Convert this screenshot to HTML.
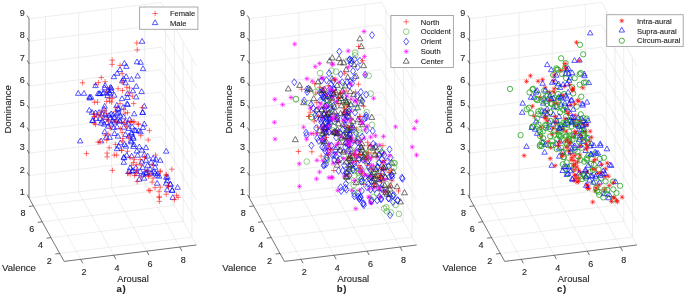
<!DOCTYPE html>
<html><head><meta charset="utf-8"><style>
html,body{margin:0;padding:0;background:#fff;}
svg{display:block;will-change:transform;}
text{font-family:"Liberation Sans",sans-serif;fill:#262626;stroke:#262626;stroke-width:0.12px;}
</style></head><body>
<svg width="685" height="297" viewBox="0 0 685 297">
<line x1="59.71" y1="253.47" x2="191.91" y2="237.07" stroke="#e3e3e3" stroke-width="0.6"/>
<line x1="50.94" y1="237.62" x2="183.14" y2="221.22" stroke="#e3e3e3" stroke-width="0.6"/>
<line x1="42.16" y1="221.77" x2="174.36" y2="205.37" stroke="#e3e3e3" stroke-width="0.6"/>
<line x1="33.39" y1="205.92" x2="165.59" y2="189.52" stroke="#e3e3e3" stroke-width="0.6"/>
<line x1="80.62" y1="259.35" x2="45.52" y2="195.95" stroke="#e3e3e3" stroke-width="0.6"/>
<line x1="113.67" y1="255.25" x2="78.57" y2="191.85" stroke="#e3e3e3" stroke-width="0.6"/>
<line x1="146.72" y1="251.15" x2="111.62" y2="187.75" stroke="#e3e3e3" stroke-width="0.6"/>
<line x1="179.77" y1="247.05" x2="144.67" y2="183.65" stroke="#e3e3e3" stroke-width="0.6"/>
<line x1="29.00" y1="198.00" x2="161.20" y2="181.60" stroke="#e3e3e3" stroke-width="0.6"/>
<line x1="29.00" y1="175.60" x2="161.20" y2="159.20" stroke="#e3e3e3" stroke-width="0.6"/>
<line x1="29.00" y1="153.20" x2="161.20" y2="136.80" stroke="#e3e3e3" stroke-width="0.6"/>
<line x1="29.00" y1="130.80" x2="161.20" y2="114.40" stroke="#e3e3e3" stroke-width="0.6"/>
<line x1="29.00" y1="108.40" x2="161.20" y2="92.00" stroke="#e3e3e3" stroke-width="0.6"/>
<line x1="29.00" y1="86.00" x2="161.20" y2="69.60" stroke="#e3e3e3" stroke-width="0.6"/>
<line x1="29.00" y1="63.60" x2="161.20" y2="47.20" stroke="#e3e3e3" stroke-width="0.6"/>
<line x1="29.00" y1="41.20" x2="161.20" y2="24.80" stroke="#e3e3e3" stroke-width="0.6"/>
<line x1="29.00" y1="18.80" x2="161.20" y2="2.40" stroke="#e3e3e3" stroke-width="0.6"/>
<line x1="45.52" y1="195.95" x2="45.52" y2="16.75" stroke="#e3e3e3" stroke-width="0.6"/>
<line x1="78.57" y1="191.85" x2="78.57" y2="12.65" stroke="#e3e3e3" stroke-width="0.6"/>
<line x1="111.62" y1="187.75" x2="111.62" y2="8.55" stroke="#e3e3e3" stroke-width="0.6"/>
<line x1="144.67" y1="183.65" x2="144.67" y2="4.45" stroke="#e3e3e3" stroke-width="0.6"/>
<line x1="196.30" y1="245.00" x2="161.20" y2="181.60" stroke="#e3e3e3" stroke-width="0.6"/>
<line x1="196.30" y1="222.60" x2="161.20" y2="159.20" stroke="#e3e3e3" stroke-width="0.6"/>
<line x1="196.30" y1="200.20" x2="161.20" y2="136.80" stroke="#e3e3e3" stroke-width="0.6"/>
<line x1="196.30" y1="177.80" x2="161.20" y2="114.40" stroke="#e3e3e3" stroke-width="0.6"/>
<line x1="196.30" y1="155.40" x2="161.20" y2="92.00" stroke="#e3e3e3" stroke-width="0.6"/>
<line x1="196.30" y1="133.00" x2="161.20" y2="69.60" stroke="#e3e3e3" stroke-width="0.6"/>
<line x1="196.30" y1="110.60" x2="161.20" y2="47.20" stroke="#e3e3e3" stroke-width="0.6"/>
<line x1="196.30" y1="88.20" x2="161.20" y2="24.80" stroke="#e3e3e3" stroke-width="0.6"/>
<line x1="196.30" y1="65.80" x2="161.20" y2="2.40" stroke="#e3e3e3" stroke-width="0.6"/>
<line x1="191.91" y1="237.07" x2="191.91" y2="57.87" stroke="#e3e3e3" stroke-width="0.6"/>
<line x1="183.14" y1="221.22" x2="183.14" y2="42.02" stroke="#e3e3e3" stroke-width="0.6"/>
<line x1="174.36" y1="205.37" x2="174.36" y2="26.17" stroke="#e3e3e3" stroke-width="0.6"/>
<line x1="165.59" y1="189.52" x2="165.59" y2="10.32" stroke="#e3e3e3" stroke-width="0.6"/>
<line x1="29.00" y1="198.00" x2="29.00" y2="18.80" stroke="#3a3a3a" stroke-width="0.7"/>
<line x1="64.10" y1="261.40" x2="29.00" y2="198.00" stroke="#3a3a3a" stroke-width="0.7"/>
<line x1="64.10" y1="261.40" x2="196.30" y2="245.00" stroke="#3a3a3a" stroke-width="0.7"/>
<line x1="29.00" y1="198.00" x2="27.16" y2="194.68" stroke="#3a3a3a" stroke-width="0.7"/>
<text x="24.70" y="195.10" font-size="9" text-anchor="end" font-weight="normal" >1</text>
<line x1="29.00" y1="175.60" x2="27.16" y2="172.28" stroke="#3a3a3a" stroke-width="0.7"/>
<text x="24.70" y="172.70" font-size="9" text-anchor="end" font-weight="normal" >2</text>
<line x1="29.00" y1="153.20" x2="27.16" y2="149.88" stroke="#3a3a3a" stroke-width="0.7"/>
<text x="24.70" y="150.30" font-size="9" text-anchor="end" font-weight="normal" >3</text>
<line x1="29.00" y1="130.80" x2="27.16" y2="127.48" stroke="#3a3a3a" stroke-width="0.7"/>
<text x="24.70" y="127.90" font-size="9" text-anchor="end" font-weight="normal" >4</text>
<line x1="29.00" y1="108.40" x2="27.16" y2="105.08" stroke="#3a3a3a" stroke-width="0.7"/>
<text x="24.70" y="105.50" font-size="9" text-anchor="end" font-weight="normal" >5</text>
<line x1="29.00" y1="86.00" x2="27.16" y2="82.68" stroke="#3a3a3a" stroke-width="0.7"/>
<text x="24.70" y="83.10" font-size="9" text-anchor="end" font-weight="normal" >6</text>
<line x1="29.00" y1="63.60" x2="27.16" y2="60.28" stroke="#3a3a3a" stroke-width="0.7"/>
<text x="24.70" y="60.70" font-size="9" text-anchor="end" font-weight="normal" >7</text>
<line x1="29.00" y1="41.20" x2="27.16" y2="37.88" stroke="#3a3a3a" stroke-width="0.7"/>
<text x="24.70" y="38.30" font-size="9" text-anchor="end" font-weight="normal" >8</text>
<line x1="29.00" y1="18.80" x2="27.16" y2="15.48" stroke="#3a3a3a" stroke-width="0.7"/>
<text x="24.70" y="15.90" font-size="9" text-anchor="end" font-weight="normal" >9</text>
<line x1="59.71" y1="253.47" x2="55.25" y2="254.03" stroke="#3a3a3a" stroke-width="0.7"/>
<text x="49.21" y="263.77" font-size="9" text-anchor="middle" font-weight="normal" >2</text>
<line x1="50.94" y1="237.62" x2="46.47" y2="238.18" stroke="#3a3a3a" stroke-width="0.7"/>
<text x="40.44" y="247.92" font-size="9" text-anchor="middle" font-weight="normal" >4</text>
<line x1="42.16" y1="221.77" x2="37.70" y2="222.33" stroke="#3a3a3a" stroke-width="0.7"/>
<text x="31.66" y="232.07" font-size="9" text-anchor="middle" font-weight="normal" >6</text>
<line x1="33.39" y1="205.92" x2="28.92" y2="206.48" stroke="#3a3a3a" stroke-width="0.7"/>
<text x="22.89" y="216.22" font-size="9" text-anchor="middle" font-weight="normal" >8</text>
<line x1="80.62" y1="259.35" x2="82.80" y2="263.29" stroke="#3a3a3a" stroke-width="0.7"/>
<text x="84.03" y="275.10" font-size="9" text-anchor="middle" font-weight="normal" >2</text>
<line x1="113.67" y1="255.25" x2="115.85" y2="259.19" stroke="#3a3a3a" stroke-width="0.7"/>
<text x="117.07" y="271.00" font-size="9" text-anchor="middle" font-weight="normal" >4</text>
<line x1="146.72" y1="251.15" x2="148.90" y2="255.09" stroke="#3a3a3a" stroke-width="0.7"/>
<text x="150.12" y="266.90" font-size="9" text-anchor="middle" font-weight="normal" >6</text>
<line x1="179.77" y1="247.05" x2="181.95" y2="250.99" stroke="#3a3a3a" stroke-width="0.7"/>
<text x="183.17" y="262.80" font-size="9" text-anchor="middle" font-weight="normal" >8</text>
<text x="2.00" y="270.80" font-size="9.6" text-anchor="start" font-weight="normal" >Valence</text>
<text x="117.20" y="282.00" font-size="9.35" text-anchor="start" font-weight="normal" >Arousal</text>
<text transform="translate(11.30,109.3) rotate(-90)" font-size="9.6" text-anchor="middle">Dominance</text>
<text x="116.50" y="292.00" font-size="9.6" text-anchor="start" font-weight="bold" letter-spacing="0.6">a)</text>
<line x1="280.01" y1="253.47" x2="412.21" y2="237.07" stroke="#e3e3e3" stroke-width="0.6"/>
<line x1="271.24" y1="237.62" x2="403.44" y2="221.22" stroke="#e3e3e3" stroke-width="0.6"/>
<line x1="262.46" y1="221.77" x2="394.66" y2="205.37" stroke="#e3e3e3" stroke-width="0.6"/>
<line x1="253.69" y1="205.92" x2="385.89" y2="189.52" stroke="#e3e3e3" stroke-width="0.6"/>
<line x1="300.93" y1="259.35" x2="265.82" y2="195.95" stroke="#e3e3e3" stroke-width="0.6"/>
<line x1="333.98" y1="255.25" x2="298.88" y2="191.85" stroke="#e3e3e3" stroke-width="0.6"/>
<line x1="367.02" y1="251.15" x2="331.93" y2="187.75" stroke="#e3e3e3" stroke-width="0.6"/>
<line x1="400.07" y1="247.05" x2="364.98" y2="183.65" stroke="#e3e3e3" stroke-width="0.6"/>
<line x1="249.30" y1="198.00" x2="381.50" y2="181.60" stroke="#e3e3e3" stroke-width="0.6"/>
<line x1="249.30" y1="175.60" x2="381.50" y2="159.20" stroke="#e3e3e3" stroke-width="0.6"/>
<line x1="249.30" y1="153.20" x2="381.50" y2="136.80" stroke="#e3e3e3" stroke-width="0.6"/>
<line x1="249.30" y1="130.80" x2="381.50" y2="114.40" stroke="#e3e3e3" stroke-width="0.6"/>
<line x1="249.30" y1="108.40" x2="381.50" y2="92.00" stroke="#e3e3e3" stroke-width="0.6"/>
<line x1="249.30" y1="86.00" x2="381.50" y2="69.60" stroke="#e3e3e3" stroke-width="0.6"/>
<line x1="249.30" y1="63.60" x2="381.50" y2="47.20" stroke="#e3e3e3" stroke-width="0.6"/>
<line x1="249.30" y1="41.20" x2="381.50" y2="24.80" stroke="#e3e3e3" stroke-width="0.6"/>
<line x1="249.30" y1="18.80" x2="381.50" y2="2.40" stroke="#e3e3e3" stroke-width="0.6"/>
<line x1="265.82" y1="195.95" x2="265.82" y2="16.75" stroke="#e3e3e3" stroke-width="0.6"/>
<line x1="298.88" y1="191.85" x2="298.88" y2="12.65" stroke="#e3e3e3" stroke-width="0.6"/>
<line x1="331.93" y1="187.75" x2="331.93" y2="8.55" stroke="#e3e3e3" stroke-width="0.6"/>
<line x1="364.98" y1="183.65" x2="364.98" y2="4.45" stroke="#e3e3e3" stroke-width="0.6"/>
<line x1="416.60" y1="245.00" x2="381.50" y2="181.60" stroke="#e3e3e3" stroke-width="0.6"/>
<line x1="416.60" y1="222.60" x2="381.50" y2="159.20" stroke="#e3e3e3" stroke-width="0.6"/>
<line x1="416.60" y1="200.20" x2="381.50" y2="136.80" stroke="#e3e3e3" stroke-width="0.6"/>
<line x1="416.60" y1="177.80" x2="381.50" y2="114.40" stroke="#e3e3e3" stroke-width="0.6"/>
<line x1="416.60" y1="155.40" x2="381.50" y2="92.00" stroke="#e3e3e3" stroke-width="0.6"/>
<line x1="416.60" y1="133.00" x2="381.50" y2="69.60" stroke="#e3e3e3" stroke-width="0.6"/>
<line x1="416.60" y1="110.60" x2="381.50" y2="47.20" stroke="#e3e3e3" stroke-width="0.6"/>
<line x1="416.60" y1="88.20" x2="381.50" y2="24.80" stroke="#e3e3e3" stroke-width="0.6"/>
<line x1="416.60" y1="65.80" x2="381.50" y2="2.40" stroke="#e3e3e3" stroke-width="0.6"/>
<line x1="412.21" y1="237.07" x2="412.21" y2="57.87" stroke="#e3e3e3" stroke-width="0.6"/>
<line x1="403.44" y1="221.22" x2="403.44" y2="42.02" stroke="#e3e3e3" stroke-width="0.6"/>
<line x1="394.66" y1="205.37" x2="394.66" y2="26.17" stroke="#e3e3e3" stroke-width="0.6"/>
<line x1="385.89" y1="189.52" x2="385.89" y2="10.32" stroke="#e3e3e3" stroke-width="0.6"/>
<line x1="249.30" y1="198.00" x2="249.30" y2="18.80" stroke="#3a3a3a" stroke-width="0.7"/>
<line x1="284.40" y1="261.40" x2="249.30" y2="198.00" stroke="#3a3a3a" stroke-width="0.7"/>
<line x1="284.40" y1="261.40" x2="416.60" y2="245.00" stroke="#3a3a3a" stroke-width="0.7"/>
<line x1="249.30" y1="198.00" x2="247.46" y2="194.68" stroke="#3a3a3a" stroke-width="0.7"/>
<text x="245.00" y="195.10" font-size="9" text-anchor="end" font-weight="normal" >1</text>
<line x1="249.30" y1="175.60" x2="247.46" y2="172.28" stroke="#3a3a3a" stroke-width="0.7"/>
<text x="245.00" y="172.70" font-size="9" text-anchor="end" font-weight="normal" >2</text>
<line x1="249.30" y1="153.20" x2="247.46" y2="149.88" stroke="#3a3a3a" stroke-width="0.7"/>
<text x="245.00" y="150.30" font-size="9" text-anchor="end" font-weight="normal" >3</text>
<line x1="249.30" y1="130.80" x2="247.46" y2="127.48" stroke="#3a3a3a" stroke-width="0.7"/>
<text x="245.00" y="127.90" font-size="9" text-anchor="end" font-weight="normal" >4</text>
<line x1="249.30" y1="108.40" x2="247.46" y2="105.08" stroke="#3a3a3a" stroke-width="0.7"/>
<text x="245.00" y="105.50" font-size="9" text-anchor="end" font-weight="normal" >5</text>
<line x1="249.30" y1="86.00" x2="247.46" y2="82.68" stroke="#3a3a3a" stroke-width="0.7"/>
<text x="245.00" y="83.10" font-size="9" text-anchor="end" font-weight="normal" >6</text>
<line x1="249.30" y1="63.60" x2="247.46" y2="60.28" stroke="#3a3a3a" stroke-width="0.7"/>
<text x="245.00" y="60.70" font-size="9" text-anchor="end" font-weight="normal" >7</text>
<line x1="249.30" y1="41.20" x2="247.46" y2="37.88" stroke="#3a3a3a" stroke-width="0.7"/>
<text x="245.00" y="38.30" font-size="9" text-anchor="end" font-weight="normal" >8</text>
<line x1="249.30" y1="18.80" x2="247.46" y2="15.48" stroke="#3a3a3a" stroke-width="0.7"/>
<text x="245.00" y="15.90" font-size="9" text-anchor="end" font-weight="normal" >9</text>
<line x1="280.01" y1="253.47" x2="275.55" y2="254.03" stroke="#3a3a3a" stroke-width="0.7"/>
<text x="269.51" y="263.77" font-size="9" text-anchor="middle" font-weight="normal" >2</text>
<line x1="271.24" y1="237.62" x2="266.77" y2="238.18" stroke="#3a3a3a" stroke-width="0.7"/>
<text x="260.74" y="247.92" font-size="9" text-anchor="middle" font-weight="normal" >4</text>
<line x1="262.46" y1="221.77" x2="258.00" y2="222.33" stroke="#3a3a3a" stroke-width="0.7"/>
<text x="251.96" y="232.07" font-size="9" text-anchor="middle" font-weight="normal" >6</text>
<line x1="253.69" y1="205.92" x2="249.22" y2="206.48" stroke="#3a3a3a" stroke-width="0.7"/>
<text x="243.19" y="216.22" font-size="9" text-anchor="middle" font-weight="normal" >8</text>
<line x1="300.93" y1="259.35" x2="303.10" y2="263.29" stroke="#3a3a3a" stroke-width="0.7"/>
<text x="304.32" y="275.10" font-size="9" text-anchor="middle" font-weight="normal" >2</text>
<line x1="333.98" y1="255.25" x2="336.15" y2="259.19" stroke="#3a3a3a" stroke-width="0.7"/>
<text x="337.38" y="271.00" font-size="9" text-anchor="middle" font-weight="normal" >4</text>
<line x1="367.02" y1="251.15" x2="369.20" y2="255.09" stroke="#3a3a3a" stroke-width="0.7"/>
<text x="370.42" y="266.90" font-size="9" text-anchor="middle" font-weight="normal" >6</text>
<line x1="400.07" y1="247.05" x2="402.25" y2="250.99" stroke="#3a3a3a" stroke-width="0.7"/>
<text x="403.47" y="262.80" font-size="9" text-anchor="middle" font-weight="normal" >8</text>
<text x="222.30" y="270.80" font-size="9.6" text-anchor="start" font-weight="normal" >Valence</text>
<text x="337.50" y="282.00" font-size="9.35" text-anchor="start" font-weight="normal" >Arousal</text>
<text transform="translate(231.60,109.3) rotate(-90)" font-size="9.6" text-anchor="middle">Dominance</text>
<text x="336.80" y="292.00" font-size="9.6" text-anchor="start" font-weight="bold" letter-spacing="0.6">b)</text>
<line x1="500.31" y1="253.47" x2="632.51" y2="237.07" stroke="#e3e3e3" stroke-width="0.6"/>
<line x1="491.54" y1="237.62" x2="623.74" y2="221.22" stroke="#e3e3e3" stroke-width="0.6"/>
<line x1="482.76" y1="221.77" x2="614.96" y2="205.37" stroke="#e3e3e3" stroke-width="0.6"/>
<line x1="473.99" y1="205.92" x2="606.19" y2="189.52" stroke="#e3e3e3" stroke-width="0.6"/>
<line x1="521.23" y1="259.35" x2="486.12" y2="195.95" stroke="#e3e3e3" stroke-width="0.6"/>
<line x1="554.27" y1="255.25" x2="519.17" y2="191.85" stroke="#e3e3e3" stroke-width="0.6"/>
<line x1="587.33" y1="251.15" x2="552.23" y2="187.75" stroke="#e3e3e3" stroke-width="0.6"/>
<line x1="620.38" y1="247.05" x2="585.27" y2="183.65" stroke="#e3e3e3" stroke-width="0.6"/>
<line x1="469.60" y1="198.00" x2="601.80" y2="181.60" stroke="#e3e3e3" stroke-width="0.6"/>
<line x1="469.60" y1="175.60" x2="601.80" y2="159.20" stroke="#e3e3e3" stroke-width="0.6"/>
<line x1="469.60" y1="153.20" x2="601.80" y2="136.80" stroke="#e3e3e3" stroke-width="0.6"/>
<line x1="469.60" y1="130.80" x2="601.80" y2="114.40" stroke="#e3e3e3" stroke-width="0.6"/>
<line x1="469.60" y1="108.40" x2="601.80" y2="92.00" stroke="#e3e3e3" stroke-width="0.6"/>
<line x1="469.60" y1="86.00" x2="601.80" y2="69.60" stroke="#e3e3e3" stroke-width="0.6"/>
<line x1="469.60" y1="63.60" x2="601.80" y2="47.20" stroke="#e3e3e3" stroke-width="0.6"/>
<line x1="469.60" y1="41.20" x2="601.80" y2="24.80" stroke="#e3e3e3" stroke-width="0.6"/>
<line x1="469.60" y1="18.80" x2="601.80" y2="2.40" stroke="#e3e3e3" stroke-width="0.6"/>
<line x1="486.12" y1="195.95" x2="486.12" y2="16.75" stroke="#e3e3e3" stroke-width="0.6"/>
<line x1="519.17" y1="191.85" x2="519.17" y2="12.65" stroke="#e3e3e3" stroke-width="0.6"/>
<line x1="552.23" y1="187.75" x2="552.23" y2="8.55" stroke="#e3e3e3" stroke-width="0.6"/>
<line x1="585.27" y1="183.65" x2="585.27" y2="4.45" stroke="#e3e3e3" stroke-width="0.6"/>
<line x1="636.90" y1="245.00" x2="601.80" y2="181.60" stroke="#e3e3e3" stroke-width="0.6"/>
<line x1="636.90" y1="222.60" x2="601.80" y2="159.20" stroke="#e3e3e3" stroke-width="0.6"/>
<line x1="636.90" y1="200.20" x2="601.80" y2="136.80" stroke="#e3e3e3" stroke-width="0.6"/>
<line x1="636.90" y1="177.80" x2="601.80" y2="114.40" stroke="#e3e3e3" stroke-width="0.6"/>
<line x1="636.90" y1="155.40" x2="601.80" y2="92.00" stroke="#e3e3e3" stroke-width="0.6"/>
<line x1="636.90" y1="133.00" x2="601.80" y2="69.60" stroke="#e3e3e3" stroke-width="0.6"/>
<line x1="636.90" y1="110.60" x2="601.80" y2="47.20" stroke="#e3e3e3" stroke-width="0.6"/>
<line x1="636.90" y1="88.20" x2="601.80" y2="24.80" stroke="#e3e3e3" stroke-width="0.6"/>
<line x1="636.90" y1="65.80" x2="601.80" y2="2.40" stroke="#e3e3e3" stroke-width="0.6"/>
<line x1="632.51" y1="237.07" x2="632.51" y2="57.87" stroke="#e3e3e3" stroke-width="0.6"/>
<line x1="623.74" y1="221.22" x2="623.74" y2="42.02" stroke="#e3e3e3" stroke-width="0.6"/>
<line x1="614.96" y1="205.37" x2="614.96" y2="26.17" stroke="#e3e3e3" stroke-width="0.6"/>
<line x1="606.19" y1="189.52" x2="606.19" y2="10.32" stroke="#e3e3e3" stroke-width="0.6"/>
<line x1="469.60" y1="198.00" x2="469.60" y2="18.80" stroke="#3a3a3a" stroke-width="0.7"/>
<line x1="504.70" y1="261.40" x2="469.60" y2="198.00" stroke="#3a3a3a" stroke-width="0.7"/>
<line x1="504.70" y1="261.40" x2="636.90" y2="245.00" stroke="#3a3a3a" stroke-width="0.7"/>
<line x1="469.60" y1="198.00" x2="467.76" y2="194.68" stroke="#3a3a3a" stroke-width="0.7"/>
<text x="465.30" y="195.10" font-size="9" text-anchor="end" font-weight="normal" >1</text>
<line x1="469.60" y1="175.60" x2="467.76" y2="172.28" stroke="#3a3a3a" stroke-width="0.7"/>
<text x="465.30" y="172.70" font-size="9" text-anchor="end" font-weight="normal" >2</text>
<line x1="469.60" y1="153.20" x2="467.76" y2="149.88" stroke="#3a3a3a" stroke-width="0.7"/>
<text x="465.30" y="150.30" font-size="9" text-anchor="end" font-weight="normal" >3</text>
<line x1="469.60" y1="130.80" x2="467.76" y2="127.48" stroke="#3a3a3a" stroke-width="0.7"/>
<text x="465.30" y="127.90" font-size="9" text-anchor="end" font-weight="normal" >4</text>
<line x1="469.60" y1="108.40" x2="467.76" y2="105.08" stroke="#3a3a3a" stroke-width="0.7"/>
<text x="465.30" y="105.50" font-size="9" text-anchor="end" font-weight="normal" >5</text>
<line x1="469.60" y1="86.00" x2="467.76" y2="82.68" stroke="#3a3a3a" stroke-width="0.7"/>
<text x="465.30" y="83.10" font-size="9" text-anchor="end" font-weight="normal" >6</text>
<line x1="469.60" y1="63.60" x2="467.76" y2="60.28" stroke="#3a3a3a" stroke-width="0.7"/>
<text x="465.30" y="60.70" font-size="9" text-anchor="end" font-weight="normal" >7</text>
<line x1="469.60" y1="41.20" x2="467.76" y2="37.88" stroke="#3a3a3a" stroke-width="0.7"/>
<text x="465.30" y="38.30" font-size="9" text-anchor="end" font-weight="normal" >8</text>
<line x1="469.60" y1="18.80" x2="467.76" y2="15.48" stroke="#3a3a3a" stroke-width="0.7"/>
<text x="465.30" y="15.90" font-size="9" text-anchor="end" font-weight="normal" >9</text>
<line x1="500.31" y1="253.47" x2="495.85" y2="254.03" stroke="#3a3a3a" stroke-width="0.7"/>
<text x="489.81" y="263.77" font-size="9" text-anchor="middle" font-weight="normal" >2</text>
<line x1="491.54" y1="237.62" x2="487.07" y2="238.18" stroke="#3a3a3a" stroke-width="0.7"/>
<text x="481.04" y="247.92" font-size="9" text-anchor="middle" font-weight="normal" >4</text>
<line x1="482.76" y1="221.77" x2="478.30" y2="222.33" stroke="#3a3a3a" stroke-width="0.7"/>
<text x="472.26" y="232.07" font-size="9" text-anchor="middle" font-weight="normal" >6</text>
<line x1="473.99" y1="205.92" x2="469.52" y2="206.48" stroke="#3a3a3a" stroke-width="0.7"/>
<text x="463.49" y="216.22" font-size="9" text-anchor="middle" font-weight="normal" >8</text>
<line x1="521.23" y1="259.35" x2="523.40" y2="263.29" stroke="#3a3a3a" stroke-width="0.7"/>
<text x="524.62" y="275.10" font-size="9" text-anchor="middle" font-weight="normal" >2</text>
<line x1="554.27" y1="255.25" x2="556.45" y2="259.19" stroke="#3a3a3a" stroke-width="0.7"/>
<text x="557.67" y="271.00" font-size="9" text-anchor="middle" font-weight="normal" >4</text>
<line x1="587.33" y1="251.15" x2="589.50" y2="255.09" stroke="#3a3a3a" stroke-width="0.7"/>
<text x="590.73" y="266.90" font-size="9" text-anchor="middle" font-weight="normal" >6</text>
<line x1="620.38" y1="247.05" x2="622.55" y2="250.99" stroke="#3a3a3a" stroke-width="0.7"/>
<text x="623.77" y="262.80" font-size="9" text-anchor="middle" font-weight="normal" >8</text>
<text x="442.60" y="270.80" font-size="9.6" text-anchor="start" font-weight="normal" >Valence</text>
<text x="557.80" y="282.00" font-size="9.35" text-anchor="start" font-weight="normal" >Arousal</text>
<text transform="translate(451.90,109.3) rotate(-90)" font-size="9.6" text-anchor="middle">Dominance</text>
<text x="557.10" y="292.00" font-size="9.6" text-anchor="start" font-weight="bold" letter-spacing="0.6">c)</text>
<path d="M134.05 43.00H139.55M136.80 40.25V45.75" stroke="#ff0000" stroke-width="0.55" fill="none"/>
<path d="M134.45 49.90H139.95M137.20 47.15V52.65" stroke="#ff0000" stroke-width="0.55" fill="none"/>
<path d="M142.10 38.50L144.85 43.30H139.35Z" stroke="#0000ff" stroke-width="0.65" fill="none" stroke-linejoin="miter"/>
<path d="M109.45 60.20H114.95M112.20 57.45V62.95" stroke="#ff0000" stroke-width="0.55" fill="none"/>
<path d="M109.35 64.40H114.85M112.10 61.65V67.15" stroke="#ff0000" stroke-width="0.55" fill="none"/>
<path d="M117.35 65.40H122.85M120.10 62.65V68.15" stroke="#ff0000" stroke-width="0.55" fill="none"/>
<path d="M124.40 60.50L127.15 65.30H121.65Z" stroke="#0000ff" stroke-width="0.65" fill="none" stroke-linejoin="miter"/>
<path d="M126.40 63.60L129.15 68.40H123.65Z" stroke="#0000ff" stroke-width="0.65" fill="none" stroke-linejoin="miter"/>
<path d="M137.00 59.00L139.75 63.80H134.25Z" stroke="#0000ff" stroke-width="0.65" fill="none" stroke-linejoin="miter"/>
<path d="M140.60 59.50L143.35 64.30H137.85Z" stroke="#0000ff" stroke-width="0.65" fill="none" stroke-linejoin="miter"/>
<path d="M143.00 65.80L145.75 70.60H140.25Z" stroke="#0000ff" stroke-width="0.65" fill="none" stroke-linejoin="miter"/>
<path d="M79.85 82.80H85.35M82.60 80.05V85.55" stroke="#ff0000" stroke-width="0.55" fill="none"/>
<path d="M95.65 82.60H101.15M98.40 79.85V85.35" stroke="#ff0000" stroke-width="0.55" fill="none"/>
<path d="M92.95 84.50H98.45M95.70 81.75V87.25" stroke="#ff0000" stroke-width="0.55" fill="none"/>
<path d="M95.50 82.80L98.25 87.60H92.75Z" stroke="#0000ff" stroke-width="0.65" fill="none" stroke-linejoin="miter"/>
<path d="M78.20 90.50L80.95 95.30H75.45Z" stroke="#0000ff" stroke-width="0.65" fill="none" stroke-linejoin="miter"/>
<path d="M84.00 90.50L86.75 95.30H81.25Z" stroke="#0000ff" stroke-width="0.65" fill="none" stroke-linejoin="miter"/>
<path d="M89.60 94.20L92.35 99.00H86.85Z" stroke="#0000ff" stroke-width="0.65" fill="none" stroke-linejoin="miter"/>
<path d="M89.60 95.10L92.35 99.90H86.85Z" stroke="#0000ff" stroke-width="0.65" fill="none" stroke-linejoin="miter"/>
<path d="M99.30 90.70L102.05 95.50H96.55Z" stroke="#0000ff" stroke-width="0.65" fill="none" stroke-linejoin="miter"/>
<path d="M91.65 102.20H97.15M94.40 99.45V104.95" stroke="#ff0000" stroke-width="0.55" fill="none"/>
<path d="M94.75 102.10H100.25M97.50 99.35V104.85" stroke="#ff0000" stroke-width="0.55" fill="none"/>
<path d="M89.30 107.30L92.05 112.10H86.55Z" stroke="#0000ff" stroke-width="0.65" fill="none" stroke-linejoin="miter"/>
<path d="M98.55 77.60H104.05M101.30 74.85V80.35" stroke="#ff0000" stroke-width="0.55" fill="none"/>
<path d="M102.35 81.70H107.85M105.10 78.95V84.45" stroke="#ff0000" stroke-width="0.55" fill="none"/>
<path d="M105.10 82.50L107.85 87.30H102.35Z" stroke="#0000ff" stroke-width="0.65" fill="none" stroke-linejoin="miter"/>
<path d="M104.60 85.00L107.35 89.80H101.85Z" stroke="#0000ff" stroke-width="0.65" fill="none" stroke-linejoin="miter"/>
<path d="M106.85 87.70H112.35M109.60 84.95V90.45" stroke="#ff0000" stroke-width="0.55" fill="none"/>
<path d="M110.70 84.50L113.45 89.30H107.95Z" stroke="#0000ff" stroke-width="0.65" fill="none" stroke-linejoin="miter"/>
<path d="M108.10 87.60L110.85 92.40H105.35Z" stroke="#0000ff" stroke-width="0.65" fill="none" stroke-linejoin="miter"/>
<path d="M104.35 91.30H109.85M107.10 88.55V94.05" stroke="#ff0000" stroke-width="0.55" fill="none"/>
<path d="M111.20 87.60L113.95 92.40H108.45Z" stroke="#0000ff" stroke-width="0.65" fill="none" stroke-linejoin="miter"/>
<path d="M103.60 89.60L106.35 94.40H100.85Z" stroke="#0000ff" stroke-width="0.65" fill="none" stroke-linejoin="miter"/>
<path d="M109.10 89.60L111.85 94.40H106.35Z" stroke="#0000ff" stroke-width="0.65" fill="none" stroke-linejoin="miter"/>
<path d="M119.35 73.40H124.85M122.10 70.65V76.15" stroke="#ff0000" stroke-width="0.55" fill="none"/>
<path d="M122.30 78.00L125.05 82.80H119.55Z" stroke="#0000ff" stroke-width="0.65" fill="none" stroke-linejoin="miter"/>
<path d="M119.45 82.00H124.95M122.20 79.25V84.75" stroke="#ff0000" stroke-width="0.55" fill="none"/>
<path d="M115.35 88.70H120.85M118.10 85.95V91.45" stroke="#ff0000" stroke-width="0.55" fill="none"/>
<path d="M119.75 90.50H125.25M122.50 87.75V93.25" stroke="#ff0000" stroke-width="0.55" fill="none"/>
<path d="M126.20 73.80L128.95 78.60H123.45Z" stroke="#0000ff" stroke-width="0.65" fill="none" stroke-linejoin="miter"/>
<path d="M123.50 75.90L126.25 80.70H120.75Z" stroke="#0000ff" stroke-width="0.65" fill="none" stroke-linejoin="miter"/>
<path d="M131.50 76.50L134.25 81.30H128.75Z" stroke="#0000ff" stroke-width="0.65" fill="none" stroke-linejoin="miter"/>
<path d="M137.60 73.20L140.35 78.00H134.85Z" stroke="#0000ff" stroke-width="0.65" fill="none" stroke-linejoin="miter"/>
<path d="M136.30 83.50L139.05 88.30H133.55Z" stroke="#0000ff" stroke-width="0.65" fill="none" stroke-linejoin="miter"/>
<path d="M111.30 85.30L114.05 90.10H108.55Z" stroke="#0000ff" stroke-width="0.65" fill="none" stroke-linejoin="miter"/>
<path d="M124.05 87.30H129.55M126.80 84.55V90.05" stroke="#ff0000" stroke-width="0.55" fill="none"/>
<path d="M126.75 88.00H132.25M129.50 85.25V90.75" stroke="#ff0000" stroke-width="0.55" fill="none"/>
<path d="M132.90 88.00L135.65 92.80H130.15Z" stroke="#0000ff" stroke-width="0.65" fill="none" stroke-linejoin="miter"/>
<path d="M141.60 88.70L144.35 93.50H138.85Z" stroke="#0000ff" stroke-width="0.65" fill="none" stroke-linejoin="miter"/>
<path d="M127.50 90.70L130.25 95.50H124.75Z" stroke="#0000ff" stroke-width="0.65" fill="none" stroke-linejoin="miter"/>
<path d="M126.35 93.00H131.85M129.10 90.25V95.75" stroke="#ff0000" stroke-width="0.55" fill="none"/>
<path d="M129.55 96.20H135.05M132.30 93.45V98.95" stroke="#ff0000" stroke-width="0.55" fill="none"/>
<path d="M136.20 94.10L138.95 98.90H133.45Z" stroke="#0000ff" stroke-width="0.65" fill="none" stroke-linejoin="miter"/>
<path d="M127.40 94.70L130.15 99.50H124.65Z" stroke="#0000ff" stroke-width="0.65" fill="none" stroke-linejoin="miter"/>
<path d="M125.60 80.00L128.35 84.80H122.85Z" stroke="#0000ff" stroke-width="0.65" fill="none" stroke-linejoin="miter"/>
<path d="M91.45 116.80H96.95M94.20 114.05V119.55" stroke="#ff0000" stroke-width="0.55" fill="none"/>
<path d="M92.40 117.60L95.15 122.40H89.65Z" stroke="#0000ff" stroke-width="0.65" fill="none" stroke-linejoin="miter"/>
<path d="M91.45 123.30H96.95M94.20 120.55V126.05" stroke="#ff0000" stroke-width="0.55" fill="none"/>
<path d="M98.10 90.80L100.85 95.60H95.35Z" stroke="#0000ff" stroke-width="0.65" fill="none" stroke-linejoin="miter"/>
<path d="M100.10 90.80L102.85 95.60H97.35Z" stroke="#0000ff" stroke-width="0.65" fill="none" stroke-linejoin="miter"/>
<path d="M103.10 90.80L105.85 95.60H100.35Z" stroke="#0000ff" stroke-width="0.65" fill="none" stroke-linejoin="miter"/>
<path d="M110.20 90.80L112.95 95.60H107.45Z" stroke="#0000ff" stroke-width="0.65" fill="none" stroke-linejoin="miter"/>
<path d="M114.20 92.30L116.95 97.10H111.45Z" stroke="#0000ff" stroke-width="0.65" fill="none" stroke-linejoin="miter"/>
<path d="M107.70 92.80L110.45 97.60H104.95Z" stroke="#0000ff" stroke-width="0.65" fill="none" stroke-linejoin="miter"/>
<path d="M91.00 94.30L93.75 99.10H88.25Z" stroke="#0000ff" stroke-width="0.65" fill="none" stroke-linejoin="miter"/>
<path d="M103.95 101.60H109.45M106.70 98.85V104.35" stroke="#ff0000" stroke-width="0.55" fill="none"/>
<path d="M106.95 101.10H112.45M109.70 98.35V103.85" stroke="#ff0000" stroke-width="0.55" fill="none"/>
<path d="M108.95 102.10H114.45M111.70 99.35V104.85" stroke="#ff0000" stroke-width="0.55" fill="none"/>
<path d="M109.45 98.60H114.95M112.20 95.85V101.35" stroke="#ff0000" stroke-width="0.55" fill="none"/>
<path d="M106.45 98.10H111.95M109.20 95.35V100.85" stroke="#ff0000" stroke-width="0.55" fill="none"/>
<path d="M104.60 103.40L107.35 108.20H101.85Z" stroke="#0000ff" stroke-width="0.65" fill="none" stroke-linejoin="miter"/>
<path d="M104.10 106.00L106.85 110.80H101.35Z" stroke="#0000ff" stroke-width="0.65" fill="none" stroke-linejoin="miter"/>
<path d="M101.35 110.20H106.85M104.10 107.45V112.95" stroke="#ff0000" stroke-width="0.55" fill="none"/>
<path d="M116.80 102.40L119.55 107.20H114.05Z" stroke="#0000ff" stroke-width="0.65" fill="none" stroke-linejoin="miter"/>
<path d="M117.80 105.50L120.55 110.30H115.05Z" stroke="#0000ff" stroke-width="0.65" fill="none" stroke-linejoin="miter"/>
<path d="M113.05 107.70H118.55M115.80 104.95V110.45" stroke="#ff0000" stroke-width="0.55" fill="none"/>
<path d="M92.00 109.50L94.75 114.30H89.25Z" stroke="#0000ff" stroke-width="0.65" fill="none" stroke-linejoin="miter"/>
<path d="M91.25 113.70H96.75M94.00 110.95V116.45" stroke="#ff0000" stroke-width="0.55" fill="none"/>
<path d="M95.60 110.00L98.35 114.80H92.85Z" stroke="#0000ff" stroke-width="0.65" fill="none" stroke-linejoin="miter"/>
<path d="M99.10 109.50L101.85 114.30H96.35Z" stroke="#0000ff" stroke-width="0.65" fill="none" stroke-linejoin="miter"/>
<path d="M98.35 112.20H103.85M101.10 109.45V114.95" stroke="#ff0000" stroke-width="0.55" fill="none"/>
<path d="M102.10 111.00L104.85 115.80H99.35Z" stroke="#0000ff" stroke-width="0.65" fill="none" stroke-linejoin="miter"/>
<path d="M95.85 115.20H101.35M98.60 112.45V117.95" stroke="#ff0000" stroke-width="0.55" fill="none"/>
<path d="M105.20 111.50L107.95 116.30H102.45Z" stroke="#0000ff" stroke-width="0.65" fill="none" stroke-linejoin="miter"/>
<path d="M103.95 113.70H109.45M106.70 110.95V116.45" stroke="#ff0000" stroke-width="0.55" fill="none"/>
<path d="M109.20 112.50L111.95 117.30H106.45Z" stroke="#0000ff" stroke-width="0.65" fill="none" stroke-linejoin="miter"/>
<path d="M111.20 111.00L113.95 115.80H108.45Z" stroke="#0000ff" stroke-width="0.65" fill="none" stroke-linejoin="miter"/>
<path d="M113.20 112.00L115.95 116.80H110.45Z" stroke="#0000ff" stroke-width="0.65" fill="none" stroke-linejoin="miter"/>
<path d="M112.55 111.70H118.05M115.30 108.95V114.45" stroke="#ff0000" stroke-width="0.55" fill="none"/>
<path d="M117.30 111.00L120.05 115.80H114.55Z" stroke="#0000ff" stroke-width="0.65" fill="none" stroke-linejoin="miter"/>
<path d="M91.75 116.70H97.25M94.50 113.95V119.45" stroke="#ff0000" stroke-width="0.55" fill="none"/>
<path d="M96.10 115.60L98.85 120.40H93.35Z" stroke="#0000ff" stroke-width="0.65" fill="none" stroke-linejoin="miter"/>
<path d="M100.10 115.60L102.85 120.40H97.35Z" stroke="#0000ff" stroke-width="0.65" fill="none" stroke-linejoin="miter"/>
<path d="M100.35 117.30H105.85M103.10 114.55V120.05" stroke="#ff0000" stroke-width="0.55" fill="none"/>
<path d="M106.20 114.60L108.95 119.40H103.45Z" stroke="#0000ff" stroke-width="0.65" fill="none" stroke-linejoin="miter"/>
<path d="M110.20 115.10L112.95 119.90H107.45Z" stroke="#0000ff" stroke-width="0.65" fill="none" stroke-linejoin="miter"/>
<path d="M114.20 114.60L116.95 119.40H111.45Z" stroke="#0000ff" stroke-width="0.65" fill="none" stroke-linejoin="miter"/>
<path d="M93.00 117.60L95.75 122.40H90.25Z" stroke="#0000ff" stroke-width="0.65" fill="none" stroke-linejoin="miter"/>
<path d="M102.10 118.10L104.85 122.90H99.35Z" stroke="#0000ff" stroke-width="0.65" fill="none" stroke-linejoin="miter"/>
<path d="M104.45 119.30H109.95M107.20 116.55V122.05" stroke="#ff0000" stroke-width="0.55" fill="none"/>
<path d="M112.70 117.60L115.45 122.40H109.95Z" stroke="#0000ff" stroke-width="0.65" fill="none" stroke-linejoin="miter"/>
<path d="M116.80 117.10L119.55 121.90H114.05Z" stroke="#0000ff" stroke-width="0.65" fill="none" stroke-linejoin="miter"/>
<path d="M122.00 95.80L124.75 100.60H119.25Z" stroke="#0000ff" stroke-width="0.65" fill="none" stroke-linejoin="miter"/>
<path d="M127.10 100.90L129.85 105.70H124.35Z" stroke="#0000ff" stroke-width="0.65" fill="none" stroke-linejoin="miter"/>
<path d="M127.60 101.70L130.35 106.50H124.85Z" stroke="#0000ff" stroke-width="0.65" fill="none" stroke-linejoin="miter"/>
<path d="M130.95 103.60H136.45M133.70 100.85V106.35" stroke="#ff0000" stroke-width="0.55" fill="none"/>
<path d="M117.25 103.60H122.75M120.00 100.85V106.35" stroke="#ff0000" stroke-width="0.55" fill="none"/>
<path d="M123.10 104.40L125.85 109.20H120.35Z" stroke="#0000ff" stroke-width="0.65" fill="none" stroke-linejoin="miter"/>
<path d="M120.85 109.10H126.35M123.60 106.35V111.85" stroke="#ff0000" stroke-width="0.55" fill="none"/>
<path d="M144.30 103.40L147.05 108.20H141.55Z" stroke="#0000ff" stroke-width="0.65" fill="none" stroke-linejoin="miter"/>
<path d="M139.45 107.60H144.95M142.20 104.85V110.35" stroke="#ff0000" stroke-width="0.55" fill="none"/>
<path d="M142.70 109.50L145.45 114.30H139.95Z" stroke="#0000ff" stroke-width="0.65" fill="none" stroke-linejoin="miter"/>
<path d="M134.20 111.00L136.95 115.80H131.45Z" stroke="#0000ff" stroke-width="0.65" fill="none" stroke-linejoin="miter"/>
<path d="M124.85 112.70H130.35M127.60 109.95V115.45" stroke="#ff0000" stroke-width="0.55" fill="none"/>
<path d="M122.35 113.20H127.85M125.10 110.45V115.95" stroke="#ff0000" stroke-width="0.55" fill="none"/>
<path d="M119.00 110.00L121.75 114.80H116.25Z" stroke="#0000ff" stroke-width="0.65" fill="none" stroke-linejoin="miter"/>
<path d="M120.00 112.50L122.75 117.30H117.25Z" stroke="#0000ff" stroke-width="0.65" fill="none" stroke-linejoin="miter"/>
<path d="M123.60 114.00L126.35 118.80H120.85Z" stroke="#0000ff" stroke-width="0.65" fill="none" stroke-linejoin="miter"/>
<path d="M129.60 116.50L132.35 121.30H126.85Z" stroke="#0000ff" stroke-width="0.65" fill="none" stroke-linejoin="miter"/>
<path d="M130.45 121.80H135.95M133.20 119.05V124.55" stroke="#ff0000" stroke-width="0.55" fill="none"/>
<path d="M135.45 123.80H140.95M138.20 121.05V126.55" stroke="#ff0000" stroke-width="0.55" fill="none"/>
<path d="M144.30 121.10L147.05 125.90H141.55Z" stroke="#0000ff" stroke-width="0.65" fill="none" stroke-linejoin="miter"/>
<path d="M119.50 118.10L122.25 122.90H116.75Z" stroke="#0000ff" stroke-width="0.65" fill="none" stroke-linejoin="miter"/>
<path d="M118.75 122.30H124.25M121.50 119.55V125.05" stroke="#ff0000" stroke-width="0.55" fill="none"/>
<path d="M125.10 119.10L127.85 123.90H122.35Z" stroke="#0000ff" stroke-width="0.65" fill="none" stroke-linejoin="miter"/>
<path d="M127.35 122.30H132.85M130.10 119.55V125.05" stroke="#ff0000" stroke-width="0.55" fill="none"/>
<path d="M118.50 106.40L121.25 111.20H115.75Z" stroke="#0000ff" stroke-width="0.65" fill="none" stroke-linejoin="miter"/>
<path d="M92.85 124.50H98.35M95.60 121.75V127.25" stroke="#ff0000" stroke-width="0.55" fill="none"/>
<path d="M101.10 120.30L103.85 125.10H98.35Z" stroke="#0000ff" stroke-width="0.65" fill="none" stroke-linejoin="miter"/>
<path d="M104.20 121.30L106.95 126.10H101.45Z" stroke="#0000ff" stroke-width="0.65" fill="none" stroke-linejoin="miter"/>
<path d="M107.20 119.80L109.95 124.60H104.45Z" stroke="#0000ff" stroke-width="0.65" fill="none" stroke-linejoin="miter"/>
<path d="M105.95 121.00H111.45M108.70 118.25V123.75" stroke="#ff0000" stroke-width="0.55" fill="none"/>
<path d="M111.20 121.30L113.95 126.10H108.45Z" stroke="#0000ff" stroke-width="0.65" fill="none" stroke-linejoin="miter"/>
<path d="M114.30 119.30L117.05 124.10H111.55Z" stroke="#0000ff" stroke-width="0.65" fill="none" stroke-linejoin="miter"/>
<path d="M112.55 121.00H118.05M115.30 118.25V123.75" stroke="#ff0000" stroke-width="0.55" fill="none"/>
<path d="M108.20 123.40L110.95 128.20H105.45Z" stroke="#0000ff" stroke-width="0.65" fill="none" stroke-linejoin="miter"/>
<path d="M107.45 128.10H112.95M110.20 125.35V130.85" stroke="#ff0000" stroke-width="0.55" fill="none"/>
<path d="M104.70 128.90L107.45 133.70H101.95Z" stroke="#0000ff" stroke-width="0.65" fill="none" stroke-linejoin="miter"/>
<path d="M102.45 135.20H107.95M105.20 132.45V137.95" stroke="#ff0000" stroke-width="0.55" fill="none"/>
<path d="M105.45 134.10H110.95M108.20 131.35V136.85" stroke="#ff0000" stroke-width="0.55" fill="none"/>
<path d="M109.70 134.50L112.45 139.30H106.95Z" stroke="#0000ff" stroke-width="0.65" fill="none" stroke-linejoin="miter"/>
<path d="M106.20 134.50L108.95 139.30H103.45Z" stroke="#0000ff" stroke-width="0.65" fill="none" stroke-linejoin="miter"/>
<path d="M103.95 140.20H109.45M106.70 137.45V142.95" stroke="#ff0000" stroke-width="0.55" fill="none"/>
<path d="M101.10 138.00L103.85 142.80H98.35Z" stroke="#0000ff" stroke-width="0.65" fill="none" stroke-linejoin="miter"/>
<path d="M97.35 141.70H102.85M100.10 138.95V144.45" stroke="#ff0000" stroke-width="0.55" fill="none"/>
<path d="M95.35 142.20H100.85M98.10 139.45V144.95" stroke="#ff0000" stroke-width="0.55" fill="none"/>
<path d="M106.45 147.80H111.95M109.20 145.05V150.55" stroke="#ff0000" stroke-width="0.55" fill="none"/>
<path d="M114.25 122.00H119.75M117.00 119.25V124.75" stroke="#ff0000" stroke-width="0.55" fill="none"/>
<path d="M120.00 118.30L122.75 123.10H117.25Z" stroke="#0000ff" stroke-width="0.65" fill="none" stroke-linejoin="miter"/>
<path d="M121.85 122.50H127.35M124.60 119.75V125.25" stroke="#ff0000" stroke-width="0.55" fill="none"/>
<path d="M128.10 120.30L130.85 125.10H125.35Z" stroke="#0000ff" stroke-width="0.65" fill="none" stroke-linejoin="miter"/>
<path d="M128.45 121.50H133.95M131.20 118.75V124.25" stroke="#ff0000" stroke-width="0.55" fill="none"/>
<path d="M131.45 122.00H136.95M134.20 119.25V124.75" stroke="#ff0000" stroke-width="0.55" fill="none"/>
<path d="M135.45 124.50H140.95M138.20 121.75V127.25" stroke="#ff0000" stroke-width="0.55" fill="none"/>
<path d="M143.00 124.60L145.75 129.40H140.25Z" stroke="#0000ff" stroke-width="0.65" fill="none" stroke-linejoin="miter"/>
<path d="M138.70 127.90L141.45 132.70H135.95Z" stroke="#0000ff" stroke-width="0.65" fill="none" stroke-linejoin="miter"/>
<path d="M138.05 135.70H143.55M140.80 132.95V138.45" stroke="#ff0000" stroke-width="0.55" fill="none"/>
<path d="M146.65 130.60H152.15M149.40 127.85V133.35" stroke="#ff0000" stroke-width="0.55" fill="none"/>
<path d="M140.60 129.10L143.35 133.90H137.85Z" stroke="#0000ff" stroke-width="0.65" fill="none" stroke-linejoin="miter"/>
<path d="M145.45 140.00H150.95M148.20 137.25V142.75" stroke="#ff0000" stroke-width="0.55" fill="none"/>
<path d="M142.60 109.70L145.35 114.50H139.85Z" stroke="#0000ff" stroke-width="0.65" fill="none" stroke-linejoin="miter"/>
<path d="M80.20 138.10L82.95 142.90H77.45Z" stroke="#0000ff" stroke-width="0.65" fill="none" stroke-linejoin="miter"/>
<path d="M83.75 153.60H89.25M86.50 150.85V156.35" stroke="#ff0000" stroke-width="0.55" fill="none"/>
<path d="M104.35 153.10H109.85M107.10 150.35V155.85" stroke="#ff0000" stroke-width="0.55" fill="none"/>
<path d="M104.35 156.90H109.85M107.10 154.15V159.65" stroke="#ff0000" stroke-width="0.55" fill="none"/>
<path d="M111.45 155.10H116.95M114.20 152.35V157.85" stroke="#ff0000" stroke-width="0.55" fill="none"/>
<path d="M113.95 155.10H119.45M116.70 152.35V157.85" stroke="#ff0000" stroke-width="0.55" fill="none"/>
<path d="M119.05 150.10H124.55M121.80 147.35V152.85" stroke="#ff0000" stroke-width="0.55" fill="none"/>
<path d="M123.80 154.40L126.55 159.20H121.05Z" stroke="#0000ff" stroke-width="0.65" fill="none" stroke-linejoin="miter"/>
<path d="M123.80 159.50L126.55 164.30H121.05Z" stroke="#0000ff" stroke-width="0.65" fill="none" stroke-linejoin="miter"/>
<path d="M109.65 170.40H115.15M112.40 167.65V173.15" stroke="#ff0000" stroke-width="0.55" fill="none"/>
<path d="M118.75 150.50H124.25M121.50 147.75V153.25" stroke="#ff0000" stroke-width="0.55" fill="none"/>
<path d="M124.00 154.90L126.75 159.70H121.25Z" stroke="#0000ff" stroke-width="0.65" fill="none" stroke-linejoin="miter"/>
<path d="M133.10 167.60L135.85 172.40H130.35Z" stroke="#0000ff" stroke-width="0.65" fill="none" stroke-linejoin="miter"/>
<path d="M133.95 170.30H139.45M136.70 167.55V173.05" stroke="#ff0000" stroke-width="0.55" fill="none"/>
<path d="M140.20 168.60L142.95 173.40H137.45Z" stroke="#0000ff" stroke-width="0.65" fill="none" stroke-linejoin="miter"/>
<path d="M144.55 170.30H150.05M147.30 167.55V173.05" stroke="#ff0000" stroke-width="0.55" fill="none"/>
<path d="M125.35 173.30H130.85M128.10 170.55V176.05" stroke="#ff0000" stroke-width="0.55" fill="none"/>
<path d="M137.20 170.60L139.95 175.40H134.45Z" stroke="#0000ff" stroke-width="0.65" fill="none" stroke-linejoin="miter"/>
<path d="M145.30 170.10L148.05 174.90H142.55Z" stroke="#0000ff" stroke-width="0.65" fill="none" stroke-linejoin="miter"/>
<path d="M166.20 148.40L168.95 153.20H163.45Z" stroke="#0000ff" stroke-width="0.65" fill="none" stroke-linejoin="miter"/>
<path d="M152.85 155.10H158.35M155.60 152.35V157.85" stroke="#ff0000" stroke-width="0.55" fill="none"/>
<path d="M160.20 157.50L162.95 162.30H157.45Z" stroke="#0000ff" stroke-width="0.65" fill="none" stroke-linejoin="miter"/>
<path d="M156.10 156.40L158.85 161.20H153.35Z" stroke="#0000ff" stroke-width="0.65" fill="none" stroke-linejoin="miter"/>
<path d="M153.10 155.40L155.85 160.20H150.35Z" stroke="#0000ff" stroke-width="0.65" fill="none" stroke-linejoin="miter"/>
<path d="M151.10 159.50L153.85 164.30H148.35Z" stroke="#0000ff" stroke-width="0.65" fill="none" stroke-linejoin="miter"/>
<path d="M155.10 160.50L157.85 165.30H152.35Z" stroke="#0000ff" stroke-width="0.65" fill="none" stroke-linejoin="miter"/>
<path d="M149.35 165.20H154.85M152.10 162.45V167.95" stroke="#ff0000" stroke-width="0.55" fill="none"/>
<path d="M155.10 164.50L157.85 169.30H152.35Z" stroke="#0000ff" stroke-width="0.65" fill="none" stroke-linejoin="miter"/>
<path d="M150.10 166.50L152.85 171.30H147.35Z" stroke="#0000ff" stroke-width="0.65" fill="none" stroke-linejoin="miter"/>
<path d="M154.10 168.60L156.85 173.40H151.35Z" stroke="#0000ff" stroke-width="0.65" fill="none" stroke-linejoin="miter"/>
<path d="M157.45 171.80H162.95M160.20 169.05V174.55" stroke="#ff0000" stroke-width="0.55" fill="none"/>
<path d="M157.60 170.60L160.35 175.40H154.85Z" stroke="#0000ff" stroke-width="0.65" fill="none" stroke-linejoin="miter"/>
<path d="M147.00 169.60L149.75 174.40H144.25Z" stroke="#0000ff" stroke-width="0.65" fill="none" stroke-linejoin="miter"/>
<path d="M148.35 173.80H153.85M151.10 171.05V176.55" stroke="#ff0000" stroke-width="0.55" fill="none"/>
<path d="M169.05 169.20H174.55M171.80 166.45V171.95" stroke="#ff0000" stroke-width="0.55" fill="none"/>
<path d="M124.85 173.50H130.35M127.60 170.75V176.25" stroke="#ff0000" stroke-width="0.55" fill="none"/>
<path d="M127.35 174.00H132.85M130.10 171.25V176.75" stroke="#ff0000" stroke-width="0.55" fill="none"/>
<path d="M131.85 175.60H137.35M134.60 172.85V178.35" stroke="#ff0000" stroke-width="0.55" fill="none"/>
<path d="M133.45 173.00H138.95M136.20 170.25V175.75" stroke="#ff0000" stroke-width="0.55" fill="none"/>
<path d="M139.20 176.40L141.95 181.20H136.45Z" stroke="#0000ff" stroke-width="0.65" fill="none" stroke-linejoin="miter"/>
<path d="M134.45 181.60H139.95M137.20 178.85V184.35" stroke="#ff0000" stroke-width="0.55" fill="none"/>
<path d="M138.45 177.10H143.95M141.20 174.35V179.85" stroke="#ff0000" stroke-width="0.55" fill="none"/>
<path d="M143.20 171.30L145.95 176.10H140.45Z" stroke="#0000ff" stroke-width="0.65" fill="none" stroke-linejoin="miter"/>
<path d="M146.30 170.30L149.05 175.10H143.55Z" stroke="#0000ff" stroke-width="0.65" fill="none" stroke-linejoin="miter"/>
<path d="M145.55 176.10H151.05M148.30 173.35V178.85" stroke="#ff0000" stroke-width="0.55" fill="none"/>
<path d="M144.20 175.40L146.95 180.20H141.45Z" stroke="#0000ff" stroke-width="0.65" fill="none" stroke-linejoin="miter"/>
<path d="M144.55 171.00H150.05M147.30 168.25V173.75" stroke="#ff0000" stroke-width="0.55" fill="none"/>
<path d="M146.05 190.20H151.55M148.80 187.45V192.95" stroke="#ff0000" stroke-width="0.55" fill="none"/>
<path d="M129.10 168.30L131.85 173.10H126.35Z" stroke="#0000ff" stroke-width="0.65" fill="none" stroke-linejoin="miter"/>
<path d="M132.10 168.30L134.85 173.10H129.35Z" stroke="#0000ff" stroke-width="0.65" fill="none" stroke-linejoin="miter"/>
<path d="M151.10 170.30L153.85 175.10H148.35Z" stroke="#0000ff" stroke-width="0.65" fill="none" stroke-linejoin="miter"/>
<path d="M155.10 170.30L157.85 175.10H152.35Z" stroke="#0000ff" stroke-width="0.65" fill="none" stroke-linejoin="miter"/>
<path d="M159.10 173.40L161.85 178.20H156.35Z" stroke="#0000ff" stroke-width="0.65" fill="none" stroke-linejoin="miter"/>
<path d="M157.10 172.40L159.85 177.20H154.35Z" stroke="#0000ff" stroke-width="0.65" fill="none" stroke-linejoin="miter"/>
<path d="M157.45 171.00H162.95M160.20 168.25V173.75" stroke="#ff0000" stroke-width="0.55" fill="none"/>
<path d="M146.25 176.10H151.75M149.00 173.35V178.85" stroke="#ff0000" stroke-width="0.55" fill="none"/>
<path d="M150.35 178.10H155.85M153.10 175.35V180.85" stroke="#ff0000" stroke-width="0.55" fill="none"/>
<path d="M149.35 182.10H154.85M152.10 179.35V184.85" stroke="#ff0000" stroke-width="0.55" fill="none"/>
<path d="M157.10 180.40L159.85 185.20H154.35Z" stroke="#0000ff" stroke-width="0.65" fill="none" stroke-linejoin="miter"/>
<path d="M157.45 187.20H162.95M160.20 184.45V189.95" stroke="#ff0000" stroke-width="0.55" fill="none"/>
<path d="M152.35 187.70H157.85M155.10 184.95V190.45" stroke="#ff0000" stroke-width="0.55" fill="none"/>
<path d="M147.35 190.70H152.85M150.10 187.95V193.45" stroke="#ff0000" stroke-width="0.55" fill="none"/>
<path d="M156.35 191.70H161.85M159.10 188.95V194.45" stroke="#ff0000" stroke-width="0.55" fill="none"/>
<path d="M156.35 196.80H161.85M159.10 194.05V199.55" stroke="#ff0000" stroke-width="0.55" fill="none"/>
<path d="M156.55 197.40H162.05M159.30 194.65V200.15" stroke="#ff0000" stroke-width="0.55" fill="none"/>
<path d="M156.55 201.40H162.05M159.30 198.65V204.15" stroke="#ff0000" stroke-width="0.55" fill="none"/>
<path d="M166.20 174.40L168.95 179.20H163.45Z" stroke="#0000ff" stroke-width="0.65" fill="none" stroke-linejoin="miter"/>
<path d="M163.45 175.60H168.95M166.20 172.85V178.35" stroke="#ff0000" stroke-width="0.55" fill="none"/>
<path d="M166.20 180.40L168.95 185.20H163.45Z" stroke="#0000ff" stroke-width="0.65" fill="none" stroke-linejoin="miter"/>
<path d="M170.30 181.40L173.05 186.20H167.55Z" stroke="#0000ff" stroke-width="0.65" fill="none" stroke-linejoin="miter"/>
<path d="M165.45 186.70H170.95M168.20 183.95V189.45" stroke="#ff0000" stroke-width="0.55" fill="none"/>
<path d="M167.20 187.00L169.95 191.80H164.45Z" stroke="#0000ff" stroke-width="0.65" fill="none" stroke-linejoin="miter"/>
<path d="M172.30 187.50L175.05 192.30H169.55Z" stroke="#0000ff" stroke-width="0.65" fill="none" stroke-linejoin="miter"/>
<path d="M163.45 194.20H168.95M166.20 191.45V196.95" stroke="#ff0000" stroke-width="0.55" fill="none"/>
<path d="M172.80 194.60L175.55 199.40H170.05Z" stroke="#0000ff" stroke-width="0.65" fill="none" stroke-linejoin="miter"/>
<path d="M167.50 174.40L170.25 179.20H164.75Z" stroke="#0000ff" stroke-width="0.65" fill="none" stroke-linejoin="miter"/>
<path d="M167.00 177.90L169.75 182.70H164.25Z" stroke="#0000ff" stroke-width="0.65" fill="none" stroke-linejoin="miter"/>
<path d="M170.60 181.40L173.35 186.20H167.85Z" stroke="#0000ff" stroke-width="0.65" fill="none" stroke-linejoin="miter"/>
<path d="M165.75 185.70H171.25M168.50 182.95V188.45" stroke="#ff0000" stroke-width="0.55" fill="none"/>
<path d="M177.60 184.50L180.35 189.30H174.85Z" stroke="#0000ff" stroke-width="0.65" fill="none" stroke-linejoin="miter"/>
<path d="M172.10 187.50L174.85 192.30H169.35Z" stroke="#0000ff" stroke-width="0.65" fill="none" stroke-linejoin="miter"/>
<path d="M175.35 197.30H180.85M178.10 194.55V200.05" stroke="#ff0000" stroke-width="0.55" fill="none"/>
<path d="M173.85 195.30H179.35M176.60 192.55V198.05" stroke="#ff0000" stroke-width="0.55" fill="none"/>
<path d="M171.65 199.70H177.15M174.40 196.95V202.45" stroke="#ff0000" stroke-width="0.55" fill="none"/>
<path d="M163.45 174.30H168.95M166.20 171.55V177.05" stroke="#ff0000" stroke-width="0.55" fill="none"/>
<path d="M119.90 66.80L122.65 71.60H117.15Z" stroke="#0000ff" stroke-width="0.65" fill="none" stroke-linejoin="miter"/>
<path d="M117.20 70.50L119.95 75.30H114.45Z" stroke="#0000ff" stroke-width="0.65" fill="none" stroke-linejoin="miter"/>
<path d="M113.90 73.90L116.65 78.70H111.15Z" stroke="#0000ff" stroke-width="0.65" fill="none" stroke-linejoin="miter"/>
<path d="M113.70 124.80L116.45 129.60H110.95Z" stroke="#0000ff" stroke-width="0.65" fill="none" stroke-linejoin="miter"/>
<path d="M117.00 124.00L119.75 128.80H114.25Z" stroke="#0000ff" stroke-width="0.65" fill="none" stroke-linejoin="miter"/>
<path d="M117.65 128.80H123.15M120.40 126.05V131.55" stroke="#ff0000" stroke-width="0.55" fill="none"/>
<path d="M123.80 124.40L126.55 129.20H121.05Z" stroke="#0000ff" stroke-width="0.65" fill="none" stroke-linejoin="miter"/>
<path d="M123.95 126.70H129.45M126.70 123.95V129.45" stroke="#ff0000" stroke-width="0.55" fill="none"/>
<path d="M128.80 125.70L131.55 130.50H126.05Z" stroke="#0000ff" stroke-width="0.65" fill="none" stroke-linejoin="miter"/>
<path d="M132.20 124.00L134.95 128.80H129.45Z" stroke="#0000ff" stroke-width="0.65" fill="none" stroke-linejoin="miter"/>
<path d="M134.70 127.30L137.45 132.10H131.95Z" stroke="#0000ff" stroke-width="0.65" fill="none" stroke-linejoin="miter"/>
<path d="M117.90 133.30L120.65 138.10H115.15Z" stroke="#0000ff" stroke-width="0.65" fill="none" stroke-linejoin="miter"/>
<path d="M119.35 132.60H124.85M122.10 129.85V135.35" stroke="#ff0000" stroke-width="0.55" fill="none"/>
<path d="M125.50 131.60L128.25 136.40H122.75Z" stroke="#0000ff" stroke-width="0.65" fill="none" stroke-linejoin="miter"/>
<path d="M128.80 133.30L131.55 138.10H126.05Z" stroke="#0000ff" stroke-width="0.65" fill="none" stroke-linejoin="miter"/>
<path d="M126.05 137.60H131.55M128.80 134.85V140.35" stroke="#ff0000" stroke-width="0.55" fill="none"/>
<path d="M133.00 134.10L135.75 138.90H130.25Z" stroke="#0000ff" stroke-width="0.65" fill="none" stroke-linejoin="miter"/>
<path d="M131.40 129.90L134.15 134.70H128.65Z" stroke="#0000ff" stroke-width="0.65" fill="none" stroke-linejoin="miter"/>
<path d="M114.50 130.70L117.25 135.50H111.75Z" stroke="#0000ff" stroke-width="0.65" fill="none" stroke-linejoin="miter"/>
<path d="M112.65 144.40H118.15M115.40 141.65V147.15" stroke="#ff0000" stroke-width="0.55" fill="none"/>
<path d="M118.70 143.30L121.45 148.10H115.95Z" stroke="#0000ff" stroke-width="0.65" fill="none" stroke-linejoin="miter"/>
<path d="M120.40 140.00L123.15 144.80H117.65Z" stroke="#0000ff" stroke-width="0.65" fill="none" stroke-linejoin="miter"/>
<path d="M120.15 141.00H125.65M122.90 138.25V143.75" stroke="#ff0000" stroke-width="0.55" fill="none"/>
<path d="M124.60 141.70L127.35 146.50H121.85Z" stroke="#0000ff" stroke-width="0.65" fill="none" stroke-linejoin="miter"/>
<path d="M131.40 139.10L134.15 143.90H128.65Z" stroke="#0000ff" stroke-width="0.65" fill="none" stroke-linejoin="miter"/>
<path d="M133.90 141.70L136.65 146.50H131.15Z" stroke="#0000ff" stroke-width="0.65" fill="none" stroke-linejoin="miter"/>
<path d="M117.00 145.90L119.75 150.70H114.25Z" stroke="#0000ff" stroke-width="0.65" fill="none" stroke-linejoin="miter"/>
<path d="M120.15 138.50H125.65M122.90 135.75V141.25" stroke="#ff0000" stroke-width="0.55" fill="none"/>
<path d="M135.90 127.90L138.65 132.70H133.15Z" stroke="#0000ff" stroke-width="0.65" fill="none" stroke-linejoin="miter"/>
<path d="M131.70 131.30L134.45 136.10H128.95Z" stroke="#0000ff" stroke-width="0.65" fill="none" stroke-linejoin="miter"/>
<path d="M133.40 135.50L136.15 140.30H130.65Z" stroke="#0000ff" stroke-width="0.65" fill="none" stroke-linejoin="miter"/>
<path d="M130.80 138.00L133.55 142.80H128.05Z" stroke="#0000ff" stroke-width="0.65" fill="none" stroke-linejoin="miter"/>
<path d="M126.00 143.30L128.75 148.10H123.25Z" stroke="#0000ff" stroke-width="0.65" fill="none" stroke-linejoin="miter"/>
<path d="M133.40 143.60L136.15 148.40H130.65Z" stroke="#0000ff" stroke-width="0.65" fill="none" stroke-linejoin="miter"/>
<path d="M139.30 144.00L142.05 148.80H136.55Z" stroke="#0000ff" stroke-width="0.65" fill="none" stroke-linejoin="miter"/>
<path d="M146.00 144.80L148.75 149.60H143.25Z" stroke="#0000ff" stroke-width="0.65" fill="none" stroke-linejoin="miter"/>
<path d="M141.80 147.30L144.55 152.10H139.05Z" stroke="#0000ff" stroke-width="0.65" fill="none" stroke-linejoin="miter"/>
<path d="M136.80 148.20L139.55 153.00H134.05Z" stroke="#0000ff" stroke-width="0.65" fill="none" stroke-linejoin="miter"/>
<path d="M124.75 151.30H130.25M127.50 148.55V154.05" stroke="#ff0000" stroke-width="0.55" fill="none"/>
<path d="M126.70 152.40L129.45 157.20H123.95Z" stroke="#0000ff" stroke-width="0.65" fill="none" stroke-linejoin="miter"/>
<path d="M131.70 153.20L134.45 158.00H128.95Z" stroke="#0000ff" stroke-width="0.65" fill="none" stroke-linejoin="miter"/>
<path d="M137.60 152.40L140.35 157.20H134.85Z" stroke="#0000ff" stroke-width="0.65" fill="none" stroke-linejoin="miter"/>
<path d="M144.40 151.60L147.15 156.40H141.65Z" stroke="#0000ff" stroke-width="0.65" fill="none" stroke-linejoin="miter"/>
<path d="M127.35 157.60H132.85M130.10 154.85V160.35" stroke="#ff0000" stroke-width="0.55" fill="none"/>
<path d="M131.55 159.30H137.05M134.30 156.55V162.05" stroke="#ff0000" stroke-width="0.55" fill="none"/>
<path d="M137.45 159.70H142.95M140.20 156.95V162.45" stroke="#ff0000" stroke-width="0.55" fill="none"/>
<path d="M146.00 157.50L148.75 162.30H143.25Z" stroke="#0000ff" stroke-width="0.65" fill="none" stroke-linejoin="miter"/>
<path d="M141.80 159.10L144.55 163.90H139.05Z" stroke="#0000ff" stroke-width="0.65" fill="none" stroke-linejoin="miter"/>
<path d="M130.65 162.70H136.15M133.40 159.95V165.45" stroke="#ff0000" stroke-width="0.55" fill="none"/>
<path d="M134.05 164.40H139.55M136.80 161.65V167.15" stroke="#ff0000" stroke-width="0.55" fill="none"/>
<path d="M128.95 165.20H134.45M131.70 162.45V167.95" stroke="#ff0000" stroke-width="0.55" fill="none"/>
<path d="M130.10 165.00L132.85 169.80H127.35Z" stroke="#0000ff" stroke-width="0.65" fill="none" stroke-linejoin="miter"/>
<path d="M135.90 165.00L138.65 169.80H133.15Z" stroke="#0000ff" stroke-width="0.65" fill="none" stroke-linejoin="miter"/>
<path d="M142.70 164.60L145.45 169.40H139.95Z" stroke="#0000ff" stroke-width="0.65" fill="none" stroke-linejoin="miter"/>
<path d="M147.70 162.50L150.45 167.30H144.95Z" stroke="#0000ff" stroke-width="0.65" fill="none" stroke-linejoin="miter"/>
<path d="M138.25 165.20H143.75M141.00 162.45V167.95" stroke="#ff0000" stroke-width="0.55" fill="none"/>
<path d="M147.70 153.20L150.45 158.00H144.95Z" stroke="#0000ff" stroke-width="0.65" fill="none" stroke-linejoin="miter"/>
<path d="M141.75 157.50H147.25M144.50 154.75V160.25" stroke="#ff0000" stroke-width="0.55" fill="none"/>
<path d="M292.20 44.10H297.20M294.70 41.60V46.60M292.93 42.33L296.47 45.87M292.93 45.87L296.47 42.33" stroke="#ff00ff" stroke-width="0.6" fill="none"/>
<path d="M332.30 54.70L335.25 59.90H329.35Z" stroke="#262626" stroke-width="0.65" fill="none" stroke-linejoin="miter"/>
<path d="M329.60 57.70L332.55 62.90H326.65Z" stroke="#262626" stroke-width="0.65" fill="none" stroke-linejoin="miter"/>
<path d="M339.40 48.10L341.95 51.60L339.40 55.10L336.85 51.60Z" stroke="#0000ff" stroke-width="0.65" fill="none"/>
<path d="M317.10 63.50H322.10M319.60 61.00V66.00M317.83 61.73L321.37 65.27M317.83 65.27L321.37 61.73" stroke="#ff00ff" stroke-width="0.6" fill="none"/>
<path d="M330.50 64.10H335.50M333.00 61.60V66.60M331.23 62.33L334.77 65.87M331.23 65.87L334.77 62.33" stroke="#ff00ff" stroke-width="0.6" fill="none"/>
<path d="M361.50 31.50H366.50M364.00 29.00V34.00M362.23 29.73L365.77 33.27M362.23 33.27L365.77 29.73" stroke="#ff00ff" stroke-width="0.6" fill="none"/>
<path d="M372.00 31.60L374.55 35.10L372.00 38.60L369.45 35.10Z" stroke="#0000ff" stroke-width="0.65" fill="none"/>
<path d="M359.90 35.60L362.85 40.80H356.95Z" stroke="#262626" stroke-width="0.65" fill="none" stroke-linejoin="miter"/>
<path d="M361.30 43.30L364.25 48.50H358.35Z" stroke="#262626" stroke-width="0.65" fill="none" stroke-linejoin="miter"/>
<path d="M355.85 46.50H361.35M358.60 43.75V49.25" stroke="#ff0000" stroke-width="0.55" fill="none"/>
<path d="M345.70 50.90H350.70M348.20 48.40V53.40M346.43 49.13L349.97 52.67M346.43 52.67L349.97 49.13" stroke="#ff00ff" stroke-width="0.6" fill="none"/>
<circle cx="355.20" cy="52.60" r="2.85" stroke="#3aa52a" stroke-width="0.55" fill="none"/>
<circle cx="355.20" cy="55.30" r="2.85" stroke="#3aa52a" stroke-width="0.55" fill="none"/>
<path d="M361.90 56.60H366.90M364.40 54.10V59.10M362.63 54.83L366.17 58.37M362.63 58.37L366.17 54.83" stroke="#ff00ff" stroke-width="0.6" fill="none"/>
<path d="M339.00 55.40L341.95 60.60H336.05Z" stroke="#262626" stroke-width="0.65" fill="none" stroke-linejoin="miter"/>
<path d="M349.80 55.80L352.35 59.30L349.80 62.80L347.25 59.30Z" stroke="#0000ff" stroke-width="0.65" fill="none"/>
<path d="M354.50 55.80L357.05 59.30L354.50 62.80L351.95 59.30Z" stroke="#0000ff" stroke-width="0.65" fill="none"/>
<circle cx="347.80" cy="60.70" r="2.85" stroke="#3aa52a" stroke-width="0.55" fill="none"/>
<path d="M359.90 57.20L362.45 60.70L359.90 64.20L357.35 60.70Z" stroke="#0000ff" stroke-width="0.65" fill="none"/>
<path d="M359.85 60.70H365.35M362.60 57.95V63.45" stroke="#ff0000" stroke-width="0.55" fill="none"/>
<path d="M351.20 59.90L353.75 63.40L351.20 66.90L348.65 63.40Z" stroke="#0000ff" stroke-width="0.65" fill="none"/>
<path d="M294.30 78.70L296.85 82.20L294.30 85.70L291.75 82.20Z" stroke="#0000ff" stroke-width="0.65" fill="none"/>
<path d="M288.30 85.70L291.25 90.90H285.35Z" stroke="#262626" stroke-width="0.65" fill="none" stroke-linejoin="miter"/>
<path d="M299.60 82.20L302.55 87.40H296.65Z" stroke="#262626" stroke-width="0.65" fill="none" stroke-linejoin="miter"/>
<path d="M272.30 99.30H277.30M274.80 96.80V101.80M273.03 97.53L276.57 101.07M273.03 101.07L276.57 97.53" stroke="#ff00ff" stroke-width="0.6" fill="none"/>
<path d="M288.50 97.50H293.50M291.00 95.00V100.00M289.23 95.73L292.77 99.27M289.23 99.27L292.77 95.73" stroke="#ff00ff" stroke-width="0.6" fill="none"/>
<circle cx="295.70" cy="99.10" r="2.85" stroke="#3aa52a" stroke-width="0.55" fill="none"/>
<path d="M312.70 66.60H317.70M315.20 64.10V69.10M313.43 64.83L316.97 68.37M313.43 68.37L316.97 64.83" stroke="#ff00ff" stroke-width="0.6" fill="none"/>
<circle cx="320.10" cy="73.10" r="2.85" stroke="#3aa52a" stroke-width="0.55" fill="none"/>
<path d="M304.40 78.70H309.40M306.90 76.20V81.20M305.13 76.93L308.67 80.47M305.13 80.47L308.67 76.93" stroke="#ff00ff" stroke-width="0.6" fill="none"/>
<path d="M309.70 81.20H314.70M312.20 78.70V83.70M310.43 79.43L313.97 82.97M310.43 82.97L313.97 79.43" stroke="#ff00ff" stroke-width="0.6" fill="none"/>
<path d="M319.30 78.20H324.30M321.80 75.70V80.70M320.03 76.43L323.57 79.97M320.03 79.97L323.57 76.43" stroke="#ff00ff" stroke-width="0.6" fill="none"/>
<path d="M321.30 77.20L323.85 80.70L321.30 84.20L318.75 80.70Z" stroke="#0000ff" stroke-width="0.65" fill="none"/>
<path d="M318.20 78.60L321.15 83.80H315.25Z" stroke="#262626" stroke-width="0.65" fill="none" stroke-linejoin="miter"/>
<path d="M311.95 83.70H317.45M314.70 80.95V86.45" stroke="#ff0000" stroke-width="0.55" fill="none"/>
<circle cx="317.70" cy="86.30" r="2.85" stroke="#3aa52a" stroke-width="0.55" fill="none"/>
<path d="M316.95 87.30H322.45M319.70 84.55V90.05" stroke="#ff0000" stroke-width="0.55" fill="none"/>
<path d="M298.85 89.30H304.35M301.60 86.55V92.05" stroke="#ff0000" stroke-width="0.55" fill="none"/>
<path d="M308.60 85.20L311.55 90.40H305.65Z" stroke="#262626" stroke-width="0.65" fill="none" stroke-linejoin="miter"/>
<path d="M307.10 85.80L309.65 89.30L307.10 92.80L304.55 89.30Z" stroke="#0000ff" stroke-width="0.65" fill="none"/>
<path d="M329.60 64.60H334.60M332.10 62.10V67.10M330.33 62.83L333.87 66.37M330.33 66.37L333.87 62.83" stroke="#ff00ff" stroke-width="0.6" fill="none"/>
<path d="M345.80 67.10H350.80M348.30 64.60V69.60M346.53 65.33L350.07 68.87M346.53 68.87L350.07 65.33" stroke="#ff00ff" stroke-width="0.6" fill="none"/>
<path d="M346.20 66.50L349.15 71.70H343.25Z" stroke="#262626" stroke-width="0.65" fill="none" stroke-linejoin="miter"/>
<path d="M349.30 56.50L351.85 60.00L349.30 63.50L346.75 60.00Z" stroke="#0000ff" stroke-width="0.65" fill="none"/>
<circle cx="331.60" cy="70.60" r="2.85" stroke="#3aa52a" stroke-width="0.55" fill="none"/>
<circle cx="336.10" cy="71.60" r="2.85" stroke="#3aa52a" stroke-width="0.55" fill="none"/>
<path d="M329.10 69.70L331.65 73.20L329.10 76.70L326.55 73.20Z" stroke="#0000ff" stroke-width="0.65" fill="none"/>
<path d="M340.70 70.70L343.25 74.20L340.70 77.70L338.15 74.20Z" stroke="#0000ff" stroke-width="0.65" fill="none"/>
<path d="M341.95 73.20H347.45M344.70 70.45V75.95" stroke="#ff0000" stroke-width="0.55" fill="none"/>
<path d="M347.80 74.10L350.75 79.30H344.85Z" stroke="#262626" stroke-width="0.65" fill="none" stroke-linejoin="miter"/>
<path d="M320.50 78.20H325.50M323.00 75.70V80.70M321.23 76.43L324.77 79.97M321.23 79.97L324.77 76.43" stroke="#ff00ff" stroke-width="0.6" fill="none"/>
<path d="M326.50 76.70L329.05 80.20L326.50 83.70L323.95 80.20Z" stroke="#0000ff" stroke-width="0.65" fill="none"/>
<path d="M332.10 75.60L335.05 80.80H329.15Z" stroke="#262626" stroke-width="0.65" fill="none" stroke-linejoin="miter"/>
<path d="M333.10 79.20H338.10M335.60 76.70V81.70M333.83 77.43L337.37 80.97M333.83 80.97L337.37 77.43" stroke="#ff00ff" stroke-width="0.6" fill="none"/>
<path d="M333.10 77.70L335.65 81.20L333.10 84.70L330.55 81.20Z" stroke="#0000ff" stroke-width="0.65" fill="none"/>
<path d="M336.70 82.20H341.70M339.20 79.70V84.70M337.43 80.43L340.97 83.97M337.43 83.97L340.97 80.43" stroke="#ff00ff" stroke-width="0.6" fill="none"/>
<path d="M342.20 78.70L344.75 82.20L342.20 85.70L339.65 82.20Z" stroke="#0000ff" stroke-width="0.65" fill="none"/>
<path d="M331.85 79.70H337.35M334.60 76.95V82.45" stroke="#ff0000" stroke-width="0.55" fill="none"/>
<path d="M347.30 78.70L349.85 82.20L347.30 85.70L344.75 82.20Z" stroke="#0000ff" stroke-width="0.65" fill="none"/>
<path d="M350.30 77.70L352.85 81.20L350.30 84.70L347.75 81.20Z" stroke="#0000ff" stroke-width="0.65" fill="none"/>
<path d="M325.35 85.80H330.85M328.10 83.05V88.55" stroke="#ff0000" stroke-width="0.55" fill="none"/>
<path d="M331.10 80.80L333.65 84.30L331.10 87.80L328.55 84.30Z" stroke="#0000ff" stroke-width="0.65" fill="none"/>
<path d="M337.20 82.20L340.15 87.40H334.25Z" stroke="#262626" stroke-width="0.65" fill="none" stroke-linejoin="miter"/>
<circle cx="341.70" cy="85.80" r="2.85" stroke="#3aa52a" stroke-width="0.55" fill="none"/>
<path d="M345.20 82.70L348.15 87.90H342.25Z" stroke="#262626" stroke-width="0.65" fill="none" stroke-linejoin="miter"/>
<path d="M349.30 82.30L351.85 85.80L349.30 89.30L346.75 85.80Z" stroke="#0000ff" stroke-width="0.65" fill="none"/>
<path d="M363.60 62.50L366.55 67.70H360.65Z" stroke="#262626" stroke-width="0.65" fill="none" stroke-linejoin="miter"/>
<path d="M357.60 63.60L360.15 67.10L357.60 70.60L355.05 67.10Z" stroke="#0000ff" stroke-width="0.65" fill="none"/>
<path d="M354.00 61.50L356.95 66.70H351.05Z" stroke="#262626" stroke-width="0.65" fill="none" stroke-linejoin="miter"/>
<path d="M351.50 57.00L354.05 60.50L351.50 64.00L348.95 60.50Z" stroke="#0000ff" stroke-width="0.65" fill="none"/>
<path d="M353.00 67.60L355.55 71.10L353.00 74.60L350.45 71.10Z" stroke="#0000ff" stroke-width="0.65" fill="none"/>
<path d="M356.10 73.10L359.05 78.30H353.15Z" stroke="#262626" stroke-width="0.65" fill="none" stroke-linejoin="miter"/>
<path d="M354.50 74.20L357.05 77.70L354.50 81.20L351.95 77.70Z" stroke="#0000ff" stroke-width="0.65" fill="none"/>
<path d="M365.20 71.20L367.75 74.70L365.20 78.20L362.65 74.70Z" stroke="#0000ff" stroke-width="0.65" fill="none"/>
<path d="M362.70 74.70H367.70M365.20 72.20V77.20M363.43 72.93L366.97 76.47M363.43 76.47L366.97 72.93" stroke="#ff00ff" stroke-width="0.6" fill="none"/>
<circle cx="368.70" cy="75.70" r="2.85" stroke="#3aa52a" stroke-width="0.55" fill="none"/>
<path d="M352.00 79.80L354.55 83.30L352.00 86.80L349.45 83.30Z" stroke="#0000ff" stroke-width="0.65" fill="none"/>
<path d="M348.50 84.30H353.50M351.00 81.80V86.80M349.23 82.53L352.77 86.07M349.23 86.07L352.77 82.53" stroke="#ff00ff" stroke-width="0.6" fill="none"/>
<path d="M355.85 84.30H361.35M358.60 81.55V87.05" stroke="#ff0000" stroke-width="0.55" fill="none"/>
<circle cx="370.70" cy="93.60" r="2.85" stroke="#3aa52a" stroke-width="0.55" fill="none"/>
<path d="M371.10 98.30H376.10M373.60 95.80V100.80M371.83 96.53L375.37 100.07M371.83 100.07L375.37 96.53" stroke="#ff00ff" stroke-width="0.6" fill="none"/>
<path d="M280.10 104.70H285.10M282.60 102.20V107.20M280.83 102.93L284.37 106.47M280.83 106.47L284.37 102.93" stroke="#ff00ff" stroke-width="0.6" fill="none"/>
<path d="M271.90 122.30H276.90M274.40 119.80V124.80M272.63 120.53L276.17 124.07M272.63 124.07L276.17 120.53" stroke="#ff00ff" stroke-width="0.6" fill="none"/>
<path d="M307.20 88.50L309.75 92.00L307.20 95.50L304.65 92.00Z" stroke="#0000ff" stroke-width="0.65" fill="none"/>
<path d="M310.20 86.40L313.15 91.60H307.25Z" stroke="#262626" stroke-width="0.65" fill="none" stroke-linejoin="miter"/>
<circle cx="296.10" cy="99.10" r="2.85" stroke="#3aa52a" stroke-width="0.55" fill="none"/>
<path d="M304.10 97.10L306.65 100.60L304.10 104.10L301.55 100.60Z" stroke="#0000ff" stroke-width="0.65" fill="none"/>
<path d="M303.60 99.50L306.55 104.70H300.65Z" stroke="#262626" stroke-width="0.65" fill="none" stroke-linejoin="miter"/>
<circle cx="309.20" cy="103.20" r="2.85" stroke="#3aa52a" stroke-width="0.55" fill="none"/>
<path d="M311.20 101.20L313.75 104.70L311.20 108.20L308.65 104.70Z" stroke="#0000ff" stroke-width="0.65" fill="none"/>
<path d="M314.05 102.60H319.55M316.80 99.85V105.35" stroke="#ff0000" stroke-width="0.55" fill="none"/>
<path d="M313.70 95.50L316.65 100.70H310.75Z" stroke="#262626" stroke-width="0.65" fill="none" stroke-linejoin="miter"/>
<circle cx="315.30" cy="92.00" r="2.85" stroke="#3aa52a" stroke-width="0.55" fill="none"/>
<path d="M313.05 93.00H318.55M315.80 90.25V95.75" stroke="#ff0000" stroke-width="0.55" fill="none"/>
<path d="M307.70 108.20H312.70M310.20 105.70V110.70M308.43 106.43L311.97 109.97M308.43 109.97L311.97 106.43" stroke="#ff00ff" stroke-width="0.6" fill="none"/>
<path d="M313.20 104.70L315.75 108.20L313.20 111.70L310.65 108.20Z" stroke="#0000ff" stroke-width="0.65" fill="none"/>
<path d="M307.45 112.20H312.95M310.20 109.45V114.95" stroke="#ff0000" stroke-width="0.55" fill="none"/>
<path d="M305.95 116.30H311.45M308.70 113.55V119.05" stroke="#ff0000" stroke-width="0.55" fill="none"/>
<path d="M316.30 107.20L318.85 110.70L316.30 114.20L313.75 110.70Z" stroke="#0000ff" stroke-width="0.65" fill="none"/>
<path d="M317.30 106.60L320.25 111.80H314.35Z" stroke="#262626" stroke-width="0.65" fill="none" stroke-linejoin="miter"/>
<path d="M316.30 107.20H321.30M318.80 104.70V109.70M317.03 105.43L320.57 108.97M317.03 108.97L320.57 105.43" stroke="#ff00ff" stroke-width="0.6" fill="none"/>
<path d="M315.30 111.80L317.85 115.30L315.30 118.80L312.75 115.30Z" stroke="#0000ff" stroke-width="0.65" fill="none"/>
<path d="M315.55 116.30H321.05M318.30 113.55V119.05" stroke="#ff0000" stroke-width="0.55" fill="none"/>
<circle cx="311.20" cy="117.30" r="2.85" stroke="#3aa52a" stroke-width="0.55" fill="none"/>
<path d="M366.20 91.10L368.75 94.60L366.20 98.10L363.65 94.60Z" stroke="#0000ff" stroke-width="0.65" fill="none"/>
<path d="M352.85 92.00H358.35M355.60 89.25V94.75" stroke="#ff0000" stroke-width="0.55" fill="none"/>
<path d="M350.10 88.40L353.05 93.60H347.15Z" stroke="#262626" stroke-width="0.65" fill="none" stroke-linejoin="miter"/>
<path d="M353.60 91.50L356.55 96.70H350.65Z" stroke="#262626" stroke-width="0.65" fill="none" stroke-linejoin="miter"/>
<path d="M348.60 99.10H353.60M351.10 96.60V101.60M349.33 97.33L352.87 100.87M349.33 100.87L352.87 97.33" stroke="#ff00ff" stroke-width="0.6" fill="none"/>
<path d="M357.10 92.60L359.65 96.10L357.10 99.60L354.55 96.10Z" stroke="#0000ff" stroke-width="0.65" fill="none"/>
<circle cx="360.70" cy="100.10" r="2.85" stroke="#3aa52a" stroke-width="0.55" fill="none"/>
<path d="M361.20 100.60L364.15 105.80H358.25Z" stroke="#262626" stroke-width="0.65" fill="none" stroke-linejoin="miter"/>
<path d="M360.95 106.20H366.45M363.70 103.45V108.95" stroke="#ff0000" stroke-width="0.55" fill="none"/>
<path d="M352.60 100.10H357.60M355.10 97.60V102.60M353.33 98.33L356.87 101.87M353.33 101.87L356.87 98.33" stroke="#ff00ff" stroke-width="0.6" fill="none"/>
<path d="M355.10 100.20L357.65 103.70L355.10 107.20L352.55 103.70Z" stroke="#0000ff" stroke-width="0.65" fill="none"/>
<path d="M357.60 104.60L360.55 109.80H354.65Z" stroke="#262626" stroke-width="0.65" fill="none" stroke-linejoin="miter"/>
<circle cx="348.00" cy="102.10" r="2.85" stroke="#3aa52a" stroke-width="0.55" fill="none"/>
<circle cx="347.00" cy="107.20" r="2.85" stroke="#3aa52a" stroke-width="0.55" fill="none"/>
<path d="M348.60 111.20H353.60M351.10 108.70V113.70M349.33 109.43L352.87 112.97M349.33 112.97L352.87 109.43" stroke="#ff00ff" stroke-width="0.6" fill="none"/>
<path d="M355.10 109.20L357.65 112.70L355.10 116.20L352.55 112.70Z" stroke="#0000ff" stroke-width="0.65" fill="none"/>
<circle cx="366.70" cy="112.20" r="2.85" stroke="#3aa52a" stroke-width="0.55" fill="none"/>
<path d="M366.20 111.80L368.75 115.30L366.20 118.80L363.65 115.30Z" stroke="#0000ff" stroke-width="0.65" fill="none"/>
<path d="M371.80 114.20L374.75 119.40H368.85Z" stroke="#262626" stroke-width="0.65" fill="none" stroke-linejoin="miter"/>
<path d="M356.85 116.30H362.35M359.60 113.55V119.05" stroke="#ff0000" stroke-width="0.55" fill="none"/>
<path d="M343.25 91.00H348.75M346.00 88.25V93.75" stroke="#ff0000" stroke-width="0.55" fill="none"/>
<path d="M344.50 96.10H349.50M347.00 93.60V98.60M345.23 94.33L348.77 97.87M345.23 97.87L348.77 94.33" stroke="#ff00ff" stroke-width="0.6" fill="none"/>
<path d="M346.00 97.50L348.95 102.70H343.05Z" stroke="#262626" stroke-width="0.65" fill="none" stroke-linejoin="miter"/>
<circle cx="346.00" cy="105.20" r="2.85" stroke="#3aa52a" stroke-width="0.55" fill="none"/>
<path d="M344.50 113.30H349.50M347.00 110.80V115.80M345.23 111.53L348.77 115.07M345.23 115.07L348.77 111.53" stroke="#ff00ff" stroke-width="0.6" fill="none"/>
<path d="M349.00 105.20L351.55 108.70L349.00 112.20L346.45 108.70Z" stroke="#0000ff" stroke-width="0.65" fill="none"/>
<path d="M349.00 113.70L351.95 118.90H346.05Z" stroke="#262626" stroke-width="0.65" fill="none" stroke-linejoin="miter"/>
<circle cx="372.00" cy="124.90" r="2.85" stroke="#3aa52a" stroke-width="0.55" fill="none"/>
<path d="M372.70 127.50L375.25 131.00L372.70 134.50L370.15 131.00Z" stroke="#0000ff" stroke-width="0.65" fill="none"/>
<path d="M372.90 135.70H377.90M375.40 133.20V138.20M373.63 133.93L377.17 137.47M373.63 137.47L377.17 133.93" stroke="#ff00ff" stroke-width="0.6" fill="none"/>
<path d="M381.00 136.40H386.00M383.50 133.90V138.90M381.73 134.63L385.27 138.17M381.73 138.17L385.27 134.63" stroke="#ff00ff" stroke-width="0.6" fill="none"/>
<path d="M393.10 126.80H398.10M395.60 124.30V129.30M393.83 125.03L397.37 128.57M393.83 128.57L397.37 125.03" stroke="#ff00ff" stroke-width="0.6" fill="none"/>
<path d="M368.20 137.00H373.20M370.70 134.50V139.50M368.93 135.23L372.47 138.77M368.93 138.77L372.47 135.23" stroke="#ff00ff" stroke-width="0.6" fill="none"/>
<path d="M272.60 139.10H277.60M275.10 136.60V141.60M273.33 137.33L276.87 140.87M273.33 140.87L276.87 137.33" stroke="#ff00ff" stroke-width="0.6" fill="none"/>
<path d="M295.30 136.50L298.25 141.70H292.35Z" stroke="#262626" stroke-width="0.65" fill="none" stroke-linejoin="miter"/>
<path d="M295.65 151.50H301.15M298.40 148.75V154.25" stroke="#ff0000" stroke-width="0.55" fill="none"/>
<path d="M296.80 163.80H301.80M299.30 161.30V166.30M297.53 162.03L301.07 165.57M297.53 165.57L301.07 162.03" stroke="#ff00ff" stroke-width="0.6" fill="none"/>
<path d="M297.00 186.40H302.00M299.50 183.90V188.90M297.73 184.63L301.27 188.17M297.73 188.17L301.27 184.63" stroke="#ff00ff" stroke-width="0.6" fill="none"/>
<circle cx="306.80" cy="161.60" r="2.85" stroke="#3aa52a" stroke-width="0.55" fill="none"/>
<path d="M309.15 151.80H314.65M311.90 149.05V154.55" stroke="#ff0000" stroke-width="0.55" fill="none"/>
<path d="M314.40 160.30H319.40M316.90 157.80V162.80M315.13 158.53L318.67 162.07M315.13 162.07L318.67 158.53" stroke="#ff00ff" stroke-width="0.6" fill="none"/>
<path d="M317.10 172.00H322.10M319.60 169.50V174.50M317.83 170.23L321.37 173.77M317.83 173.77L321.37 170.23" stroke="#ff00ff" stroke-width="0.6" fill="none"/>
<path d="M313.90 178.90H318.90M316.40 176.40V181.40M314.63 177.13L318.17 180.67M314.63 180.67L318.17 177.13" stroke="#ff00ff" stroke-width="0.6" fill="none"/>
<path d="M326.40 177.70H331.40M328.90 175.20V180.20M327.13 175.93L330.67 179.47M327.13 179.47L330.67 175.93" stroke="#ff00ff" stroke-width="0.6" fill="none"/>
<path d="M329.80 177.70H334.80M332.30 175.20V180.20M330.53 175.93L334.07 179.47M330.53 179.47L334.07 175.93" stroke="#ff00ff" stroke-width="0.6" fill="none"/>
<path d="M331.05 170.50H336.55M333.80 167.75V173.25" stroke="#ff0000" stroke-width="0.55" fill="none"/>
<path d="M301.10 127.10H306.10M303.60 124.60V129.60M301.83 125.33L305.37 128.87M301.83 128.87L305.37 125.33" stroke="#ff00ff" stroke-width="0.6" fill="none"/>
<path d="M306.10 129.20L308.65 132.70L306.10 136.20L303.55 132.70Z" stroke="#0000ff" stroke-width="0.65" fill="none"/>
<path d="M306.60 131.70L309.15 135.20L306.60 138.70L304.05 135.20Z" stroke="#0000ff" stroke-width="0.65" fill="none"/>
<path d="M304.10 139.20H309.10M306.60 136.70V141.70M304.83 137.43L308.37 140.97M304.83 140.97L308.37 137.43" stroke="#ff00ff" stroke-width="0.6" fill="none"/>
<path d="M308.70 133.70H313.70M311.20 131.20V136.20M309.43 131.93L312.97 135.47M309.43 135.47L312.97 131.93" stroke="#ff00ff" stroke-width="0.6" fill="none"/>
<path d="M310.95 133.70H316.45M313.70 130.95V136.45" stroke="#ff0000" stroke-width="0.55" fill="none"/>
<path d="M314.20 133.70H319.20M316.70 131.20V136.20M314.93 131.93L318.47 135.47M314.93 135.47L318.47 131.93" stroke="#ff00ff" stroke-width="0.6" fill="none"/>
<path d="M317.20 134.70L319.75 138.20L317.20 141.70L314.65 138.20Z" stroke="#0000ff" stroke-width="0.65" fill="none"/>
<path d="M318.70 137.30L321.25 140.80L318.70 144.30L316.15 140.80Z" stroke="#0000ff" stroke-width="0.65" fill="none"/>
<path d="M316.20 124.60L318.75 128.10L316.20 131.60L313.65 128.10Z" stroke="#0000ff" stroke-width="0.65" fill="none"/>
<path d="M314.95 127.10H320.45M317.70 124.35V129.85" stroke="#ff0000" stroke-width="0.55" fill="none"/>
<path d="M319.70 127.60L322.65 132.80H316.75Z" stroke="#262626" stroke-width="0.65" fill="none" stroke-linejoin="miter"/>
<path d="M311.40 142.00L313.95 145.50L311.40 149.00L308.85 145.50Z" stroke="#0000ff" stroke-width="0.65" fill="none"/>
<path d="M306.35 116.50H311.85M309.10 113.75V119.25" stroke="#ff0000" stroke-width="0.55" fill="none"/>
<circle cx="311.70" cy="117.00" r="2.85" stroke="#3aa52a" stroke-width="0.55" fill="none"/>
<path d="M316.20 114.50L318.75 118.00L316.20 121.50L313.65 118.00Z" stroke="#0000ff" stroke-width="0.65" fill="none"/>
<path d="M311.45 121.10H316.95M314.20 118.35V123.85" stroke="#ff0000" stroke-width="0.55" fill="none"/>
<path d="M320.30 115.50L322.85 119.00L320.30 122.50L317.75 119.00Z" stroke="#0000ff" stroke-width="0.65" fill="none"/>
<path d="M320.30 117.50H325.30M322.80 115.00V120.00M321.03 115.73L324.57 119.27M321.03 119.27L324.57 115.73" stroke="#ff00ff" stroke-width="0.6" fill="none"/>
<path d="M321.30 118.60L323.85 122.10L321.30 125.60L318.75 122.10Z" stroke="#0000ff" stroke-width="0.65" fill="none"/>
<path d="M323.30 121.50L326.25 126.70H320.35Z" stroke="#262626" stroke-width="0.65" fill="none" stroke-linejoin="miter"/>
<circle cx="322.30" cy="134.20" r="2.85" stroke="#3aa52a" stroke-width="0.55" fill="none"/>
<path d="M324.30 128.60L327.25 133.80H321.35Z" stroke="#262626" stroke-width="0.65" fill="none" stroke-linejoin="miter"/>
<path d="M323.80 135.70L326.35 139.20L323.80 142.70L321.25 139.20Z" stroke="#0000ff" stroke-width="0.65" fill="none"/>
<path d="M366.20 114.00L368.75 117.50L366.20 121.00L363.65 117.50Z" stroke="#0000ff" stroke-width="0.65" fill="none"/>
<path d="M357.35 116.50H362.85M360.10 113.75V119.25" stroke="#ff0000" stroke-width="0.55" fill="none"/>
<path d="M356.60 119.00H361.60M359.10 116.50V121.50M357.33 117.23L360.87 120.77M357.33 120.77L360.87 117.23" stroke="#ff00ff" stroke-width="0.6" fill="none"/>
<path d="M362.60 121.50L365.55 126.70H359.65Z" stroke="#262626" stroke-width="0.65" fill="none" stroke-linejoin="miter"/>
<path d="M364.70 126.10H369.70M367.20 123.60V128.60M365.43 124.33L368.97 127.87M365.43 127.87L368.97 124.33" stroke="#ff00ff" stroke-width="0.6" fill="none"/>
<path d="M366.70 126.70L369.25 130.20L366.70 133.70L364.15 130.20Z" stroke="#0000ff" stroke-width="0.65" fill="none"/>
<path d="M362.70 129.60H367.70M365.20 127.10V132.10M363.43 127.83L366.97 131.37M363.43 131.37L366.97 127.83" stroke="#ff00ff" stroke-width="0.6" fill="none"/>
<path d="M353.85 129.10H359.35M356.60 126.35V131.85" stroke="#ff0000" stroke-width="0.55" fill="none"/>
<circle cx="360.10" cy="132.70" r="2.85" stroke="#3aa52a" stroke-width="0.55" fill="none"/>
<path d="M361.60 138.20H366.60M364.10 135.70V140.70M362.33 136.43L365.87 139.97M362.33 139.97L365.87 136.43" stroke="#ff00ff" stroke-width="0.6" fill="none"/>
<path d="M362.10 133.20L364.65 136.70L362.10 140.20L359.55 136.70Z" stroke="#0000ff" stroke-width="0.65" fill="none"/>
<path d="M364.95 142.30H370.45M367.70 139.55V145.05" stroke="#ff0000" stroke-width="0.55" fill="none"/>
<path d="M373.20 140.30L375.75 143.80L373.20 147.30L370.65 143.80Z" stroke="#0000ff" stroke-width="0.65" fill="none"/>
<path d="M358.10 135.60L361.05 140.80H355.15Z" stroke="#262626" stroke-width="0.65" fill="none" stroke-linejoin="miter"/>
<path d="M352.60 141.80H357.60M355.10 139.30V144.30M353.33 140.03L356.87 143.57M353.33 143.57L356.87 140.03" stroke="#ff00ff" stroke-width="0.6" fill="none"/>
<path d="M352.00 122.50L354.95 127.70H349.05Z" stroke="#262626" stroke-width="0.65" fill="none" stroke-linejoin="miter"/>
<path d="M348.50 118.50H353.50M351.00 116.00V121.00M349.23 116.73L352.77 120.27M349.23 120.27L352.77 116.73" stroke="#ff00ff" stroke-width="0.6" fill="none"/>
<path d="M353.00 118.50L355.95 123.70H350.05Z" stroke="#262626" stroke-width="0.65" fill="none" stroke-linejoin="miter"/>
<circle cx="354.00" cy="135.20" r="2.85" stroke="#3aa52a" stroke-width="0.55" fill="none"/>
<path d="M356.10 129.70L358.65 133.20L356.10 136.70L353.55 133.20Z" stroke="#0000ff" stroke-width="0.65" fill="none"/>
<path d="M349.50 138.20H354.50M352.00 135.70V140.70M350.23 136.43L353.77 139.97M350.23 139.97L353.77 136.43" stroke="#ff00ff" stroke-width="0.6" fill="none"/>
<path d="M356.10 137.70L359.05 142.90H353.15Z" stroke="#262626" stroke-width="0.65" fill="none" stroke-linejoin="miter"/>
<path d="M375.70 142.60L378.25 146.10L375.70 149.60L373.15 146.10Z" stroke="#0000ff" stroke-width="0.65" fill="none"/>
<path d="M389.50 145.90L392.05 149.40L389.50 152.90L386.95 149.40Z" stroke="#0000ff" stroke-width="0.65" fill="none"/>
<path d="M390.50 154.00L393.05 157.50L390.50 161.00L387.95 157.50Z" stroke="#0000ff" stroke-width="0.65" fill="none"/>
<path d="M391.80 159.60L394.75 164.80H388.85Z" stroke="#262626" stroke-width="0.65" fill="none" stroke-linejoin="miter"/>
<circle cx="393.90" cy="167.60" r="2.85" stroke="#3aa52a" stroke-width="0.55" fill="none"/>
<path d="M380.90 153.50H385.90M383.40 151.00V156.00M381.63 151.73L385.17 155.27M381.63 155.27L385.17 151.73" stroke="#ff00ff" stroke-width="0.6" fill="none"/>
<path d="M409.70 147.00H414.70M412.20 144.50V149.50M410.43 145.23L413.97 148.77M410.43 148.77L413.97 145.23" stroke="#ff00ff" stroke-width="0.6" fill="none"/>
<path d="M414.00 155.10H419.00M416.50 152.60V157.60M414.73 153.33L418.27 156.87M414.73 156.87L418.27 153.33" stroke="#ff00ff" stroke-width="0.6" fill="none"/>
<path d="M414.00 121.40H419.00M416.50 118.90V123.90M414.73 119.63L418.27 123.17M414.73 123.17L418.27 119.63" stroke="#ff00ff" stroke-width="0.6" fill="none"/>
<path d="M411.80 128.50H416.80M414.30 126.00V131.00M412.53 126.73L416.07 130.27M412.53 130.27L416.07 126.73" stroke="#ff00ff" stroke-width="0.6" fill="none"/>
<path d="M379.65 162.20H385.15M382.40 159.45V164.95" stroke="#ff0000" stroke-width="0.55" fill="none"/>
<circle cx="389.10" cy="169.60" r="2.85" stroke="#3aa52a" stroke-width="0.55" fill="none"/>
<path d="M386.35 172.30H391.85M389.10 169.55V175.05" stroke="#ff0000" stroke-width="0.55" fill="none"/>
<path d="M391.80 171.50L394.35 175.00L391.80 178.50L389.25 175.00Z" stroke="#0000ff" stroke-width="0.65" fill="none"/>
<path d="M385.10 173.80L388.05 179.00H382.15Z" stroke="#262626" stroke-width="0.65" fill="none" stroke-linejoin="miter"/>
<circle cx="381.10" cy="172.30" r="2.85" stroke="#3aa52a" stroke-width="0.55" fill="none"/>
<path d="M401.90 174.20L404.45 177.70L401.90 181.20L399.35 177.70Z" stroke="#0000ff" stroke-width="0.65" fill="none"/>
<path d="M379.00 150.90L381.95 156.10H376.05Z" stroke="#262626" stroke-width="0.65" fill="none" stroke-linejoin="miter"/>
<path d="M374.50 157.50H379.50M377.00 155.00V160.00M375.23 155.73L378.77 159.27M375.23 159.27L378.77 155.73" stroke="#ff00ff" stroke-width="0.6" fill="none"/>
<path d="M377.70 163.40L380.25 166.90L377.70 170.40L375.15 166.90Z" stroke="#0000ff" stroke-width="0.65" fill="none"/>
<path d="M380.35 168.30H385.85M383.10 165.55V171.05" stroke="#ff0000" stroke-width="0.55" fill="none"/>
<path d="M377.70 172.40L380.65 177.60H374.75Z" stroke="#262626" stroke-width="0.65" fill="none" stroke-linejoin="miter"/>
<circle cx="379.00" cy="162.90" r="2.85" stroke="#3aa52a" stroke-width="0.55" fill="none"/>
<path d="M377.65 177.70H383.15M380.40 174.95V180.45" stroke="#ff0000" stroke-width="0.55" fill="none"/>
<path d="M318.45 156.10H323.95M321.20 153.35V158.85" stroke="#ff0000" stroke-width="0.55" fill="none"/>
<path d="M320.20 160.70H325.20M322.70 158.20V163.20M320.93 158.93L324.47 162.47M320.93 162.47L324.47 158.93" stroke="#ff00ff" stroke-width="0.6" fill="none"/>
<path d="M323.70 162.20L326.25 165.70L323.70 169.20L321.15 165.70Z" stroke="#0000ff" stroke-width="0.65" fill="none"/>
<circle cx="326.80" cy="160.20" r="2.85" stroke="#3aa52a" stroke-width="0.55" fill="none"/>
<path d="M322.20 143.50L324.75 147.00L322.20 150.50L319.65 147.00Z" stroke="#0000ff" stroke-width="0.65" fill="none"/>
<path d="M324.20 144.50L326.75 148.00L324.20 151.50L321.65 148.00Z" stroke="#0000ff" stroke-width="0.65" fill="none"/>
<path d="M324.80 149.00H329.80M327.30 146.50V151.50M325.53 147.23L329.07 150.77M325.53 150.77L329.07 147.23" stroke="#ff00ff" stroke-width="0.6" fill="none"/>
<path d="M325.55 146.00H331.05M328.30 143.25V148.75" stroke="#ff0000" stroke-width="0.55" fill="none"/>
<path d="M325.30 147.60L327.85 151.10L325.30 154.60L322.75 151.10Z" stroke="#0000ff" stroke-width="0.65" fill="none"/>
<path d="M325.80 153.10H330.80M328.30 150.60V155.60M326.53 151.33L330.07 154.87M326.53 154.87L330.07 151.33" stroke="#ff00ff" stroke-width="0.6" fill="none"/>
<path d="M326.30 153.60L328.85 157.10L326.30 160.60L323.75 157.10Z" stroke="#0000ff" stroke-width="0.65" fill="none"/>
<path d="M338.60 167.30L341.15 170.80L338.60 174.30L336.05 170.80Z" stroke="#0000ff" stroke-width="0.65" fill="none"/>
<path d="M342.70 167.30L345.25 170.80L342.70 174.30L340.15 170.80Z" stroke="#0000ff" stroke-width="0.65" fill="none"/>
<path d="M346.20 168.80L348.75 172.30L346.20 175.80L343.65 172.30Z" stroke="#0000ff" stroke-width="0.65" fill="none"/>
<path d="M330.60 163.20H335.60M333.10 160.70V165.70M331.33 161.43L334.87 164.97M331.33 164.97L334.87 161.43" stroke="#ff00ff" stroke-width="0.6" fill="none"/>
<path d="M335.60 162.70H340.60M338.10 160.20V165.20M336.33 160.93L339.87 164.47M336.33 164.47L339.87 160.93" stroke="#ff00ff" stroke-width="0.6" fill="none"/>
<path d="M336.10 152.60L338.65 156.10L336.10 159.60L333.55 156.10Z" stroke="#0000ff" stroke-width="0.65" fill="none"/>
<path d="M340.20 155.60L342.75 159.10L340.20 162.60L337.65 159.10Z" stroke="#0000ff" stroke-width="0.65" fill="none"/>
<path d="M344.20 161.70L346.75 165.20L344.20 168.70L341.65 165.20Z" stroke="#0000ff" stroke-width="0.65" fill="none"/>
<path d="M328.60 149.00H333.60M331.10 146.50V151.50M329.33 147.23L332.87 150.77M329.33 150.77L332.87 147.23" stroke="#ff00ff" stroke-width="0.6" fill="none"/>
<path d="M342.70 152.10H347.70M345.20 149.60V154.60M343.43 150.33L346.97 153.87M343.43 153.87L346.97 150.33" stroke="#ff00ff" stroke-width="0.6" fill="none"/>
<path d="M340.20 146.60L342.75 150.10L340.20 153.60L337.65 150.10Z" stroke="#0000ff" stroke-width="0.65" fill="none"/>
<path d="M337.10 144.40L340.05 149.60H334.15Z" stroke="#262626" stroke-width="0.65" fill="none" stroke-linejoin="miter"/>
<circle cx="344.20" cy="155.10" r="2.85" stroke="#3aa52a" stroke-width="0.55" fill="none"/>
<path d="M345.45 158.10H350.95M348.20 155.35V160.85" stroke="#ff0000" stroke-width="0.55" fill="none"/>
<path d="M351.30 157.60L354.25 162.80H348.35Z" stroke="#262626" stroke-width="0.65" fill="none" stroke-linejoin="miter"/>
<path d="M347.80 153.10H352.80M350.30 150.60V155.60M348.53 151.33L352.07 154.87M348.53 154.87L352.07 151.33" stroke="#ff00ff" stroke-width="0.6" fill="none"/>
<circle cx="353.30" cy="157.10" r="2.85" stroke="#3aa52a" stroke-width="0.55" fill="none"/>
<path d="M327.00 154.60L329.55 158.10L327.00 161.60L324.45 158.10Z" stroke="#0000ff" stroke-width="0.65" fill="none"/>
<path d="M328.00 147.60L330.55 151.10L328.00 154.60L325.45 151.10Z" stroke="#0000ff" stroke-width="0.65" fill="none"/>
<path d="M326.00 160.70L328.55 164.20L326.00 167.70L323.45 164.20Z" stroke="#0000ff" stroke-width="0.65" fill="none"/>
<circle cx="326.00" cy="160.20" r="2.85" stroke="#3aa52a" stroke-width="0.55" fill="none"/>
<path d="M334.10 151.60L336.65 155.10L334.10 158.60L331.55 155.10Z" stroke="#0000ff" stroke-width="0.65" fill="none"/>
<path d="M325.25 155.10H330.75M328.00 152.35V157.85" stroke="#ff0000" stroke-width="0.55" fill="none"/>
<path d="M349.20 162.60L352.15 167.80H346.25Z" stroke="#262626" stroke-width="0.65" fill="none" stroke-linejoin="miter"/>
<circle cx="352.30" cy="168.20" r="2.85" stroke="#3aa52a" stroke-width="0.55" fill="none"/>
<path d="M346.70 147.00H351.70M349.20 144.50V149.50M347.43 145.23L350.97 148.77M347.43 148.77L350.97 145.23" stroke="#ff00ff" stroke-width="0.6" fill="none"/>
<path d="M345.20 143.50L347.75 147.00L345.20 150.50L342.65 147.00Z" stroke="#0000ff" stroke-width="0.65" fill="none"/>
<path d="M329.30 177.30H334.30M331.80 174.80V179.80M330.03 175.53L333.57 179.07M330.03 179.07L333.57 175.53" stroke="#ff00ff" stroke-width="0.6" fill="none"/>
<path d="M341.60 176.10H346.60M344.10 173.60V178.60M342.33 174.33L345.87 177.87M342.33 177.87L345.87 174.33" stroke="#ff00ff" stroke-width="0.6" fill="none"/>
<path d="M346.50 170.30L349.05 173.80L346.50 177.30L343.95 173.80Z" stroke="#0000ff" stroke-width="0.65" fill="none"/>
<path d="M349.40 172.00L351.95 175.50L349.40 179.00L346.85 175.50Z" stroke="#0000ff" stroke-width="0.65" fill="none"/>
<circle cx="348.90" cy="180.20" r="2.85" stroke="#3aa52a" stroke-width="0.55" fill="none"/>
<circle cx="354.20" cy="175.50" r="2.85" stroke="#3aa52a" stroke-width="0.55" fill="none"/>
<circle cx="353.60" cy="185.00" r="2.85" stroke="#3aa52a" stroke-width="0.55" fill="none"/>
<circle cx="361.20" cy="180.80" r="2.85" stroke="#3aa52a" stroke-width="0.55" fill="none"/>
<path d="M345.90 180.30L348.45 183.80L345.90 187.30L343.35 183.80Z" stroke="#0000ff" stroke-width="0.65" fill="none"/>
<path d="M346.50 186.20L349.05 189.70L346.50 193.20L343.95 189.70Z" stroke="#0000ff" stroke-width="0.65" fill="none"/>
<path d="M340.60 183.80L343.15 187.30L340.60 190.80L338.05 187.30Z" stroke="#0000ff" stroke-width="0.65" fill="none"/>
<path d="M341.20 187.40L343.75 190.90L341.20 194.40L338.65 190.90Z" stroke="#0000ff" stroke-width="0.65" fill="none"/>
<path d="M335.20 190.30H340.20M337.70 187.80V192.80M335.93 188.53L339.47 192.07M335.93 192.07L339.47 188.53" stroke="#ff00ff" stroke-width="0.6" fill="none"/>
<path d="M349.30 190.30H354.30M351.80 187.80V192.80M350.03 188.53L353.57 192.07M350.03 192.07L353.57 188.53" stroke="#ff00ff" stroke-width="0.6" fill="none"/>
<path d="M354.20 190.30L356.75 193.80L354.20 197.30L351.65 193.80Z" stroke="#0000ff" stroke-width="0.65" fill="none"/>
<circle cx="357.70" cy="193.20" r="2.85" stroke="#3aa52a" stroke-width="0.55" fill="none"/>
<path d="M359.50 195.60L362.05 199.10L359.50 202.60L356.95 199.10Z" stroke="#0000ff" stroke-width="0.65" fill="none"/>
<path d="M361.80 187.40L364.35 190.90L361.80 194.40L359.25 190.90Z" stroke="#0000ff" stroke-width="0.65" fill="none"/>
<path d="M363.00 200.30L365.55 203.80L363.00 207.30L360.45 203.80Z" stroke="#0000ff" stroke-width="0.65" fill="none"/>
<path d="M358.30 193.20L360.85 196.70L358.30 200.20L355.75 196.70Z" stroke="#0000ff" stroke-width="0.65" fill="none"/>
<path d="M375.30 172.90L378.25 178.10H372.35Z" stroke="#262626" stroke-width="0.65" fill="none" stroke-linejoin="miter"/>
<path d="M381.20 174.10L384.15 179.30H378.25Z" stroke="#262626" stroke-width="0.65" fill="none" stroke-linejoin="miter"/>
<path d="M385.30 174.10L388.25 179.30H382.35Z" stroke="#262626" stroke-width="0.65" fill="none" stroke-linejoin="miter"/>
<path d="M389.50 173.20L392.05 176.70L389.50 180.20L386.95 176.70Z" stroke="#0000ff" stroke-width="0.65" fill="none"/>
<path d="M363.50 170.90L366.05 174.40L363.50 177.90L360.95 174.40Z" stroke="#0000ff" stroke-width="0.65" fill="none"/>
<path d="M364.60 175.50H369.60M367.10 173.00V178.00M365.33 173.73L368.87 177.27M365.33 177.27L368.87 173.73" stroke="#ff00ff" stroke-width="0.6" fill="none"/>
<path d="M371.80 171.80L374.75 177.00H368.85Z" stroke="#262626" stroke-width="0.65" fill="none" stroke-linejoin="miter"/>
<circle cx="362.40" cy="181.40" r="2.85" stroke="#3aa52a" stroke-width="0.55" fill="none"/>
<path d="M360.75 184.40H366.25M363.50 181.65V187.15" stroke="#ff0000" stroke-width="0.55" fill="none"/>
<path d="M367.10 183.80L369.65 187.30L367.10 190.80L364.55 187.30Z" stroke="#0000ff" stroke-width="0.65" fill="none"/>
<path d="M373.60 178.20L376.55 183.40H370.65Z" stroke="#262626" stroke-width="0.65" fill="none" stroke-linejoin="miter"/>
<path d="M374.10 181.20L377.05 186.40H371.15Z" stroke="#262626" stroke-width="0.65" fill="none" stroke-linejoin="miter"/>
<path d="M378.45 182.00H383.95M381.20 179.25V184.75" stroke="#ff0000" stroke-width="0.55" fill="none"/>
<path d="M371.60 187.90H376.60M374.10 185.40V190.40M372.33 186.13L375.87 189.67M372.33 189.67L375.87 186.13" stroke="#ff00ff" stroke-width="0.6" fill="none"/>
<path d="M370.60 186.20L373.15 189.70L370.60 193.20L368.05 189.70Z" stroke="#0000ff" stroke-width="0.65" fill="none"/>
<path d="M380.60 185.30L383.55 190.50H377.65Z" stroke="#262626" stroke-width="0.65" fill="none" stroke-linejoin="miter"/>
<path d="M380.85 187.30H386.35M383.60 184.55V190.05" stroke="#ff0000" stroke-width="0.55" fill="none"/>
<circle cx="385.90" cy="183.80" r="2.85" stroke="#3aa52a" stroke-width="0.55" fill="none"/>
<path d="M387.45 186.00H392.95M390.20 183.25V188.75" stroke="#ff0000" stroke-width="0.55" fill="none"/>
<path d="M387.10 187.70L390.05 192.90H384.15Z" stroke="#262626" stroke-width="0.65" fill="none" stroke-linejoin="miter"/>
<path d="M382.80 191.40H387.80M385.30 188.90V193.90M383.53 189.63L387.07 193.17M383.53 193.17L387.07 189.63" stroke="#ff00ff" stroke-width="0.6" fill="none"/>
<path d="M380.85 192.00H386.35M383.60 189.25V194.75" stroke="#ff0000" stroke-width="0.55" fill="none"/>
<path d="M389.50 191.20L392.45 196.40H386.55Z" stroke="#262626" stroke-width="0.65" fill="none" stroke-linejoin="miter"/>
<path d="M388.90 195.00L391.45 198.50L388.90 202.00L386.35 198.50Z" stroke="#0000ff" stroke-width="0.65" fill="none"/>
<circle cx="377.10" cy="193.20" r="2.85" stroke="#3aa52a" stroke-width="0.55" fill="none"/>
<path d="M379.40 193.20L381.95 196.70L379.40 200.20L376.85 196.70Z" stroke="#0000ff" stroke-width="0.65" fill="none"/>
<path d="M366.30 197.30H371.30M368.80 194.80V199.80M367.03 195.53L370.57 199.07M367.03 199.07L370.57 195.53" stroke="#ff00ff" stroke-width="0.6" fill="none"/>
<path d="M371.80 196.80L374.35 200.30L371.80 203.80L369.25 200.30Z" stroke="#0000ff" stroke-width="0.65" fill="none"/>
<path d="M368.70 203.20H373.70M371.20 200.70V205.70M369.43 201.43L372.97 204.97M369.43 204.97L372.97 201.43" stroke="#ff00ff" stroke-width="0.6" fill="none"/>
<path d="M363.50 199.70L366.05 203.20L363.50 206.70L360.95 203.20Z" stroke="#0000ff" stroke-width="0.65" fill="none"/>
<path d="M360.60 193.80L363.15 197.30L360.60 200.80L358.05 197.30Z" stroke="#0000ff" stroke-width="0.65" fill="none"/>
<path d="M393.00 198.50L395.55 202.00L393.00 205.50L390.45 202.00Z" stroke="#0000ff" stroke-width="0.65" fill="none"/>
<circle cx="392.40" cy="196.20" r="2.85" stroke="#3aa52a" stroke-width="0.55" fill="none"/>
<path d="M402.50 175.30L405.05 178.80L402.50 182.30L399.95 178.80Z" stroke="#0000ff" stroke-width="0.65" fill="none"/>
<path d="M397.10 183.60L400.05 188.80H394.15Z" stroke="#262626" stroke-width="0.65" fill="none" stroke-linejoin="miter"/>
<path d="M395.75 190.90H401.25M398.50 188.15V193.65" stroke="#ff0000" stroke-width="0.55" fill="none"/>
<path d="M404.50 189.60L407.45 194.80H401.55Z" stroke="#262626" stroke-width="0.65" fill="none" stroke-linejoin="miter"/>
<path d="M393.80 191.40L396.35 194.90L393.80 198.40L391.25 194.90Z" stroke="#0000ff" stroke-width="0.65" fill="none"/>
<path d="M397.80 196.80L400.35 200.30L397.80 203.80L395.25 200.30Z" stroke="#0000ff" stroke-width="0.65" fill="none"/>
<path d="M400.40 198.70L403.35 203.90H397.45Z" stroke="#262626" stroke-width="0.65" fill="none" stroke-linejoin="miter"/>
<circle cx="395.60" cy="205.00" r="2.85" stroke="#3aa52a" stroke-width="0.55" fill="none"/>
<circle cx="386.30" cy="207.30" r="2.85" stroke="#3aa52a" stroke-width="0.55" fill="none"/>
<path d="M391.70 171.90L394.25 175.40L391.70 178.90L389.15 175.40Z" stroke="#0000ff" stroke-width="0.65" fill="none"/>
<path d="M388.40 194.80L390.95 198.30L388.40 201.80L385.85 198.30Z" stroke="#0000ff" stroke-width="0.65" fill="none"/>
<path d="M387.00 191.00L389.95 196.20H384.05Z" stroke="#262626" stroke-width="0.65" fill="none" stroke-linejoin="miter"/>
<path d="M354.40 192.80L356.95 196.30L354.40 199.80L351.85 196.30Z" stroke="#0000ff" stroke-width="0.65" fill="none"/>
<path d="M359.10 194.90L361.65 198.40L359.10 201.90L356.55 198.40Z" stroke="#0000ff" stroke-width="0.65" fill="none"/>
<path d="M360.50 193.50L363.05 197.00L360.50 200.50L357.95 197.00Z" stroke="#0000ff" stroke-width="0.65" fill="none"/>
<path d="M363.90 201.60L366.45 205.10L363.90 208.60L361.35 205.10Z" stroke="#0000ff" stroke-width="0.65" fill="none"/>
<path d="M353.30 208.70H358.30M355.80 206.20V211.20M354.03 206.93L357.57 210.47M354.03 210.47L357.57 206.93" stroke="#ff00ff" stroke-width="0.6" fill="none"/>
<path d="M366.70 197.00H371.70M369.20 194.50V199.50M367.43 195.23L370.97 198.77M367.43 198.77L370.97 195.23" stroke="#ff00ff" stroke-width="0.6" fill="none"/>
<path d="M368.10 202.40H373.10M370.60 199.90V204.90M368.83 200.63L372.37 204.17M368.83 204.17L372.37 200.63" stroke="#ff00ff" stroke-width="0.6" fill="none"/>
<path d="M371.30 197.60L373.85 201.10L371.30 204.60L368.75 201.10Z" stroke="#0000ff" stroke-width="0.65" fill="none"/>
<circle cx="373.30" cy="197.00" r="2.85" stroke="#3aa52a" stroke-width="0.55" fill="none"/>
<path d="M377.30 196.90L379.85 200.40L377.30 203.90L374.75 200.40Z" stroke="#0000ff" stroke-width="0.65" fill="none"/>
<path d="M381.40 195.50L383.95 199.00L381.40 202.50L378.85 199.00Z" stroke="#0000ff" stroke-width="0.65" fill="none"/>
<path d="M377.50 197.00H382.50M380.00 194.50V199.50M378.23 195.23L381.77 198.77M378.23 198.77L381.77 195.23" stroke="#ff00ff" stroke-width="0.6" fill="none"/>
<circle cx="384.10" cy="208.50" r="2.85" stroke="#3aa52a" stroke-width="0.55" fill="none"/>
<path d="M380.70 195.50L383.25 199.00L380.70 202.50L378.15 199.00Z" stroke="#0000ff" stroke-width="0.65" fill="none"/>
<path d="M392.80 192.20L395.35 195.70L392.80 199.20L390.25 195.70Z" stroke="#0000ff" stroke-width="0.65" fill="none"/>
<path d="M397.50 196.90L400.05 200.40L397.50 203.90L394.95 200.40Z" stroke="#0000ff" stroke-width="0.65" fill="none"/>
<circle cx="386.80" cy="211.20" r="2.85" stroke="#3aa52a" stroke-width="0.55" fill="none"/>
<circle cx="390.80" cy="212.50" r="2.85" stroke="#3aa52a" stroke-width="0.55" fill="none"/>
<path d="M390.10 211.70L392.65 215.20L390.10 218.70L387.55 215.20Z" stroke="#0000ff" stroke-width="0.65" fill="none"/>
<circle cx="398.90" cy="213.90" r="2.85" stroke="#3aa52a" stroke-width="0.55" fill="none"/>
<path d="M324.20 161.20L326.75 164.70L324.20 168.20L321.65 164.70Z" stroke="#0000ff" stroke-width="0.65" fill="none"/>
<path d="M340.40 59.60L343.35 64.80H337.45Z" stroke="#262626" stroke-width="0.65" fill="none" stroke-linejoin="miter"/>
<path d="M343.60 59.60L346.55 64.80H340.65Z" stroke="#262626" stroke-width="0.65" fill="none" stroke-linejoin="miter"/>
<path d="M321.72 107.53H326.72M324.22 105.03V110.03M322.46 105.76L325.99 109.30M322.46 109.30L325.99 105.76" stroke="#ff00ff" stroke-width="0.6" fill="none"/>
<path d="M335.00 95.47L337.55 98.97L335.00 102.47L332.45 98.97Z" stroke="#0000ff" stroke-width="0.65" fill="none"/>
<path d="M334.21 85.62L336.76 89.12L334.21 92.62L331.66 89.12Z" stroke="#0000ff" stroke-width="0.65" fill="none"/>
<path d="M319.46 90.72H324.46M321.96 88.22V93.22M320.19 88.95L323.72 92.49M320.19 92.49L323.72 88.95" stroke="#ff00ff" stroke-width="0.6" fill="none"/>
<path d="M340.65 91.71H345.65M343.15 89.21V94.21M341.38 89.95L344.92 93.48M341.38 93.48L344.92 89.95" stroke="#ff00ff" stroke-width="0.6" fill="none"/>
<path d="M337.57 112.93L340.12 116.43L337.57 119.93L335.02 116.43Z" stroke="#0000ff" stroke-width="0.65" fill="none"/>
<path d="M328.61 117.29H333.61M331.11 114.79V119.79M329.34 115.52L332.87 119.06M329.34 119.06L332.87 115.52" stroke="#ff00ff" stroke-width="0.6" fill="none"/>
<path d="M344.04 93.19L346.59 96.69L344.04 100.19L341.49 96.69Z" stroke="#0000ff" stroke-width="0.65" fill="none"/>
<path d="M323.30 93.75L325.85 97.25L323.30 100.75L320.75 97.25Z" stroke="#0000ff" stroke-width="0.65" fill="none"/>
<path d="M325.06 102.85L328.01 108.05H322.11Z" stroke="#262626" stroke-width="0.65" fill="none" stroke-linejoin="miter"/>
<path d="M330.43 101.83L333.38 107.03H327.48Z" stroke="#262626" stroke-width="0.65" fill="none" stroke-linejoin="miter"/>
<path d="M321.67 90.68L324.22 94.18L321.67 97.68L319.12 94.18Z" stroke="#0000ff" stroke-width="0.65" fill="none"/>
<path d="M331.97 94.82L334.92 100.02H329.02Z" stroke="#262626" stroke-width="0.65" fill="none" stroke-linejoin="miter"/>
<path d="M330.19 96.99H335.19M332.69 94.49V99.49M330.92 95.23L334.46 98.76M330.92 98.76L334.46 95.23" stroke="#ff00ff" stroke-width="0.6" fill="none"/>
<path d="M339.57 92.72L342.52 97.92H336.62Z" stroke="#262626" stroke-width="0.65" fill="none" stroke-linejoin="miter"/>
<path d="M332.21 114.25H337.21M334.71 111.75V116.75M332.94 112.49L336.47 116.02M332.94 116.02L336.47 112.49" stroke="#ff00ff" stroke-width="0.6" fill="none"/>
<path d="M328.06 114.81L331.01 120.01H325.11Z" stroke="#262626" stroke-width="0.65" fill="none" stroke-linejoin="miter"/>
<path d="M331.71 107.21L334.26 110.71L331.71 114.21L329.16 110.71Z" stroke="#0000ff" stroke-width="0.65" fill="none"/>
<path d="M333.69 85.68L336.24 89.18L333.69 92.68L331.14 89.18Z" stroke="#0000ff" stroke-width="0.65" fill="none"/>
<path d="M341.41 102.59L344.36 107.79H338.46Z" stroke="#262626" stroke-width="0.65" fill="none" stroke-linejoin="miter"/>
<circle cx="328.78" cy="108.86" r="2.85" stroke="#3aa52a" stroke-width="0.55" fill="none"/>
<path d="M333.74 101.69H338.74M336.24 99.19V104.19M334.47 99.92L338.00 103.45M334.47 103.45L338.00 99.92" stroke="#ff00ff" stroke-width="0.6" fill="none"/>
<path d="M346.45 99.62L349.40 104.82H343.50Z" stroke="#262626" stroke-width="0.65" fill="none" stroke-linejoin="miter"/>
<path d="M321.70 106.44L324.65 111.64H318.75Z" stroke="#262626" stroke-width="0.65" fill="none" stroke-linejoin="miter"/>
<path d="M347.81 110.06L350.76 115.26H344.86Z" stroke="#262626" stroke-width="0.65" fill="none" stroke-linejoin="miter"/>
<path d="M330.80 104.56L333.35 108.06L330.80 111.56L328.25 108.06Z" stroke="#0000ff" stroke-width="0.65" fill="none"/>
<path d="M332.93 89.54L335.48 93.04L332.93 96.54L330.38 93.04Z" stroke="#0000ff" stroke-width="0.65" fill="none"/>
<path d="M321.65 107.55L324.20 111.05L321.65 114.55L319.10 111.05Z" stroke="#0000ff" stroke-width="0.65" fill="none"/>
<path d="M326.93 96.23L329.48 99.73L326.93 103.23L324.38 99.73Z" stroke="#0000ff" stroke-width="0.65" fill="none"/>
<circle cx="322.26" cy="101.48" r="2.85" stroke="#3aa52a" stroke-width="0.55" fill="none"/>
<path d="M342.23 112.58H347.23M344.73 110.08V115.08M342.97 110.81L346.50 114.35M342.97 114.35L346.50 110.81" stroke="#ff00ff" stroke-width="0.6" fill="none"/>
<circle cx="327.80" cy="100.46" r="2.85" stroke="#3aa52a" stroke-width="0.55" fill="none"/>
<path d="M342.26 116.73H347.26M344.76 114.23V119.23M342.99 114.96L346.53 118.50M342.99 118.50L346.53 114.96" stroke="#ff00ff" stroke-width="0.6" fill="none"/>
<path d="M324.93 91.46L327.48 94.96L324.93 98.46L322.38 94.96Z" stroke="#0000ff" stroke-width="0.65" fill="none"/>
<path d="M333.58 102.17L336.13 105.67L333.58 109.17L331.03 105.67Z" stroke="#0000ff" stroke-width="0.65" fill="none"/>
<path d="M320.11 97.07L322.66 100.57L320.11 104.07L317.56 100.57Z" stroke="#0000ff" stroke-width="0.65" fill="none"/>
<path d="M333.36 116.59H338.36M335.86 114.09V119.09M334.09 114.83L337.63 118.36M334.09 118.36L337.63 114.83" stroke="#ff00ff" stroke-width="0.6" fill="none"/>
<path d="M334.43 103.93L337.38 109.13H331.48Z" stroke="#262626" stroke-width="0.65" fill="none" stroke-linejoin="miter"/>
<path d="M321.51 112.39L324.46 117.59H318.56Z" stroke="#262626" stroke-width="0.65" fill="none" stroke-linejoin="miter"/>
<path d="M344.49 109.34L347.44 114.54H341.54Z" stroke="#262626" stroke-width="0.65" fill="none" stroke-linejoin="miter"/>
<path d="M328.67 91.11H333.67M331.17 88.61V93.61M329.40 89.34L332.94 92.87M329.40 92.87L332.94 89.34" stroke="#ff00ff" stroke-width="0.6" fill="none"/>
<path d="M321.74 87.42L324.69 92.62H318.79Z" stroke="#262626" stroke-width="0.65" fill="none" stroke-linejoin="miter"/>
<path d="M324.54 94.70L327.09 98.20L324.54 101.70L321.99 98.20Z" stroke="#0000ff" stroke-width="0.65" fill="none"/>
<path d="M320.01 89.04L322.56 92.54L320.01 96.04L317.46 92.54Z" stroke="#0000ff" stroke-width="0.65" fill="none"/>
<path d="M330.18 85.27L332.73 88.77L330.18 92.27L327.63 88.77Z" stroke="#0000ff" stroke-width="0.65" fill="none"/>
<circle cx="337.19" cy="92.46" r="2.85" stroke="#3aa52a" stroke-width="0.55" fill="none"/>
<path d="M329.73 95.42L332.28 98.92L329.73 102.42L327.18 98.92Z" stroke="#0000ff" stroke-width="0.65" fill="none"/>
<path d="M343.77 114.29L346.32 117.79L343.77 121.29L341.22 117.79Z" stroke="#0000ff" stroke-width="0.65" fill="none"/>
<path d="M331.05 90.58H336.05M333.55 88.08V93.08M331.78 88.81L335.32 92.34M331.78 92.34L335.32 88.81" stroke="#ff00ff" stroke-width="0.6" fill="none"/>
<path d="M329.59 92.44L332.14 95.94L329.59 99.44L327.04 95.94Z" stroke="#0000ff" stroke-width="0.65" fill="none"/>
<path d="M324.52 86.09L327.47 91.29H321.57Z" stroke="#262626" stroke-width="0.65" fill="none" stroke-linejoin="miter"/>
<path d="M332.04 92.40H337.54M334.79 89.65V95.15" stroke="#ff0000" stroke-width="0.55" fill="none"/>
<path d="M318.26 103.84H323.26M320.76 101.34V106.34M318.99 102.08L322.52 105.61M318.99 105.61L322.52 102.08" stroke="#ff00ff" stroke-width="0.6" fill="none"/>
<path d="M341.42 108.89H346.92M344.17 106.14V111.64" stroke="#ff0000" stroke-width="0.55" fill="none"/>
<path d="M330.27 89.51L332.82 93.01L330.27 96.51L327.72 93.01Z" stroke="#0000ff" stroke-width="0.65" fill="none"/>
<path d="M334.91 108.77L337.86 113.97H331.96Z" stroke="#262626" stroke-width="0.65" fill="none" stroke-linejoin="miter"/>
<path d="M323.75 112.35H328.75M326.25 109.85V114.85M324.48 110.58L328.01 114.11M324.48 114.11L328.01 110.58" stroke="#ff00ff" stroke-width="0.6" fill="none"/>
<path d="M341.12 112.18H346.62M343.87 109.43V114.93" stroke="#ff0000" stroke-width="0.55" fill="none"/>
<path d="M340.72 92.20L343.67 97.40H337.77Z" stroke="#262626" stroke-width="0.65" fill="none" stroke-linejoin="miter"/>
<path d="M327.46 88.87H332.46M329.96 86.37V91.37M328.19 87.10L331.72 90.64M328.19 90.64L331.72 87.10" stroke="#ff00ff" stroke-width="0.6" fill="none"/>
<path d="M327.82 92.28L330.37 95.78L327.82 99.28L325.27 95.78Z" stroke="#0000ff" stroke-width="0.65" fill="none"/>
<path d="M346.78 98.82L349.73 104.02H343.83Z" stroke="#262626" stroke-width="0.65" fill="none" stroke-linejoin="miter"/>
<circle cx="347.67" cy="116.65" r="2.85" stroke="#3aa52a" stroke-width="0.55" fill="none"/>
<path d="M323.67 94.81H328.67M326.17 92.31V97.31M324.41 93.04L327.94 96.57M324.41 96.57L327.94 93.04" stroke="#ff00ff" stroke-width="0.6" fill="none"/>
<path d="M325.72 103.22L328.27 106.72L325.72 110.22L323.17 106.72Z" stroke="#0000ff" stroke-width="0.65" fill="none"/>
<circle cx="343.53" cy="102.38" r="2.85" stroke="#3aa52a" stroke-width="0.55" fill="none"/>
<path d="M342.39 87.94L345.34 93.14H339.44Z" stroke="#262626" stroke-width="0.65" fill="none" stroke-linejoin="miter"/>
<path d="M345.47 108.87L348.42 114.07H342.52Z" stroke="#262626" stroke-width="0.65" fill="none" stroke-linejoin="miter"/>
<path d="M333.38 90.76L336.33 95.96H330.43Z" stroke="#262626" stroke-width="0.65" fill="none" stroke-linejoin="miter"/>
<path d="M329.31 109.42L332.26 114.62H326.36Z" stroke="#262626" stroke-width="0.65" fill="none" stroke-linejoin="miter"/>
<path d="M328.33 100.04H333.83M331.08 97.29V102.79" stroke="#ff0000" stroke-width="0.55" fill="none"/>
<path d="M337.54 93.10H343.04M340.29 90.35V95.85" stroke="#ff0000" stroke-width="0.55" fill="none"/>
<path d="M324.23 111.65L326.78 115.15L324.23 118.65L321.68 115.15Z" stroke="#0000ff" stroke-width="0.65" fill="none"/>
<path d="M324.09 110.20L327.04 115.40H321.14Z" stroke="#262626" stroke-width="0.65" fill="none" stroke-linejoin="miter"/>
<path d="M335.65 98.51H341.15M338.40 95.76V101.26" stroke="#ff0000" stroke-width="0.55" fill="none"/>
<path d="M321.17 88.43H326.17M323.67 85.93V90.93M321.90 86.66L325.44 90.20M321.90 90.20L325.44 86.66" stroke="#ff00ff" stroke-width="0.6" fill="none"/>
<path d="M335.44 103.80H340.94M338.19 101.05V106.55" stroke="#ff0000" stroke-width="0.55" fill="none"/>
<circle cx="332.15" cy="114.15" r="2.85" stroke="#3aa52a" stroke-width="0.55" fill="none"/>
<path d="M325.91 92.96L328.86 98.16H322.96Z" stroke="#262626" stroke-width="0.65" fill="none" stroke-linejoin="miter"/>
<path d="M326.74 102.09L329.29 105.59L326.74 109.09L324.19 105.59Z" stroke="#0000ff" stroke-width="0.65" fill="none"/>
<path d="M334.57 118.04L337.12 121.54L334.57 125.04L332.02 121.54Z" stroke="#0000ff" stroke-width="0.65" fill="none"/>
<circle cx="332.61" cy="130.37" r="2.85" stroke="#3aa52a" stroke-width="0.55" fill="none"/>
<path d="M346.63 129.36H351.63M349.13 126.86V131.86M347.36 127.59L350.90 131.12M347.36 131.12L350.90 127.59" stroke="#ff00ff" stroke-width="0.6" fill="none"/>
<circle cx="337.05" cy="132.36" r="2.85" stroke="#3aa52a" stroke-width="0.55" fill="none"/>
<path d="M320.06 129.88H325.06M322.56 127.38V132.38M320.79 128.12L324.33 131.65M320.79 131.65L324.33 128.12" stroke="#ff00ff" stroke-width="0.6" fill="none"/>
<path d="M322.12 136.08L324.67 139.58L322.12 143.08L319.57 139.58Z" stroke="#0000ff" stroke-width="0.65" fill="none"/>
<path d="M336.20 134.08L338.75 137.58L336.20 141.08L333.65 137.58Z" stroke="#0000ff" stroke-width="0.65" fill="none"/>
<path d="M329.28 132.00H334.28M331.78 129.50V134.50M330.01 130.23L333.55 133.76M330.01 133.76L333.55 130.23" stroke="#ff00ff" stroke-width="0.6" fill="none"/>
<path d="M343.03 120.86H348.03M345.53 118.36V123.36M343.76 119.10L347.30 122.63M343.76 122.63L347.30 119.10" stroke="#ff00ff" stroke-width="0.6" fill="none"/>
<path d="M326.95 125.48H331.95M329.45 122.98V127.98M327.69 123.71L331.22 127.24M327.69 127.24L331.22 123.71" stroke="#ff00ff" stroke-width="0.6" fill="none"/>
<path d="M337.23 130.57L340.18 135.77H334.28Z" stroke="#262626" stroke-width="0.65" fill="none" stroke-linejoin="miter"/>
<path d="M349.37 127.37L352.32 132.57H346.42Z" stroke="#262626" stroke-width="0.65" fill="none" stroke-linejoin="miter"/>
<path d="M334.67 131.83H339.67M337.17 129.33V134.33M335.40 130.06L338.93 133.60M335.40 133.60L338.93 130.06" stroke="#ff00ff" stroke-width="0.6" fill="none"/>
<path d="M335.57 129.80L338.52 135.00H332.62Z" stroke="#262626" stroke-width="0.65" fill="none" stroke-linejoin="miter"/>
<path d="M347.75 136.88H352.75M350.25 134.38V139.38M348.48 135.11L352.01 138.65M348.48 138.65L352.01 135.11" stroke="#ff00ff" stroke-width="0.6" fill="none"/>
<circle cx="350.27" cy="125.01" r="2.85" stroke="#3aa52a" stroke-width="0.55" fill="none"/>
<path d="M347.80 140.68H352.80M350.30 138.18V143.18M348.53 138.91L352.07 142.45M348.53 142.45L352.07 138.91" stroke="#ff00ff" stroke-width="0.6" fill="none"/>
<path d="M325.65 126.44L328.20 129.94L325.65 133.44L323.10 129.94Z" stroke="#0000ff" stroke-width="0.65" fill="none"/>
<path d="M329.22 116.47L331.77 119.97L329.22 123.47L326.67 119.97Z" stroke="#0000ff" stroke-width="0.65" fill="none"/>
<path d="M345.52 139.62L348.47 144.82H342.57Z" stroke="#262626" stroke-width="0.65" fill="none" stroke-linejoin="miter"/>
<path d="M343.48 132.33L346.03 135.83L343.48 139.33L340.93 135.83Z" stroke="#0000ff" stroke-width="0.65" fill="none"/>
<path d="M348.48 140.62L351.03 144.12L348.48 147.62L345.93 144.12Z" stroke="#0000ff" stroke-width="0.65" fill="none"/>
<path d="M350.58 125.25L353.13 128.75L350.58 132.25L348.03 128.75Z" stroke="#0000ff" stroke-width="0.65" fill="none"/>
<path d="M349.20 140.48H354.20M351.70 137.98V142.98M349.93 138.71L353.46 142.24M349.93 142.24L353.46 138.71" stroke="#ff00ff" stroke-width="0.6" fill="none"/>
<path d="M334.95 128.42L337.50 131.92L334.95 135.42L332.40 131.92Z" stroke="#0000ff" stroke-width="0.65" fill="none"/>
<path d="M325.37 126.60H330.37M327.87 124.10V129.10M326.10 124.83L329.64 128.37M326.10 128.37L329.64 124.83" stroke="#ff00ff" stroke-width="0.6" fill="none"/>
<path d="M322.58 130.36L325.53 135.56H319.63Z" stroke="#262626" stroke-width="0.65" fill="none" stroke-linejoin="miter"/>
<path d="M320.04 126.95H325.04M322.54 124.45V129.45M320.77 125.18L324.31 128.72M320.77 128.72L324.31 125.18" stroke="#ff00ff" stroke-width="0.6" fill="none"/>
<path d="M334.87 119.74H339.87M337.37 117.24V122.24M335.60 117.97L339.14 121.50M335.60 121.50L339.14 117.97" stroke="#ff00ff" stroke-width="0.6" fill="none"/>
<path d="M342.90 144.24H348.40M345.65 141.49V146.99" stroke="#ff0000" stroke-width="0.55" fill="none"/>
<path d="M329.97 115.57L332.52 119.07L329.97 122.57L327.42 119.07Z" stroke="#0000ff" stroke-width="0.65" fill="none"/>
<path d="M330.11 118.90L333.06 124.10H327.16Z" stroke="#262626" stroke-width="0.65" fill="none" stroke-linejoin="miter"/>
<path d="M346.84 140.11H351.84M349.34 137.61V142.61M347.57 138.34L351.11 141.88M347.57 141.88L351.11 138.34" stroke="#ff00ff" stroke-width="0.6" fill="none"/>
<path d="M326.48 139.32L329.03 142.82L326.48 146.32L323.93 142.82Z" stroke="#0000ff" stroke-width="0.65" fill="none"/>
<path d="M340.51 120.42H345.51M343.01 117.92V122.92M341.24 118.65L344.78 122.18M341.24 122.18L344.78 118.65" stroke="#ff00ff" stroke-width="0.6" fill="none"/>
<path d="M342.65 125.98L345.20 129.48L342.65 132.98L340.10 129.48Z" stroke="#0000ff" stroke-width="0.65" fill="none"/>
<path d="M350.15 131.63L352.70 135.13L350.15 138.63L347.60 135.13Z" stroke="#0000ff" stroke-width="0.65" fill="none"/>
<path d="M324.51 138.52L327.46 143.72H321.56Z" stroke="#262626" stroke-width="0.65" fill="none" stroke-linejoin="miter"/>
<path d="M347.88 126.75L350.43 130.25L347.88 133.75L345.33 130.25Z" stroke="#0000ff" stroke-width="0.65" fill="none"/>
<path d="M336.09 143.02H341.09M338.59 140.52V145.52M336.82 141.25L340.36 144.79M336.82 144.79L340.36 141.25" stroke="#ff00ff" stroke-width="0.6" fill="none"/>
<path d="M325.88 128.73L328.43 132.23L325.88 135.73L323.33 132.23Z" stroke="#0000ff" stroke-width="0.65" fill="none"/>
<path d="M325.28 118.86L327.83 122.36L325.28 125.86L322.73 122.36Z" stroke="#0000ff" stroke-width="0.65" fill="none"/>
<path d="M328.05 122.92L330.60 126.42L328.05 129.92L325.50 126.42Z" stroke="#0000ff" stroke-width="0.65" fill="none"/>
<path d="M342.28 125.83H347.28M344.78 123.33V128.33M343.02 124.06L346.55 127.60M343.02 127.60L346.55 124.06" stroke="#ff00ff" stroke-width="0.6" fill="none"/>
<path d="M324.84 127.37H329.84M327.34 124.87V129.87M325.57 125.60L329.10 129.14M325.57 129.14L329.10 125.60" stroke="#ff00ff" stroke-width="0.6" fill="none"/>
<path d="M329.51 114.91L332.06 118.41L329.51 121.91L326.96 118.41Z" stroke="#0000ff" stroke-width="0.65" fill="none"/>
<path d="M338.53 120.52L341.48 125.72H335.58Z" stroke="#262626" stroke-width="0.65" fill="none" stroke-linejoin="miter"/>
<path d="M347.54 120.87H352.54M350.04 118.37V123.37M348.27 119.10L351.81 122.64M348.27 122.64L351.81 119.10" stroke="#ff00ff" stroke-width="0.6" fill="none"/>
<path d="M334.97 128.77L337.92 133.97H332.02Z" stroke="#262626" stroke-width="0.65" fill="none" stroke-linejoin="miter"/>
<path d="M333.79 129.08L336.74 134.28H330.84Z" stroke="#262626" stroke-width="0.65" fill="none" stroke-linejoin="miter"/>
<path d="M351.47 124.65L354.42 129.85H348.52Z" stroke="#262626" stroke-width="0.65" fill="none" stroke-linejoin="miter"/>
<path d="M343.20 132.57L346.15 137.77H340.25Z" stroke="#262626" stroke-width="0.65" fill="none" stroke-linejoin="miter"/>
<path d="M329.93 119.47H334.93M332.43 116.97V121.97M330.66 117.70L334.19 121.24M330.66 121.24L334.19 117.70" stroke="#ff00ff" stroke-width="0.6" fill="none"/>
<path d="M324.12 134.50L326.67 138.00L324.12 141.50L321.57 138.00Z" stroke="#0000ff" stroke-width="0.65" fill="none"/>
<path d="M326.90 116.78L329.45 120.28L326.90 123.78L324.35 120.28Z" stroke="#0000ff" stroke-width="0.65" fill="none"/>
<path d="M348.12 133.50L351.07 138.70H345.17Z" stroke="#262626" stroke-width="0.65" fill="none" stroke-linejoin="miter"/>
<path d="M329.27 122.41L331.82 125.91L329.27 129.41L326.72 125.91Z" stroke="#0000ff" stroke-width="0.65" fill="none"/>
<path d="M324.23 130.04H329.23M326.73 127.54V132.54M324.96 128.27L328.49 131.81M324.96 131.81L328.49 128.27" stroke="#ff00ff" stroke-width="0.6" fill="none"/>
<path d="M350.85 140.76L353.40 144.26L350.85 147.76L348.30 144.26Z" stroke="#0000ff" stroke-width="0.65" fill="none"/>
<path d="M326.83 144.07H331.83M329.33 141.57V146.57M327.57 142.31L331.10 145.84M327.57 145.84L331.10 142.31" stroke="#ff00ff" stroke-width="0.6" fill="none"/>
<path d="M330.20 118.03H335.20M332.70 115.53V120.53M330.93 116.26L334.47 119.80M330.93 119.80L334.47 116.26" stroke="#ff00ff" stroke-width="0.6" fill="none"/>
<path d="M333.74 131.57H338.74M336.24 129.07V134.07M334.47 129.81L338.01 133.34M334.47 133.34L338.01 129.81" stroke="#ff00ff" stroke-width="0.6" fill="none"/>
<path d="M337.14 114.63L339.69 118.13L337.14 121.63L334.59 118.13Z" stroke="#0000ff" stroke-width="0.65" fill="none"/>
<path d="M324.69 125.29L327.24 128.79L324.69 132.29L322.14 128.79Z" stroke="#0000ff" stroke-width="0.65" fill="none"/>
<path d="M322.67 122.71L325.22 126.21L322.67 129.71L320.12 126.21Z" stroke="#0000ff" stroke-width="0.65" fill="none"/>
<path d="M339.57 128.79L342.12 132.29L339.57 135.79L337.02 132.29Z" stroke="#0000ff" stroke-width="0.65" fill="none"/>
<path d="M341.73 134.73L344.68 139.93H338.78Z" stroke="#262626" stroke-width="0.65" fill="none" stroke-linejoin="miter"/>
<circle cx="333.69" cy="126.81" r="2.85" stroke="#3aa52a" stroke-width="0.55" fill="none"/>
<path d="M323.73 137.55H329.23M326.48 134.80V140.30" stroke="#ff0000" stroke-width="0.55" fill="none"/>
<path d="M323.31 137.95L326.26 143.15H320.36Z" stroke="#262626" stroke-width="0.65" fill="none" stroke-linejoin="miter"/>
<circle cx="340.82" cy="137.81" r="2.85" stroke="#3aa52a" stroke-width="0.55" fill="none"/>
<path d="M326.18 129.54L329.13 134.74H323.23Z" stroke="#262626" stroke-width="0.65" fill="none" stroke-linejoin="miter"/>
<path d="M344.55 139.73H349.55M347.05 137.23V142.23M345.28 137.96L348.82 141.49M345.28 141.49L348.82 137.96" stroke="#ff00ff" stroke-width="0.6" fill="none"/>
<path d="M339.52 139.51L342.47 144.71H336.57Z" stroke="#262626" stroke-width="0.65" fill="none" stroke-linejoin="miter"/>
<path d="M342.80 121.61L345.75 126.81H339.85Z" stroke="#262626" stroke-width="0.65" fill="none" stroke-linejoin="miter"/>
<path d="M325.99 124.24L328.54 127.74L325.99 131.24L323.44 127.74Z" stroke="#0000ff" stroke-width="0.65" fill="none"/>
<path d="M347.07 129.58L349.62 133.08L347.07 136.58L344.52 133.08Z" stroke="#0000ff" stroke-width="0.65" fill="none"/>
<path d="M338.29 136.38H343.29M340.79 133.88V138.88M339.02 134.61L342.55 138.15M339.02 138.15L342.55 134.61" stroke="#ff00ff" stroke-width="0.6" fill="none"/>
<path d="M319.60 139.54H324.60M322.10 137.04V142.04M320.33 137.77L323.87 141.31M320.33 141.31L323.87 137.77" stroke="#ff00ff" stroke-width="0.6" fill="none"/>
<path d="M337.09 129.85L340.04 135.05H334.14Z" stroke="#262626" stroke-width="0.65" fill="none" stroke-linejoin="miter"/>
<circle cx="354.18" cy="170.79" r="2.85" stroke="#3aa52a" stroke-width="0.55" fill="none"/>
<path d="M351.96 154.29H356.96M354.46 151.79V156.79M352.69 152.53L356.22 156.06M352.69 156.06L356.22 152.53" stroke="#ff00ff" stroke-width="0.6" fill="none"/>
<circle cx="358.77" cy="170.89" r="2.85" stroke="#3aa52a" stroke-width="0.55" fill="none"/>
<path d="M365.55 158.39H371.05M368.30 155.64V161.14" stroke="#ff0000" stroke-width="0.55" fill="none"/>
<path d="M374.56 169.24L377.51 174.44H371.61Z" stroke="#262626" stroke-width="0.65" fill="none" stroke-linejoin="miter"/>
<path d="M373.21 145.11L376.16 150.31H370.26Z" stroke="#262626" stroke-width="0.65" fill="none" stroke-linejoin="miter"/>
<path d="M360.38 167.51L362.93 171.01L360.38 174.51L357.83 171.01Z" stroke="#0000ff" stroke-width="0.65" fill="none"/>
<path d="M368.24 145.44H373.24M370.74 142.94V147.94M368.97 143.67L372.50 147.20M368.97 147.20L372.50 143.67" stroke="#ff00ff" stroke-width="0.6" fill="none"/>
<path d="M360.87 165.02L363.42 168.52L360.87 172.02L358.32 168.52Z" stroke="#0000ff" stroke-width="0.65" fill="none"/>
<circle cx="374.30" cy="155.18" r="2.85" stroke="#3aa52a" stroke-width="0.55" fill="none"/>
<path d="M367.33 158.72L370.28 163.92H364.38Z" stroke="#262626" stroke-width="0.65" fill="none" stroke-linejoin="miter"/>
<path d="M381.49 148.47L384.04 151.97L381.49 155.47L378.94 151.97Z" stroke="#0000ff" stroke-width="0.65" fill="none"/>
<path d="M380.15 145.61H385.65M382.90 142.86V148.36" stroke="#ff0000" stroke-width="0.55" fill="none"/>
<path d="M379.06 176.28L382.01 181.48H376.11Z" stroke="#262626" stroke-width="0.65" fill="none" stroke-linejoin="miter"/>
<path d="M360.87 149.74L363.82 154.94H357.92Z" stroke="#262626" stroke-width="0.65" fill="none" stroke-linejoin="miter"/>
<path d="M356.20 165.35H361.70M358.95 162.60V168.10" stroke="#ff0000" stroke-width="0.55" fill="none"/>
<path d="M369.29 174.85L371.84 178.35L369.29 181.85L366.74 178.35Z" stroke="#0000ff" stroke-width="0.65" fill="none"/>
<path d="M379.07 159.31L381.62 162.81L379.07 166.31L376.52 162.81Z" stroke="#0000ff" stroke-width="0.65" fill="none"/>
<path d="M372.46 153.10H377.96M375.21 150.35V155.85" stroke="#ff0000" stroke-width="0.55" fill="none"/>
<path d="M365.29 145.87H370.79M368.04 143.12V148.62" stroke="#ff0000" stroke-width="0.55" fill="none"/>
<path d="M368.23 157.28L370.78 160.78L368.23 164.28L365.68 160.78Z" stroke="#0000ff" stroke-width="0.65" fill="none"/>
<path d="M354.14 157.04H359.14M356.64 154.54V159.54M354.88 155.27L358.41 158.81M354.88 158.81L358.41 155.27" stroke="#ff00ff" stroke-width="0.6" fill="none"/>
<path d="M377.23 145.06H382.23M379.73 142.56V147.56M377.96 143.29L381.50 146.83M377.96 146.83L381.50 143.29" stroke="#ff00ff" stroke-width="0.6" fill="none"/>
<circle cx="379.69" cy="149.20" r="2.85" stroke="#3aa52a" stroke-width="0.55" fill="none"/>
<path d="M372.78 176.55H378.28M375.53 173.80V179.30" stroke="#ff0000" stroke-width="0.55" fill="none"/>
<path d="M361.78 158.75H366.78M364.28 156.25V161.25M362.52 156.98L366.05 160.52M362.52 160.52L366.05 156.98" stroke="#ff00ff" stroke-width="0.6" fill="none"/>
<path d="M368.69 157.62H374.19M371.44 154.87V160.37" stroke="#ff0000" stroke-width="0.55" fill="none"/>
<path d="M361.08 144.09L364.03 149.29H358.13Z" stroke="#262626" stroke-width="0.65" fill="none" stroke-linejoin="miter"/>
<path d="M379.54 151.50L382.09 155.00L379.54 158.50L376.99 155.00Z" stroke="#0000ff" stroke-width="0.65" fill="none"/>
<path d="M357.48 154.30H362.98M360.23 151.55V157.05" stroke="#ff0000" stroke-width="0.55" fill="none"/>
<path d="M358.27 155.47L361.22 160.67H355.32Z" stroke="#262626" stroke-width="0.65" fill="none" stroke-linejoin="miter"/>
<path d="M378.43 173.42H383.93M381.18 170.67V176.17" stroke="#ff0000" stroke-width="0.55" fill="none"/>
<path d="M382.14 175.32L385.09 180.52H379.19Z" stroke="#262626" stroke-width="0.65" fill="none" stroke-linejoin="miter"/>
<path d="M375.75 144.13L378.70 149.33H372.80Z" stroke="#262626" stroke-width="0.65" fill="none" stroke-linejoin="miter"/>
<circle cx="366.88" cy="171.34" r="2.85" stroke="#3aa52a" stroke-width="0.55" fill="none"/>
<path d="M361.44 144.11L364.39 149.31H358.49Z" stroke="#262626" stroke-width="0.65" fill="none" stroke-linejoin="miter"/>
<path d="M353.45 161.53H358.95M356.20 158.78V164.28" stroke="#ff0000" stroke-width="0.55" fill="none"/>
<path d="M359.33 170.87H364.33M361.83 168.37V173.37M360.06 169.10L363.59 172.63M360.06 172.63L363.59 169.10" stroke="#ff00ff" stroke-width="0.6" fill="none"/>
<path d="M357.84 167.96H363.34M360.59 165.21V170.71" stroke="#ff0000" stroke-width="0.55" fill="none"/>
<path d="M367.89 158.80H372.89M370.39 156.30V161.30M368.62 157.04L372.16 160.57M368.62 160.57L372.16 157.04" stroke="#ff00ff" stroke-width="0.6" fill="none"/>
<path d="M357.33 148.78L359.88 152.28L357.33 155.78L354.78 152.28Z" stroke="#0000ff" stroke-width="0.65" fill="none"/>
<path d="M365.65 152.70H371.15M368.40 149.95V155.45" stroke="#ff0000" stroke-width="0.55" fill="none"/>
<path d="M382.13 160.75H387.63M384.88 158.00V163.50" stroke="#ff0000" stroke-width="0.55" fill="none"/>
<path d="M358.35 144.68L360.90 148.18L358.35 151.68L355.80 148.18Z" stroke="#0000ff" stroke-width="0.65" fill="none"/>
<path d="M352.51 153.37H357.51M355.01 150.87V155.87M353.24 151.60L356.77 155.14M353.24 155.14L356.77 151.60" stroke="#ff00ff" stroke-width="0.6" fill="none"/>
<path d="M368.30 176.05H373.30M370.80 173.55V178.55M369.03 174.29L372.57 177.82M369.03 177.82L372.57 174.29" stroke="#ff00ff" stroke-width="0.6" fill="none"/>
<circle cx="365.62" cy="159.49" r="2.85" stroke="#3aa52a" stroke-width="0.55" fill="none"/>
<path d="M364.44 154.24L367.39 159.44H361.49Z" stroke="#262626" stroke-width="0.65" fill="none" stroke-linejoin="miter"/>
<path d="M361.16 175.37L363.71 178.87L361.16 182.37L358.61 178.87Z" stroke="#0000ff" stroke-width="0.65" fill="none"/>
<path d="M368.61 163.54L371.16 167.04L368.61 170.54L366.06 167.04Z" stroke="#0000ff" stroke-width="0.65" fill="none"/>
<path d="M356.38 154.49H361.88M359.13 151.74V157.24" stroke="#ff0000" stroke-width="0.55" fill="none"/>
<path d="M362.69 160.61H367.69M365.19 158.11V163.11M363.42 158.84L366.96 162.37M363.42 162.37L366.96 158.84" stroke="#ff00ff" stroke-width="0.6" fill="none"/>
<path d="M377.26 175.55H382.76M380.01 172.80V178.30" stroke="#ff0000" stroke-width="0.55" fill="none"/>
<path d="M353.06 166.33L355.61 169.83L353.06 173.33L350.51 169.83Z" stroke="#0000ff" stroke-width="0.65" fill="none"/>
<path d="M364.87 165.55H370.37M367.62 162.80V168.30" stroke="#ff0000" stroke-width="0.55" fill="none"/>
<path d="M364.92 173.94L367.47 177.44L364.92 180.94L362.37 177.44Z" stroke="#0000ff" stroke-width="0.65" fill="none"/>
<path d="M377.48 179.03H382.98M380.23 176.28V181.78" stroke="#ff0000" stroke-width="0.55" fill="none"/>
<path d="M353.10 150.40H358.10M355.60 147.90V152.90M353.83 148.64L357.37 152.17M353.83 152.17L357.37 148.64" stroke="#ff00ff" stroke-width="0.6" fill="none"/>
<path d="M374.51 175.35L377.46 180.55H371.56Z" stroke="#262626" stroke-width="0.65" fill="none" stroke-linejoin="miter"/>
<circle cx="373.36" cy="171.77" r="2.85" stroke="#3aa52a" stroke-width="0.55" fill="none"/>
<path d="M370.20 143.78L373.15 148.98H367.25Z" stroke="#262626" stroke-width="0.65" fill="none" stroke-linejoin="miter"/>
<circle cx="359.68" cy="177.20" r="2.85" stroke="#3aa52a" stroke-width="0.55" fill="none"/>
<path d="M362.02 146.88L364.97 152.08H359.07Z" stroke="#262626" stroke-width="0.65" fill="none" stroke-linejoin="miter"/>
<path d="M370.50 169.45H375.50M373.00 166.95V171.95M371.23 167.68L374.77 171.22M371.23 171.22L374.77 167.68" stroke="#ff00ff" stroke-width="0.6" fill="none"/>
<path d="M354.32 159.86L356.87 163.36L354.32 166.86L351.77 163.36Z" stroke="#0000ff" stroke-width="0.65" fill="none"/>
<path d="M364.81 150.23L367.76 155.43H361.86Z" stroke="#262626" stroke-width="0.65" fill="none" stroke-linejoin="miter"/>
<path d="M352.35 152.95L355.30 158.15H349.40Z" stroke="#262626" stroke-width="0.65" fill="none" stroke-linejoin="miter"/>
<path d="M383.65 164.96L386.60 170.16H380.70Z" stroke="#262626" stroke-width="0.65" fill="none" stroke-linejoin="miter"/>
<path d="M364.94 153.22H370.44M367.69 150.47V155.97" stroke="#ff0000" stroke-width="0.55" fill="none"/>
<path d="M381.20 169.66H386.20M383.70 167.16V172.16M381.93 167.90L385.47 171.43M381.93 171.43L385.47 167.90" stroke="#ff00ff" stroke-width="0.6" fill="none"/>
<path d="M350.22 162.44H355.22M352.72 159.94V164.94M350.95 160.67L354.49 164.21M350.95 164.21L354.49 160.67" stroke="#ff00ff" stroke-width="0.6" fill="none"/>
<circle cx="365.86" cy="154.00" r="2.85" stroke="#3aa52a" stroke-width="0.55" fill="none"/>
<circle cx="382.53" cy="152.94" r="2.85" stroke="#3aa52a" stroke-width="0.55" fill="none"/>
<path d="M363.16 156.22L365.71 159.72L363.16 163.22L360.61 159.72Z" stroke="#0000ff" stroke-width="0.65" fill="none"/>
<circle cx="358.54" cy="172.90" r="2.85" stroke="#3aa52a" stroke-width="0.55" fill="none"/>
<circle cx="368.66" cy="152.18" r="2.85" stroke="#3aa52a" stroke-width="0.55" fill="none"/>
<path d="M359.54 173.70H365.04M362.29 170.95V176.45" stroke="#ff0000" stroke-width="0.55" fill="none"/>
<path d="M356.81 171.62H361.81M359.31 169.12V174.12M357.54 169.85L361.08 173.38M357.54 173.38L361.08 169.85" stroke="#ff00ff" stroke-width="0.6" fill="none"/>
<path d="M380.91 162.35H385.91M383.41 159.85V164.85M381.65 160.58L385.18 164.12M381.65 164.12L385.18 160.58" stroke="#ff00ff" stroke-width="0.6" fill="none"/>
<path d="M359.37 156.10L361.92 159.60L359.37 163.10L356.82 159.60Z" stroke="#0000ff" stroke-width="0.65" fill="none"/>
<path d="M361.13 119.35L364.08 124.55H358.18Z" stroke="#262626" stroke-width="0.65" fill="none" stroke-linejoin="miter"/>
<path d="M346.12 144.30H351.12M348.62 141.80V146.80M346.85 142.53L350.39 146.07M346.85 146.07L350.39 142.53" stroke="#ff00ff" stroke-width="0.6" fill="none"/>
<path d="M345.88 116.12L348.43 119.62L345.88 123.12L343.33 119.62Z" stroke="#0000ff" stroke-width="0.65" fill="none"/>
<path d="M357.77 141.86H362.77M360.27 139.36V144.36M358.50 140.09L362.04 143.62M358.50 143.62L362.04 140.09" stroke="#ff00ff" stroke-width="0.6" fill="none"/>
<path d="M361.96 140.55L364.91 145.75H359.01Z" stroke="#262626" stroke-width="0.65" fill="none" stroke-linejoin="miter"/>
<path d="M345.65 143.27H350.65M348.15 140.77V145.77M346.39 141.50L349.92 145.04M346.39 145.04L349.92 141.50" stroke="#ff00ff" stroke-width="0.6" fill="none"/>
<path d="M345.54 133.34L348.49 138.54H342.59Z" stroke="#262626" stroke-width="0.65" fill="none" stroke-linejoin="miter"/>
<path d="M348.86 126.96H353.86M351.36 124.46V129.46M349.59 125.19L353.12 128.72M349.59 128.72L353.12 125.19" stroke="#ff00ff" stroke-width="0.6" fill="none"/>
<path d="M345.05 122.05L347.60 125.55L345.05 129.05L342.50 125.55Z" stroke="#0000ff" stroke-width="0.65" fill="none"/>
<path d="M358.74 121.34H363.74M361.24 118.84V123.84M359.48 119.57L363.01 123.11M359.48 123.11L363.01 119.57" stroke="#ff00ff" stroke-width="0.6" fill="none"/>
<path d="M345.78 127.63H351.28M348.53 124.88V130.38" stroke="#ff0000" stroke-width="0.55" fill="none"/>
<circle cx="358.97" cy="129.68" r="2.85" stroke="#3aa52a" stroke-width="0.55" fill="none"/>
<path d="M353.05 124.56L355.60 128.06L353.05 131.56L350.50 128.06Z" stroke="#0000ff" stroke-width="0.65" fill="none"/>
<circle cx="348.28" cy="127.83" r="2.85" stroke="#3aa52a" stroke-width="0.55" fill="none"/>
<circle cx="345.51" cy="129.09" r="2.85" stroke="#3aa52a" stroke-width="0.55" fill="none"/>
<path d="M358.03 116.50L360.98 121.70H355.08Z" stroke="#262626" stroke-width="0.65" fill="none" stroke-linejoin="miter"/>
<path d="M346.06 139.34L348.61 142.84L346.06 146.34L343.51 142.84Z" stroke="#0000ff" stroke-width="0.65" fill="none"/>
<path d="M357.70 138.76L360.25 142.26L357.70 145.76L355.15 142.26Z" stroke="#0000ff" stroke-width="0.65" fill="none"/>
<path d="M347.13 143.86H352.13M349.63 141.36V146.36M347.86 142.09L351.40 145.63M347.86 145.63L351.40 142.09" stroke="#ff00ff" stroke-width="0.6" fill="none"/>
<path d="M349.46 134.75L352.41 139.95H346.51Z" stroke="#262626" stroke-width="0.65" fill="none" stroke-linejoin="miter"/>
<path d="M333.56 145.08H338.56M336.06 142.58V147.58M334.30 143.31L337.83 146.84M334.30 146.84L337.83 143.31" stroke="#ff00ff" stroke-width="0.6" fill="none"/>
<path d="M350.16 155.08L353.11 160.28H347.21Z" stroke="#262626" stroke-width="0.65" fill="none" stroke-linejoin="miter"/>
<path d="M327.78 149.68H333.28M330.53 146.93V152.43" stroke="#ff0000" stroke-width="0.55" fill="none"/>
<path d="M351.05 161.48L354.00 166.68H348.10Z" stroke="#262626" stroke-width="0.65" fill="none" stroke-linejoin="miter"/>
<path d="M333.02 153.60H338.02M335.52 151.10V156.10M333.76 151.83L337.29 155.37M333.76 155.37L337.29 151.83" stroke="#ff00ff" stroke-width="0.6" fill="none"/>
<path d="M350.42 146.06L353.37 151.26H347.47Z" stroke="#262626" stroke-width="0.65" fill="none" stroke-linejoin="miter"/>
<path d="M346.25 158.86L349.20 164.06H343.30Z" stroke="#262626" stroke-width="0.65" fill="none" stroke-linejoin="miter"/>
<path d="M343.36 148.96L346.31 154.16H340.41Z" stroke="#262626" stroke-width="0.65" fill="none" stroke-linejoin="miter"/>
<path d="M335.46 160.64H340.46M337.96 158.14V163.14M336.19 158.88L339.73 162.41M336.19 162.41L339.73 158.88" stroke="#ff00ff" stroke-width="0.6" fill="none"/>
<path d="M334.34 156.56L336.89 160.06L334.34 163.56L331.79 160.06Z" stroke="#0000ff" stroke-width="0.65" fill="none"/>
<path d="M331.42 142.18L333.97 145.68L331.42 149.18L328.87 145.68Z" stroke="#0000ff" stroke-width="0.65" fill="none"/>
<path d="M337.17 162.01L340.12 167.21H334.22Z" stroke="#262626" stroke-width="0.65" fill="none" stroke-linejoin="miter"/>
<circle cx="351.73" cy="150.30" r="2.85" stroke="#3aa52a" stroke-width="0.55" fill="none"/>
<path d="M332.12 151.47L334.67 154.97L332.12 158.47L329.57 154.97Z" stroke="#0000ff" stroke-width="0.65" fill="none"/>
<path d="M339.83 147.08L342.78 152.28H336.88Z" stroke="#262626" stroke-width="0.65" fill="none" stroke-linejoin="miter"/>
<path d="M341.15 158.48H346.15M343.65 155.98V160.98M341.88 156.71L345.41 160.25M341.88 160.25L345.41 156.71" stroke="#ff00ff" stroke-width="0.6" fill="none"/>
<path d="M348.63 155.69L351.58 160.89H345.68Z" stroke="#262626" stroke-width="0.65" fill="none" stroke-linejoin="miter"/>
<path d="M348.50 147.38L351.05 150.88L348.50 154.38L345.95 150.88Z" stroke="#0000ff" stroke-width="0.65" fill="none"/>
<path d="M338.21 157.16L341.16 162.36H335.26Z" stroke="#262626" stroke-width="0.65" fill="none" stroke-linejoin="miter"/>
<path d="M335.44 146.41L337.99 149.91L335.44 153.41L332.89 149.91Z" stroke="#0000ff" stroke-width="0.65" fill="none"/>
<path d="M392.10 173.85L394.65 177.35L392.10 180.85L389.55 177.35Z" stroke="#0000ff" stroke-width="0.65" fill="none"/>
<path d="M377.40 189.77H382.40M379.90 187.27V192.27M378.13 188.01L381.67 191.54M378.13 191.54L381.67 188.01" stroke="#ff00ff" stroke-width="0.6" fill="none"/>
<path d="M375.78 181.65L378.73 186.85H372.83Z" stroke="#262626" stroke-width="0.65" fill="none" stroke-linejoin="miter"/>
<circle cx="394.77" cy="163.07" r="2.85" stroke="#3aa52a" stroke-width="0.55" fill="none"/>
<path d="M390.48 182.62L393.43 187.82H387.53Z" stroke="#262626" stroke-width="0.65" fill="none" stroke-linejoin="miter"/>
<path d="M368.26 168.81H373.76M371.01 166.06V171.56" stroke="#ff0000" stroke-width="0.55" fill="none"/>
<path d="M374.74 185.69L377.29 189.19L374.74 192.69L372.19 189.19Z" stroke="#0000ff" stroke-width="0.65" fill="none"/>
<path d="M393.25 168.57L396.20 173.77H390.30Z" stroke="#262626" stroke-width="0.65" fill="none" stroke-linejoin="miter"/>
<path d="M378.48 167.80H383.98M381.23 165.05V170.55" stroke="#ff0000" stroke-width="0.55" fill="none"/>
<circle cx="393.64" cy="163.17" r="2.85" stroke="#3aa52a" stroke-width="0.55" fill="none"/>
<path d="M385.50 163.93L388.45 169.13H382.55Z" stroke="#262626" stroke-width="0.65" fill="none" stroke-linejoin="miter"/>
<path d="M371.03 166.12H376.03M373.53 163.62V168.62M371.77 164.35L375.30 167.89M371.77 167.89L375.30 164.35" stroke="#ff00ff" stroke-width="0.6" fill="none"/>
<path d="M382.49 179.55H387.49M384.99 177.05V182.05M383.22 177.78L386.75 181.32M383.22 181.32L386.75 177.78" stroke="#ff00ff" stroke-width="0.6" fill="none"/>
<path d="M370.28 166.32L372.83 169.82L370.28 173.32L367.73 169.82Z" stroke="#0000ff" stroke-width="0.65" fill="none"/>
<circle cx="374.63" cy="169.37" r="2.85" stroke="#3aa52a" stroke-width="0.55" fill="none"/>
<path d="M382.38 169.52L384.93 173.02L382.38 176.52L379.83 173.02Z" stroke="#0000ff" stroke-width="0.65" fill="none"/>
<path d="M349.77 163.10L352.32 166.60L349.77 170.10L347.22 166.60Z" stroke="#0000ff" stroke-width="0.65" fill="none"/>
<path d="M375.04 151.23L377.99 156.43H372.09Z" stroke="#262626" stroke-width="0.65" fill="none" stroke-linejoin="miter"/>
<path d="M377.68 163.71L380.23 167.21L377.68 170.71L375.13 167.21Z" stroke="#0000ff" stroke-width="0.65" fill="none"/>
<path d="M356.96 190.03H361.96M359.46 187.53V192.53M357.69 188.27L361.22 191.80M357.69 191.80L361.22 188.27" stroke="#ff00ff" stroke-width="0.6" fill="none"/>
<path d="M369.13 165.00H374.13M371.63 162.50V167.50M369.86 163.23L373.39 166.77M369.86 166.77L373.39 163.23" stroke="#ff00ff" stroke-width="0.6" fill="none"/>
<path d="M385.62 189.26L388.57 194.46H382.67Z" stroke="#262626" stroke-width="0.65" fill="none" stroke-linejoin="miter"/>
<path d="M351.77 180.58H356.77M354.27 178.08V183.08M352.50 178.81L356.04 182.35M352.50 182.35L356.04 178.81" stroke="#ff00ff" stroke-width="0.6" fill="none"/>
<path d="M345.28 184.37L347.83 187.87L345.28 191.37L342.73 187.87Z" stroke="#0000ff" stroke-width="0.65" fill="none"/>
<path d="M383.56 164.46L386.51 169.66H380.61Z" stroke="#262626" stroke-width="0.65" fill="none" stroke-linejoin="miter"/>
<path d="M363.91 156.83H369.41M366.66 154.08V159.58" stroke="#ff0000" stroke-width="0.55" fill="none"/>
<path d="M370.92 173.41L373.47 176.91L370.92 180.41L368.37 176.91Z" stroke="#0000ff" stroke-width="0.65" fill="none"/>
<path d="M346.43 176.13H351.93M349.18 173.38V178.88" stroke="#ff0000" stroke-width="0.55" fill="none"/>
<path d="M366.21 156.13H371.21M368.71 153.63V158.63M366.94 154.36L370.48 157.89M366.94 157.89L370.48 154.36" stroke="#ff00ff" stroke-width="0.6" fill="none"/>
<path d="M366.99 188.87H371.99M369.49 186.37V191.37M367.73 187.10L371.26 190.64M367.73 190.64L371.26 187.10" stroke="#ff00ff" stroke-width="0.6" fill="none"/>
<path d="M368.05 180.30L370.60 183.80L368.05 187.30L365.50 183.80Z" stroke="#0000ff" stroke-width="0.65" fill="none"/>
<path d="M351.53 155.32H357.03M354.28 152.57V158.07" stroke="#ff0000" stroke-width="0.55" fill="none"/>
<path d="M388.10 170.27H393.60M390.85 167.52V173.02" stroke="#ff0000" stroke-width="0.55" fill="none"/>
<path d="M388.53 162.79L391.08 166.29L388.53 169.79L385.98 166.29Z" stroke="#0000ff" stroke-width="0.65" fill="none"/>
<path d="M371.41 184.63H376.91M374.16 181.88V187.38" stroke="#ff0000" stroke-width="0.55" fill="none"/>
<path d="M381.93 155.83L384.48 159.33L381.93 162.83L379.38 159.33Z" stroke="#0000ff" stroke-width="0.65" fill="none"/>
<path d="M384.78 182.23L387.73 187.43H381.83Z" stroke="#262626" stroke-width="0.65" fill="none" stroke-linejoin="miter"/>
<path d="M355.25 163.29L357.80 166.79L355.25 170.29L352.70 166.79Z" stroke="#0000ff" stroke-width="0.65" fill="none"/>
<path d="M363.03 152.57L365.98 157.77H360.08Z" stroke="#262626" stroke-width="0.65" fill="none" stroke-linejoin="miter"/>
<path d="M376.57 187.69H381.57M379.07 185.19V190.19M377.30 185.92L380.84 189.45M377.30 189.45L380.84 185.92" stroke="#ff00ff" stroke-width="0.6" fill="none"/>
<path d="M371.43 178.31L373.98 181.81L371.43 185.31L368.88 181.81Z" stroke="#0000ff" stroke-width="0.65" fill="none"/>
<path d="M384.40 151.44L386.95 154.94L384.40 158.44L381.85 154.94Z" stroke="#0000ff" stroke-width="0.65" fill="none"/>
<path d="M370.85 173.74L373.80 178.94H367.90Z" stroke="#262626" stroke-width="0.65" fill="none" stroke-linejoin="miter"/>
<path d="M362.24 174.47H367.24M364.74 171.97V176.97M362.98 172.70L366.51 176.24M362.98 176.24L366.51 172.70" stroke="#ff00ff" stroke-width="0.6" fill="none"/>
<path d="M375.97 166.17L378.92 171.37H373.02Z" stroke="#262626" stroke-width="0.65" fill="none" stroke-linejoin="miter"/>
<path d="M346.10 173.39L349.05 178.59H343.15Z" stroke="#262626" stroke-width="0.65" fill="none" stroke-linejoin="miter"/>
<path d="M356.06 179.47L359.01 184.67H353.11Z" stroke="#262626" stroke-width="0.65" fill="none" stroke-linejoin="miter"/>
<circle cx="366.54" cy="157.54" r="2.85" stroke="#3aa52a" stroke-width="0.55" fill="none"/>
<path d="M350.03 152.80L352.98 158.00H347.08Z" stroke="#262626" stroke-width="0.65" fill="none" stroke-linejoin="miter"/>
<path d="M349.31 165.96L352.26 171.16H346.36Z" stroke="#262626" stroke-width="0.65" fill="none" stroke-linejoin="miter"/>
<path d="M346.92 174.13L349.87 179.33H343.97Z" stroke="#262626" stroke-width="0.65" fill="none" stroke-linejoin="miter"/>
<path d="M379.47 179.16L382.02 182.66L379.47 186.16L376.92 182.66Z" stroke="#0000ff" stroke-width="0.65" fill="none"/>
<path d="M347.55 168.56L350.50 173.76H344.60Z" stroke="#262626" stroke-width="0.65" fill="none" stroke-linejoin="miter"/>
<path d="M387.19 155.72H392.19M389.69 153.22V158.22M387.92 153.95L391.46 157.49M387.92 157.49L391.46 153.95" stroke="#ff00ff" stroke-width="0.6" fill="none"/>
<path d="M389.07 180.75H394.57M391.82 178.00V183.50" stroke="#ff0000" stroke-width="0.55" fill="none"/>
<circle cx="354.10" cy="191.23" r="2.85" stroke="#3aa52a" stroke-width="0.55" fill="none"/>
<path d="M389.96 185.87L392.91 191.07H387.01Z" stroke="#262626" stroke-width="0.65" fill="none" stroke-linejoin="miter"/>
<path d="M382.05 185.58L384.60 189.08L382.05 192.58L379.50 189.08Z" stroke="#0000ff" stroke-width="0.65" fill="none"/>
<path d="M361.49 178.26L364.04 181.76L361.49 185.26L358.94 181.76Z" stroke="#0000ff" stroke-width="0.65" fill="none"/>
<path d="M387.14 158.05L389.69 161.55L387.14 165.05L384.59 161.55Z" stroke="#0000ff" stroke-width="0.65" fill="none"/>
<path d="M328.17 110.00L331.12 115.20H325.22Z" stroke="#262626" stroke-width="0.65" fill="none" stroke-linejoin="miter"/>
<circle cx="330.96" cy="101.83" r="2.85" stroke="#3aa52a" stroke-width="0.55" fill="none"/>
<path d="M335.72 89.06L338.67 94.26H332.77Z" stroke="#262626" stroke-width="0.65" fill="none" stroke-linejoin="miter"/>
<path d="M328.93 128.64L331.48 132.14L328.93 135.64L326.38 132.14Z" stroke="#0000ff" stroke-width="0.65" fill="none"/>
<path d="M360.50 94.99L363.45 100.19H357.55Z" stroke="#262626" stroke-width="0.65" fill="none" stroke-linejoin="miter"/>
<path d="M326.95 111.28L329.90 116.48H324.00Z" stroke="#262626" stroke-width="0.65" fill="none" stroke-linejoin="miter"/>
<path d="M337.47 126.68L340.42 131.88H334.52Z" stroke="#262626" stroke-width="0.65" fill="none" stroke-linejoin="miter"/>
<path d="M346.94 127.11L349.89 132.31H343.99Z" stroke="#262626" stroke-width="0.65" fill="none" stroke-linejoin="miter"/>
<path d="M364.70 114.84L367.25 118.34L364.70 121.84L362.15 118.34Z" stroke="#0000ff" stroke-width="0.65" fill="none"/>
<path d="M353.80 101.91H358.80M356.30 99.41V104.41M354.53 100.15L358.07 103.68M354.53 103.68L358.07 100.15" stroke="#ff00ff" stroke-width="0.6" fill="none"/>
<path d="M344.08 106.21H349.58M346.83 103.46V108.96" stroke="#ff0000" stroke-width="0.55" fill="none"/>
<path d="M341.02 95.35L343.97 100.55H338.07Z" stroke="#262626" stroke-width="0.65" fill="none" stroke-linejoin="miter"/>
<path d="M324.08 124.29L327.03 129.49H321.13Z" stroke="#262626" stroke-width="0.65" fill="none" stroke-linejoin="miter"/>
<path d="M349.49 130.78L352.04 134.28L349.49 137.78L346.94 134.28Z" stroke="#0000ff" stroke-width="0.65" fill="none"/>
<path d="M350.54 101.47L353.49 106.67H347.59Z" stroke="#262626" stroke-width="0.65" fill="none" stroke-linejoin="miter"/>
<path d="M323.45 93.22L326.00 96.72L323.45 100.22L320.90 96.72Z" stroke="#0000ff" stroke-width="0.65" fill="none"/>
<path d="M340.59 110.47L343.54 115.67H337.64Z" stroke="#262626" stroke-width="0.65" fill="none" stroke-linejoin="miter"/>
<circle cx="327.68" cy="100.23" r="2.85" stroke="#3aa52a" stroke-width="0.55" fill="none"/>
<path d="M322.96 87.52L325.91 92.72H320.01Z" stroke="#262626" stroke-width="0.65" fill="none" stroke-linejoin="miter"/>
<path d="M324.07 106.07H329.07M326.57 103.57V108.57M324.81 104.30L328.34 107.84M324.81 107.84L328.34 104.30" stroke="#ff00ff" stroke-width="0.6" fill="none"/>
<path d="M347.09 113.01L349.64 116.51L347.09 120.01L344.54 116.51Z" stroke="#0000ff" stroke-width="0.65" fill="none"/>
<path d="M348.83 107.87L351.38 111.37L348.83 114.87L346.28 111.37Z" stroke="#0000ff" stroke-width="0.65" fill="none"/>
<path d="M362.27 97.46L364.82 100.96L362.27 104.46L359.72 100.96Z" stroke="#0000ff" stroke-width="0.65" fill="none"/>
<path d="M326.12 115.22L328.67 118.72L326.12 122.22L323.57 118.72Z" stroke="#0000ff" stroke-width="0.65" fill="none"/>
<circle cx="355.63" cy="108.09" r="2.85" stroke="#3aa52a" stroke-width="0.55" fill="none"/>
<path d="M322.49 115.52L325.04 119.02L322.49 122.52L319.94 119.02Z" stroke="#0000ff" stroke-width="0.65" fill="none"/>
<path d="M337.06 116.45L340.01 121.65H334.11Z" stroke="#262626" stroke-width="0.65" fill="none" stroke-linejoin="miter"/>
<path d="M359.80 123.01H364.80M362.30 120.51V125.51M360.53 121.24L364.07 124.78M360.53 124.78L364.07 121.24" stroke="#ff00ff" stroke-width="0.6" fill="none"/>
<path d="M360.85 88.48L363.40 91.98L360.85 95.48L358.30 91.98Z" stroke="#0000ff" stroke-width="0.65" fill="none"/>
<path d="M339.46 98.10L342.41 103.30H336.51Z" stroke="#262626" stroke-width="0.65" fill="none" stroke-linejoin="miter"/>
<path d="M590.20 30.10L592.95 34.90H587.45Z" stroke="#0000ff" stroke-width="0.65" fill="none" stroke-linejoin="miter"/>
<path d="M574.05 42.40H578.95M576.50 39.95V44.85M574.77 40.67L578.23 44.13M574.77 44.13L578.23 40.67" stroke="#ff0000" stroke-width="0.6" fill="none"/>
<circle cx="580.00" cy="44.80" r="2.65" stroke="#2ea82a" stroke-width="0.85" fill="none"/>
<circle cx="583.20" cy="54.30" r="2.65" stroke="#2ea82a" stroke-width="0.85" fill="none"/>
<path d="M574.50 57.60L577.25 62.40H571.75Z" stroke="#0000ff" stroke-width="0.65" fill="none" stroke-linejoin="miter"/>
<path d="M579.50 57.20L582.25 62.00H576.75Z" stroke="#0000ff" stroke-width="0.65" fill="none" stroke-linejoin="miter"/>
<path d="M576.75 60.70H581.65M579.20 58.25V63.15M577.47 58.97L580.93 62.43M577.47 62.43L580.93 58.97" stroke="#ff0000" stroke-width="0.6" fill="none"/>
<circle cx="561.10" cy="58.30" r="2.65" stroke="#2ea82a" stroke-width="0.85" fill="none"/>
<circle cx="565.60" cy="63.00" r="2.65" stroke="#2ea82a" stroke-width="0.85" fill="none"/>
<path d="M562.65 66.40H567.55M565.10 63.95V68.85M563.37 64.67L566.83 68.13M563.37 68.13L566.83 64.67" stroke="#ff0000" stroke-width="0.6" fill="none"/>
<circle cx="556.30" cy="68.40" r="2.65" stroke="#2ea82a" stroke-width="0.85" fill="none"/>
<path d="M568.50 65.70L571.25 70.50H565.75Z" stroke="#0000ff" stroke-width="0.65" fill="none" stroke-linejoin="miter"/>
<path d="M584.20 71.10L586.95 75.90H581.45Z" stroke="#0000ff" stroke-width="0.65" fill="none" stroke-linejoin="miter"/>
<circle cx="580.80" cy="73.00" r="2.65" stroke="#2ea82a" stroke-width="0.85" fill="none"/>
<path d="M527.95 75.80H532.85M530.40 73.35V78.25M528.67 74.07L532.13 77.53M528.67 77.53L532.13 74.07" stroke="#ff0000" stroke-width="0.6" fill="none"/>
<path d="M524.05 81.40H528.95M526.50 78.95V83.85M524.77 79.67L528.23 83.13M524.77 83.13L528.23 79.67" stroke="#ff0000" stroke-width="0.6" fill="none"/>
<circle cx="510.00" cy="88.90" r="2.65" stroke="#2ea82a" stroke-width="0.85" fill="none"/>
<circle cx="529.50" cy="92.40" r="2.65" stroke="#2ea82a" stroke-width="0.85" fill="none"/>
<circle cx="532.40" cy="89.50" r="2.65" stroke="#2ea82a" stroke-width="0.85" fill="none"/>
<path d="M547.20 61.80L549.95 66.60H544.45Z" stroke="#0000ff" stroke-width="0.65" fill="none" stroke-linejoin="miter"/>
<path d="M551.20 66.90L553.95 71.70H548.45Z" stroke="#0000ff" stroke-width="0.65" fill="none" stroke-linejoin="miter"/>
<circle cx="556.80" cy="69.60" r="2.65" stroke="#2ea82a" stroke-width="0.85" fill="none"/>
<circle cx="553.20" cy="75.10" r="2.65" stroke="#2ea82a" stroke-width="0.85" fill="none"/>
<path d="M551.75 75.10H556.65M554.20 72.65V77.55M552.47 73.37L555.93 76.83M552.47 76.83L555.93 73.37" stroke="#ff0000" stroke-width="0.6" fill="none"/>
<path d="M556.30 72.40L559.05 77.20H553.55Z" stroke="#0000ff" stroke-width="0.65" fill="none" stroke-linejoin="miter"/>
<path d="M535.65 81.20H540.55M538.10 78.75V83.65M536.37 79.47L539.83 82.93M536.37 82.93L539.83 79.47" stroke="#ff0000" stroke-width="0.6" fill="none"/>
<path d="M540.15 79.70H545.05M542.60 77.25V82.15M540.87 77.97L544.33 81.43M540.87 81.43L544.33 77.97" stroke="#ff0000" stroke-width="0.6" fill="none"/>
<path d="M542.60 80.50L545.35 85.30H539.85Z" stroke="#0000ff" stroke-width="0.65" fill="none" stroke-linejoin="miter"/>
<path d="M551.25 80.70H556.15M553.70 78.25V83.15M551.97 78.97L555.43 82.43M551.97 82.43L555.43 78.97" stroke="#ff0000" stroke-width="0.6" fill="none"/>
<path d="M555.30 78.50L558.05 83.30H552.55Z" stroke="#0000ff" stroke-width="0.65" fill="none" stroke-linejoin="miter"/>
<path d="M552.20 79.50L554.95 84.30H549.45Z" stroke="#0000ff" stroke-width="0.65" fill="none" stroke-linejoin="miter"/>
<circle cx="557.80" cy="86.20" r="2.65" stroke="#2ea82a" stroke-width="0.85" fill="none"/>
<path d="M542.75 87.80H547.65M545.20 85.35V90.25M543.47 86.07L546.93 89.53M543.47 89.53L546.93 86.07" stroke="#ff0000" stroke-width="0.6" fill="none"/>
<circle cx="533.00" cy="88.80" r="2.65" stroke="#2ea82a" stroke-width="0.85" fill="none"/>
<circle cx="544.10" cy="90.80" r="2.65" stroke="#2ea82a" stroke-width="0.85" fill="none"/>
<path d="M537.10 87.60L539.85 92.40H534.35Z" stroke="#0000ff" stroke-width="0.65" fill="none" stroke-linejoin="miter"/>
<path d="M551.75 88.80H556.65M554.20 86.35V91.25M552.47 87.07L555.93 90.53M552.47 90.53L555.93 87.07" stroke="#ff0000" stroke-width="0.6" fill="none"/>
<path d="M562.65 63.50H567.55M565.10 61.05V65.95M563.37 61.77L566.83 65.23M563.37 65.23L566.83 61.77" stroke="#ff0000" stroke-width="0.6" fill="none"/>
<circle cx="565.10" cy="68.10" r="2.65" stroke="#2ea82a" stroke-width="0.85" fill="none"/>
<path d="M563.15 68.60H568.05M565.60 66.15V71.05M563.87 66.87L567.33 70.33M563.87 70.33L567.33 66.87" stroke="#ff0000" stroke-width="0.6" fill="none"/>
<path d="M567.10 66.90L569.85 71.70H564.35Z" stroke="#0000ff" stroke-width="0.65" fill="none" stroke-linejoin="miter"/>
<circle cx="558.00" cy="69.60" r="2.65" stroke="#2ea82a" stroke-width="0.85" fill="none"/>
<path d="M558.55 70.60H563.45M561.00 68.15V73.05M559.27 68.87L562.73 72.33M559.27 72.33L562.73 68.87" stroke="#ff0000" stroke-width="0.6" fill="none"/>
<circle cx="562.10" cy="74.10" r="2.65" stroke="#2ea82a" stroke-width="0.85" fill="none"/>
<path d="M565.60 70.90L568.35 75.70H562.85Z" stroke="#0000ff" stroke-width="0.65" fill="none" stroke-linejoin="miter"/>
<path d="M568.60 70.90L571.35 75.70H565.85Z" stroke="#0000ff" stroke-width="0.65" fill="none" stroke-linejoin="miter"/>
<path d="M572.20 69.90L574.95 74.70H569.45Z" stroke="#0000ff" stroke-width="0.65" fill="none" stroke-linejoin="miter"/>
<circle cx="579.70" cy="74.10" r="2.65" stroke="#2ea82a" stroke-width="0.85" fill="none"/>
<path d="M584.50 72.90L587.25 77.70H581.75Z" stroke="#0000ff" stroke-width="0.65" fill="none" stroke-linejoin="miter"/>
<circle cx="566.10" cy="78.20" r="2.65" stroke="#2ea82a" stroke-width="0.85" fill="none"/>
<path d="M570.10 75.00L572.85 79.80H567.35Z" stroke="#0000ff" stroke-width="0.65" fill="none" stroke-linejoin="miter"/>
<circle cx="574.70" cy="78.20" r="2.65" stroke="#2ea82a" stroke-width="0.85" fill="none"/>
<path d="M569.10 77.50L571.85 82.30H566.35Z" stroke="#0000ff" stroke-width="0.65" fill="none" stroke-linejoin="miter"/>
<circle cx="579.70" cy="84.70" r="2.65" stroke="#2ea82a" stroke-width="0.85" fill="none"/>
<circle cx="583.80" cy="82.70" r="2.65" stroke="#2ea82a" stroke-width="0.85" fill="none"/>
<path d="M580.35 87.80H585.25M582.80 85.35V90.25M581.07 86.07L584.53 89.53M581.07 89.53L584.53 86.07" stroke="#ff0000" stroke-width="0.6" fill="none"/>
<path d="M558.50 81.00L561.25 85.80H555.75Z" stroke="#0000ff" stroke-width="0.65" fill="none" stroke-linejoin="miter"/>
<path d="M562.15 86.20H567.05M564.60 83.75V88.65M562.87 84.47L566.33 87.93M562.87 87.93L566.33 84.47" stroke="#ff0000" stroke-width="0.6" fill="none"/>
<path d="M563.10 81.50L565.85 86.30H560.35Z" stroke="#0000ff" stroke-width="0.65" fill="none" stroke-linejoin="miter"/>
<path d="M567.15 84.70H572.05M569.60 82.25V87.15M567.87 82.97L571.33 86.43M567.87 86.43L571.33 82.97" stroke="#ff0000" stroke-width="0.6" fill="none"/>
<path d="M567.10 81.00L569.85 85.80H564.35Z" stroke="#0000ff" stroke-width="0.65" fill="none" stroke-linejoin="miter"/>
<circle cx="572.20" cy="87.30" r="2.65" stroke="#2ea82a" stroke-width="0.85" fill="none"/>
<path d="M570.25 89.30H575.15M572.70 86.85V91.75M570.97 87.57L574.43 91.03M570.97 91.03L574.43 87.57" stroke="#ff0000" stroke-width="0.6" fill="none"/>
<path d="M560.00 84.60L562.75 89.40H557.25Z" stroke="#0000ff" stroke-width="0.65" fill="none" stroke-linejoin="miter"/>
<path d="M588.80 79.80L591.55 84.60H586.05Z" stroke="#0000ff" stroke-width="0.65" fill="none" stroke-linejoin="miter"/>
<circle cx="585.70" cy="82.50" r="2.65" stroke="#2ea82a" stroke-width="0.85" fill="none"/>
<path d="M587.00 99.30L589.75 104.10H584.25Z" stroke="#0000ff" stroke-width="0.65" fill="none" stroke-linejoin="miter"/>
<path d="M522.70 100.40L525.45 105.20H519.95Z" stroke="#0000ff" stroke-width="0.65" fill="none" stroke-linejoin="miter"/>
<path d="M522.20 109.50L524.95 114.30H519.45Z" stroke="#0000ff" stroke-width="0.65" fill="none" stroke-linejoin="miter"/>
<circle cx="526.80" cy="109.20" r="2.65" stroke="#2ea82a" stroke-width="0.85" fill="none"/>
<path d="M531.00 94.40L533.75 99.20H528.25Z" stroke="#0000ff" stroke-width="0.65" fill="none" stroke-linejoin="miter"/>
<path d="M534.10 94.40L536.85 99.20H531.35Z" stroke="#0000ff" stroke-width="0.65" fill="none" stroke-linejoin="miter"/>
<path d="M536.10 89.30L538.85 94.10H533.35Z" stroke="#0000ff" stroke-width="0.65" fill="none" stroke-linejoin="miter"/>
<circle cx="538.10" cy="94.50" r="2.65" stroke="#2ea82a" stroke-width="0.85" fill="none"/>
<path d="M537.65 97.60H542.55M540.10 95.15V100.05M538.37 95.87L541.83 99.33M538.37 99.33L541.83 95.87" stroke="#ff0000" stroke-width="0.6" fill="none"/>
<circle cx="537.10" cy="100.10" r="2.65" stroke="#2ea82a" stroke-width="0.85" fill="none"/>
<path d="M544.20 95.40L546.95 100.20H541.45Z" stroke="#0000ff" stroke-width="0.65" fill="none" stroke-linejoin="miter"/>
<circle cx="546.20" cy="96.10" r="2.65" stroke="#2ea82a" stroke-width="0.85" fill="none"/>
<path d="M546.75 92.00H551.65M549.20 89.55V94.45M547.47 90.27L550.93 93.73M547.47 93.73L550.93 90.27" stroke="#ff0000" stroke-width="0.6" fill="none"/>
<circle cx="552.30" cy="94.00" r="2.65" stroke="#2ea82a" stroke-width="0.85" fill="none"/>
<path d="M551.35 92.00H556.25M553.80 89.55V94.45M552.07 90.27L555.53 93.73M552.07 93.73L555.53 90.27" stroke="#ff0000" stroke-width="0.6" fill="none"/>
<path d="M546.20 98.40L548.95 103.20H543.45Z" stroke="#0000ff" stroke-width="0.65" fill="none" stroke-linejoin="miter"/>
<path d="M543.20 100.40L545.95 105.20H540.45Z" stroke="#0000ff" stroke-width="0.65" fill="none" stroke-linejoin="miter"/>
<path d="M551.85 103.10H556.75M554.30 100.65V105.55M552.57 101.37L556.03 104.83M552.57 104.83L556.03 101.37" stroke="#ff0000" stroke-width="0.6" fill="none"/>
<circle cx="555.30" cy="106.20" r="2.65" stroke="#2ea82a" stroke-width="0.85" fill="none"/>
<path d="M530.15 106.20H535.05M532.60 103.75V108.65M530.87 104.47L534.33 107.93M530.87 107.93L534.33 104.47" stroke="#ff0000" stroke-width="0.6" fill="none"/>
<circle cx="529.00" cy="107.70" r="2.65" stroke="#2ea82a" stroke-width="0.85" fill="none"/>
<path d="M541.60 108.50L544.35 113.30H538.85Z" stroke="#0000ff" stroke-width="0.65" fill="none" stroke-linejoin="miter"/>
<path d="M547.20 106.00L549.95 110.80H544.45Z" stroke="#0000ff" stroke-width="0.65" fill="none" stroke-linejoin="miter"/>
<path d="M544.75 111.20H549.65M547.20 108.75V113.65M545.47 109.47L548.93 112.93M545.47 112.93L548.93 109.47" stroke="#ff0000" stroke-width="0.6" fill="none"/>
<circle cx="550.20" cy="112.20" r="2.65" stroke="#2ea82a" stroke-width="0.85" fill="none"/>
<path d="M531.65 116.30H536.55M534.10 113.85V118.75M532.37 114.57L535.83 118.03M532.37 118.03L535.83 114.57" stroke="#ff0000" stroke-width="0.6" fill="none"/>
<circle cx="538.10" cy="114.20" r="2.65" stroke="#2ea82a" stroke-width="0.85" fill="none"/>
<path d="M543.20 112.60L545.95 117.40H540.45Z" stroke="#0000ff" stroke-width="0.65" fill="none" stroke-linejoin="miter"/>
<path d="M543.75 117.30H548.65M546.20 114.85V119.75M544.47 115.57L547.93 119.03M544.47 119.03L547.93 115.57" stroke="#ff0000" stroke-width="0.6" fill="none"/>
<circle cx="537.10" cy="118.30" r="2.65" stroke="#2ea82a" stroke-width="0.85" fill="none"/>
<path d="M553.30 111.50L556.05 116.30H550.55Z" stroke="#0000ff" stroke-width="0.65" fill="none" stroke-linejoin="miter"/>
<circle cx="531.00" cy="113.20" r="2.65" stroke="#2ea82a" stroke-width="0.85" fill="none"/>
<path d="M582.30 100.90L585.05 105.70H579.55Z" stroke="#0000ff" stroke-width="0.65" fill="none" stroke-linejoin="miter"/>
<circle cx="580.80" cy="114.30" r="2.65" stroke="#2ea82a" stroke-width="0.85" fill="none"/>
<circle cx="576.70" cy="106.70" r="2.65" stroke="#2ea82a" stroke-width="0.85" fill="none"/>
<circle cx="573.20" cy="93.50" r="2.65" stroke="#2ea82a" stroke-width="0.85" fill="none"/>
<path d="M568.10 89.30L570.85 94.10H565.35Z" stroke="#0000ff" stroke-width="0.65" fill="none" stroke-linejoin="miter"/>
<circle cx="558.00" cy="94.00" r="2.65" stroke="#2ea82a" stroke-width="0.85" fill="none"/>
<circle cx="564.10" cy="94.00" r="2.65" stroke="#2ea82a" stroke-width="0.85" fill="none"/>
<path d="M561.10 95.40L563.85 100.20H558.35Z" stroke="#0000ff" stroke-width="0.65" fill="none" stroke-linejoin="miter"/>
<path d="M567.10 95.40L569.85 100.20H564.35Z" stroke="#0000ff" stroke-width="0.65" fill="none" stroke-linejoin="miter"/>
<path d="M560.65 95.10H565.55M563.10 92.65V97.55M561.37 93.37L564.83 96.83M561.37 96.83L564.83 93.37" stroke="#ff0000" stroke-width="0.6" fill="none"/>
<path d="M571.20 97.40L573.95 102.20H568.45Z" stroke="#0000ff" stroke-width="0.65" fill="none" stroke-linejoin="miter"/>
<circle cx="565.10" cy="106.20" r="2.65" stroke="#2ea82a" stroke-width="0.85" fill="none"/>
<path d="M567.75 105.20H572.65M570.20 102.75V107.65M568.47 103.47L571.93 106.93M568.47 106.93L571.93 103.47" stroke="#ff0000" stroke-width="0.6" fill="none"/>
<path d="M561.10 101.40L563.85 106.20H558.35Z" stroke="#0000ff" stroke-width="0.65" fill="none" stroke-linejoin="miter"/>
<circle cx="557.00" cy="107.20" r="2.65" stroke="#2ea82a" stroke-width="0.85" fill="none"/>
<path d="M573.20 106.50L575.95 111.30H570.45Z" stroke="#0000ff" stroke-width="0.65" fill="none" stroke-linejoin="miter"/>
<path d="M563.65 111.20H568.55M566.10 108.75V113.65M564.37 109.47L567.83 112.93M564.37 112.93L567.83 109.47" stroke="#ff0000" stroke-width="0.6" fill="none"/>
<circle cx="560.10" cy="112.20" r="2.65" stroke="#2ea82a" stroke-width="0.85" fill="none"/>
<path d="M570.20 110.50L572.95 115.30H567.45Z" stroke="#0000ff" stroke-width="0.65" fill="none" stroke-linejoin="miter"/>
<path d="M572.75 115.30H577.65M575.20 112.85V117.75M573.47 113.57L576.93 117.03M573.47 117.03L576.93 113.57" stroke="#ff0000" stroke-width="0.6" fill="none"/>
<circle cx="566.10" cy="116.30" r="2.65" stroke="#2ea82a" stroke-width="0.85" fill="none"/>
<path d="M559.00 113.60L561.75 118.40H556.25Z" stroke="#0000ff" stroke-width="0.65" fill="none" stroke-linejoin="miter"/>
<path d="M554.55 103.10H559.45M557.00 100.65V105.55M555.27 101.37L558.73 104.83M555.27 104.83L558.73 101.37" stroke="#ff0000" stroke-width="0.6" fill="none"/>
<path d="M570.25 90.50H575.15M572.70 88.05V92.95M570.97 88.77L574.43 92.23M570.97 92.23L574.43 88.77" stroke="#ff0000" stroke-width="0.6" fill="none"/>
<path d="M578.20 114.60L580.95 119.40H575.45Z" stroke="#0000ff" stroke-width="0.65" fill="none" stroke-linejoin="miter"/>
<circle cx="520.60" cy="135.10" r="2.65" stroke="#2ea82a" stroke-width="0.85" fill="none"/>
<path d="M526.50 143.60L529.25 148.40H523.75Z" stroke="#0000ff" stroke-width="0.65" fill="none" stroke-linejoin="miter"/>
<circle cx="532.40" cy="126.80" r="2.65" stroke="#2ea82a" stroke-width="0.85" fill="none"/>
<path d="M531.80 124.70L534.55 129.50H529.05Z" stroke="#0000ff" stroke-width="0.65" fill="none" stroke-linejoin="miter"/>
<path d="M536.10 118.30L538.85 123.10H533.35Z" stroke="#0000ff" stroke-width="0.65" fill="none" stroke-linejoin="miter"/>
<circle cx="532.50" cy="126.60" r="2.65" stroke="#2ea82a" stroke-width="0.85" fill="none"/>
<path d="M535.10 126.40L537.85 131.20H532.35Z" stroke="#0000ff" stroke-width="0.65" fill="none" stroke-linejoin="miter"/>
<circle cx="540.10" cy="132.10" r="2.65" stroke="#2ea82a" stroke-width="0.85" fill="none"/>
<path d="M538.65 136.70H543.55M541.10 134.25V139.15M539.37 134.97L542.83 138.43M539.37 138.43L542.83 134.97" stroke="#ff0000" stroke-width="0.6" fill="none"/>
<circle cx="543.10" cy="138.20" r="2.65" stroke="#2ea82a" stroke-width="0.85" fill="none"/>
<path d="M542.60 139.50L545.35 144.30H539.85Z" stroke="#0000ff" stroke-width="0.65" fill="none" stroke-linejoin="miter"/>
<circle cx="540.10" cy="144.80" r="2.65" stroke="#2ea82a" stroke-width="0.85" fill="none"/>
<path d="M545.75 141.70H550.65M548.20 139.25V144.15M546.47 139.97L549.93 143.43M546.47 143.43L549.93 139.97" stroke="#ff0000" stroke-width="0.6" fill="none"/>
<circle cx="550.20" cy="136.20" r="2.65" stroke="#2ea82a" stroke-width="0.85" fill="none"/>
<path d="M549.75 134.20H554.65M552.20 131.75V136.65M550.47 132.47L553.93 135.93M550.47 135.93L553.93 132.47" stroke="#ff0000" stroke-width="0.6" fill="none"/>
<circle cx="554.20" cy="131.10" r="2.65" stroke="#2ea82a" stroke-width="0.85" fill="none"/>
<path d="M554.85 132.10H559.75M557.30 129.65V134.55M555.57 130.37L559.03 133.83M555.57 133.83L559.03 130.37" stroke="#ff0000" stroke-width="0.6" fill="none"/>
<path d="M549.20 119.30L551.95 124.10H546.45Z" stroke="#0000ff" stroke-width="0.65" fill="none" stroke-linejoin="miter"/>
<path d="M544.75 121.00H549.65M547.20 118.55V123.45M545.47 119.27L548.93 122.73M545.47 122.73L548.93 119.27" stroke="#ff0000" stroke-width="0.6" fill="none"/>
<path d="M553.20 121.40L555.95 126.20H550.45Z" stroke="#0000ff" stroke-width="0.65" fill="none" stroke-linejoin="miter"/>
<path d="M553.85 123.10H558.75M556.30 120.65V125.55M554.57 121.37L558.03 124.83M554.57 124.83L558.03 121.37" stroke="#ff0000" stroke-width="0.6" fill="none"/>
<circle cx="545.20" cy="125.10" r="2.65" stroke="#2ea82a" stroke-width="0.85" fill="none"/>
<path d="M548.20 124.40L550.95 129.20H545.45Z" stroke="#0000ff" stroke-width="0.65" fill="none" stroke-linejoin="miter"/>
<path d="M538.65 127.10H543.55M541.10 124.65V129.55M539.37 125.37L542.83 128.83M539.37 128.83L542.83 125.37" stroke="#ff0000" stroke-width="0.6" fill="none"/>
<circle cx="550.20" cy="129.10" r="2.65" stroke="#2ea82a" stroke-width="0.85" fill="none"/>
<path d="M550.75 128.10H555.65M553.20 125.65V130.55M551.47 126.37L554.93 129.83M551.47 129.83L554.93 126.37" stroke="#ff0000" stroke-width="0.6" fill="none"/>
<path d="M556.30 140.60L559.05 145.40H553.55Z" stroke="#0000ff" stroke-width="0.65" fill="none" stroke-linejoin="miter"/>
<circle cx="557.30" cy="139.20" r="2.65" stroke="#2ea82a" stroke-width="0.85" fill="none"/>
<circle cx="551.20" cy="145.30" r="2.65" stroke="#2ea82a" stroke-width="0.85" fill="none"/>
<path d="M542.75 118.50H547.65M545.20 116.05V120.95M543.47 116.77L546.93 120.23M543.47 120.23L546.93 116.77" stroke="#ff0000" stroke-width="0.6" fill="none"/>
<path d="M582.70 102.30L585.45 107.10H579.95Z" stroke="#0000ff" stroke-width="0.65" fill="none" stroke-linejoin="miter"/>
<path d="M586.10 119.80L588.85 124.60H583.35Z" stroke="#0000ff" stroke-width="0.65" fill="none" stroke-linejoin="miter"/>
<path d="M580.25 123.90H585.15M582.70 121.45V126.35M580.97 122.17L584.43 125.63M580.97 125.63L584.43 122.17" stroke="#ff0000" stroke-width="0.6" fill="none"/>
<path d="M581.30 115.80L584.05 120.60H578.55Z" stroke="#0000ff" stroke-width="0.65" fill="none" stroke-linejoin="miter"/>
<path d="M587.65 131.30H592.55M590.10 128.85V133.75M588.37 129.57L591.83 133.03M588.37 133.03L591.83 129.57" stroke="#ff0000" stroke-width="0.6" fill="none"/>
<circle cx="583.80" cy="133.30" r="2.65" stroke="#2ea82a" stroke-width="0.85" fill="none"/>
<path d="M588.95 137.30H593.85M591.40 134.85V139.75M589.67 135.57L593.13 139.03M589.67 139.03L593.13 135.57" stroke="#ff0000" stroke-width="0.6" fill="none"/>
<path d="M587.40 135.30L590.15 140.10H584.65Z" stroke="#0000ff" stroke-width="0.65" fill="none" stroke-linejoin="miter"/>
<path d="M581.30 126.50L584.05 131.30H578.55Z" stroke="#0000ff" stroke-width="0.65" fill="none" stroke-linejoin="miter"/>
<path d="M584.00 138.70L586.75 143.50H581.25Z" stroke="#0000ff" stroke-width="0.65" fill="none" stroke-linejoin="miter"/>
<path d="M600.20 140.90L602.95 145.70H597.45Z" stroke="#0000ff" stroke-width="0.65" fill="none" stroke-linejoin="miter"/>
<path d="M591.40 140.70L594.15 145.50H588.65Z" stroke="#0000ff" stroke-width="0.65" fill="none" stroke-linejoin="miter"/>
<path d="M578.25 135.30H583.15M580.70 132.85V137.75M578.97 133.57L582.43 137.03M578.97 137.03L582.43 133.57" stroke="#ff0000" stroke-width="0.6" fill="none"/>
<path d="M521.65 155.60H526.55M524.10 153.15V158.05M522.37 153.87L525.83 157.33M522.37 157.33L525.83 153.87" stroke="#ff0000" stroke-width="0.6" fill="none"/>
<circle cx="539.80" cy="146.20" r="2.65" stroke="#2ea82a" stroke-width="0.85" fill="none"/>
<circle cx="541.60" cy="146.00" r="2.65" stroke="#2ea82a" stroke-width="0.85" fill="none"/>
<path d="M544.60 149.40L547.35 154.20H541.85Z" stroke="#0000ff" stroke-width="0.65" fill="none" stroke-linejoin="miter"/>
<path d="M548.25 147.50H553.15M550.70 145.05V149.95M548.97 145.77L552.43 149.23M548.97 149.23L552.43 145.77" stroke="#ff0000" stroke-width="0.6" fill="none"/>
<path d="M547.75 158.60H552.65M550.20 156.15V161.05M548.47 156.87L551.93 160.33M548.47 160.33L551.93 156.87" stroke="#ff0000" stroke-width="0.6" fill="none"/>
<path d="M551.70 162.50L554.45 167.30H548.95Z" stroke="#0000ff" stroke-width="0.65" fill="none" stroke-linejoin="miter"/>
<path d="M552.75 165.70H557.65M555.20 163.25V168.15M553.47 163.97L556.93 167.43M553.47 167.43L556.93 163.97" stroke="#ff0000" stroke-width="0.6" fill="none"/>
<circle cx="556.70" cy="149.00" r="2.65" stroke="#2ea82a" stroke-width="0.85" fill="none"/>
<path d="M559.20 145.30L561.95 150.10H556.45Z" stroke="#0000ff" stroke-width="0.65" fill="none" stroke-linejoin="miter"/>
<path d="M559.20 153.40L561.95 158.20H556.45Z" stroke="#0000ff" stroke-width="0.65" fill="none" stroke-linejoin="miter"/>
<path d="M559.85 154.10H564.75M562.30 151.65V156.55M560.57 152.37L564.03 155.83M560.57 155.83L564.03 152.37" stroke="#ff0000" stroke-width="0.6" fill="none"/>
<circle cx="563.30" cy="157.10" r="2.65" stroke="#2ea82a" stroke-width="0.85" fill="none"/>
<path d="M563.80 164.00L566.55 168.80H561.05Z" stroke="#0000ff" stroke-width="0.65" fill="none" stroke-linejoin="miter"/>
<path d="M600.40 142.60L603.15 147.40H597.65Z" stroke="#0000ff" stroke-width="0.65" fill="none" stroke-linejoin="miter"/>
<path d="M606.90 146.00L609.65 150.80H604.15Z" stroke="#0000ff" stroke-width="0.65" fill="none" stroke-linejoin="miter"/>
<path d="M593.90 142.60L596.65 147.40H591.15Z" stroke="#0000ff" stroke-width="0.65" fill="none" stroke-linejoin="miter"/>
<path d="M590.40 143.20L593.15 148.00H587.65Z" stroke="#0000ff" stroke-width="0.65" fill="none" stroke-linejoin="miter"/>
<path d="M595.10 149.10L597.85 153.90H592.35Z" stroke="#0000ff" stroke-width="0.65" fill="none" stroke-linejoin="miter"/>
<path d="M598.00 150.30L600.75 155.10H595.25Z" stroke="#0000ff" stroke-width="0.65" fill="none" stroke-linejoin="miter"/>
<path d="M590.90 150.90L593.65 155.70H588.15Z" stroke="#0000ff" stroke-width="0.65" fill="none" stroke-linejoin="miter"/>
<circle cx="603.90" cy="157.70" r="2.65" stroke="#2ea82a" stroke-width="0.85" fill="none"/>
<circle cx="599.80" cy="158.90" r="2.65" stroke="#2ea82a" stroke-width="0.85" fill="none"/>
<path d="M592.65 159.40H597.55M595.10 156.95V161.85M593.37 157.67L596.83 161.13M593.37 161.13L596.83 157.67" stroke="#ff0000" stroke-width="0.6" fill="none"/>
<circle cx="593.90" cy="164.70" r="2.65" stroke="#2ea82a" stroke-width="0.85" fill="none"/>
<path d="M609.80 162.00L612.55 166.80H607.05Z" stroke="#0000ff" stroke-width="0.65" fill="none" stroke-linejoin="miter"/>
<path d="M611.20 162.60L613.95 167.40H608.45Z" stroke="#0000ff" stroke-width="0.65" fill="none" stroke-linejoin="miter"/>
<path d="M599.80 160.90L602.55 165.70H597.05Z" stroke="#0000ff" stroke-width="0.65" fill="none" stroke-linejoin="miter"/>
<path d="M603.25 168.90H608.15M605.70 166.45V171.35M603.97 167.17L607.43 170.63M603.97 170.63L607.43 167.17" stroke="#ff0000" stroke-width="0.6" fill="none"/>
<path d="M603.30 167.90L606.05 172.70H600.55Z" stroke="#0000ff" stroke-width="0.65" fill="none" stroke-linejoin="miter"/>
<circle cx="598.60" cy="169.50" r="2.65" stroke="#2ea82a" stroke-width="0.85" fill="none"/>
<path d="M590.25 168.90H595.15M592.70 166.45V171.35M590.97 167.17L594.43 170.63M590.97 170.63L594.43 167.17" stroke="#ff0000" stroke-width="0.6" fill="none"/>
<path d="M598.55 173.00H603.45M601.00 170.55V175.45M599.27 171.27L602.73 174.73M599.27 174.73L602.73 171.27" stroke="#ff0000" stroke-width="0.6" fill="none"/>
<circle cx="590.40" cy="171.80" r="2.65" stroke="#2ea82a" stroke-width="0.85" fill="none"/>
<path d="M586.75 141.20H591.65M589.20 138.75V143.65M587.47 139.47L590.93 142.93M587.47 142.93L590.93 139.47" stroke="#ff0000" stroke-width="0.6" fill="none"/>
<path d="M566.80 171.70L569.55 176.50H564.05Z" stroke="#0000ff" stroke-width="0.65" fill="none" stroke-linejoin="miter"/>
<path d="M572.70 176.40L575.45 181.20H569.95Z" stroke="#0000ff" stroke-width="0.65" fill="none" stroke-linejoin="miter"/>
<path d="M573.15 175.50H578.05M575.60 173.05V177.95M573.87 173.77L577.33 177.23M573.87 177.23L577.33 173.77" stroke="#ff0000" stroke-width="0.6" fill="none"/>
<path d="M576.15 181.40H581.05M578.60 178.95V183.85M576.87 179.67L580.33 183.13M576.87 183.13L580.33 179.67" stroke="#ff0000" stroke-width="0.6" fill="none"/>
<circle cx="582.10" cy="179.10" r="2.65" stroke="#2ea82a" stroke-width="0.85" fill="none"/>
<path d="M576.15 177.90H581.05M578.60 175.45V180.35M576.87 176.17L580.33 179.63M576.87 179.63L580.33 176.17" stroke="#ff0000" stroke-width="0.6" fill="none"/>
<circle cx="585.60" cy="177.90" r="2.65" stroke="#2ea82a" stroke-width="0.85" fill="none"/>
<path d="M584.35 185.00H589.25M586.80 182.55V187.45M585.07 183.27L588.53 186.73M585.07 186.73L588.53 183.27" stroke="#ff0000" stroke-width="0.6" fill="none"/>
<path d="M584.95 188.50H589.85M587.40 186.05V190.95M585.67 186.77L589.13 190.23M585.67 190.23L589.13 186.77" stroke="#ff0000" stroke-width="0.6" fill="none"/>
<circle cx="583.30" cy="174.40" r="2.65" stroke="#2ea82a" stroke-width="0.85" fill="none"/>
<path d="M590.90 172.80L593.65 177.60H588.15Z" stroke="#0000ff" stroke-width="0.65" fill="none" stroke-linejoin="miter"/>
<path d="M595.60 174.00L598.35 178.80H592.85Z" stroke="#0000ff" stroke-width="0.65" fill="none" stroke-linejoin="miter"/>
<path d="M600.30 172.80L603.05 177.60H597.55Z" stroke="#0000ff" stroke-width="0.65" fill="none" stroke-linejoin="miter"/>
<path d="M602.55 176.70H607.45M605.00 174.25V179.15M603.27 174.97L606.73 178.43M603.27 178.43L606.73 174.97" stroke="#ff0000" stroke-width="0.6" fill="none"/>
<circle cx="587.40" cy="175.50" r="2.65" stroke="#2ea82a" stroke-width="0.85" fill="none"/>
<path d="M605.00 170.50L607.75 175.30H602.25Z" stroke="#0000ff" stroke-width="0.65" fill="none" stroke-linejoin="miter"/>
<path d="M595.55 173.20H600.45M598.00 170.75V175.65M596.27 171.47L599.73 174.93M596.27 174.93L599.73 171.47" stroke="#ff0000" stroke-width="0.6" fill="none"/>
<path d="M599.70 179.30L602.45 184.10H596.95Z" stroke="#0000ff" stroke-width="0.65" fill="none" stroke-linejoin="miter"/>
<circle cx="595.00" cy="182.60" r="2.65" stroke="#2ea82a" stroke-width="0.85" fill="none"/>
<circle cx="605.60" cy="181.40" r="2.65" stroke="#2ea82a" stroke-width="0.85" fill="none"/>
<circle cx="613.00" cy="181.60" r="2.65" stroke="#2ea82a" stroke-width="0.85" fill="none"/>
<path d="M615.50 178.80L618.25 183.60H612.75Z" stroke="#0000ff" stroke-width="0.65" fill="none" stroke-linejoin="miter"/>
<path d="M610.85 182.60H615.75M613.30 180.15V185.05M611.57 180.87L615.03 184.33M611.57 184.33L615.03 180.87" stroke="#ff0000" stroke-width="0.6" fill="none"/>
<path d="M585.45 185.60H590.35M587.90 183.15V188.05M586.17 183.87L589.63 187.33M586.17 187.33L589.63 183.87" stroke="#ff0000" stroke-width="0.6" fill="none"/>
<path d="M586.65 188.50H591.55M589.10 186.05V190.95M587.37 186.77L590.83 190.23M587.37 190.23L590.83 186.77" stroke="#ff0000" stroke-width="0.6" fill="none"/>
<circle cx="596.20" cy="187.90" r="2.65" stroke="#2ea82a" stroke-width="0.85" fill="none"/>
<circle cx="604.40" cy="189.70" r="2.65" stroke="#2ea82a" stroke-width="0.85" fill="none"/>
<path d="M601.95 189.70H606.85M604.40 187.25V192.15M602.67 187.97L606.13 191.43M602.67 191.43L606.13 187.97" stroke="#ff0000" stroke-width="0.6" fill="none"/>
<path d="M606.75 185.60H611.65M609.20 183.15V188.05M607.47 183.87L610.93 187.33M607.47 187.33L610.93 183.87" stroke="#ff0000" stroke-width="0.6" fill="none"/>
<circle cx="613.30" cy="189.40" r="2.65" stroke="#2ea82a" stroke-width="0.85" fill="none"/>
<circle cx="616.50" cy="193.00" r="2.65" stroke="#2ea82a" stroke-width="0.85" fill="none"/>
<circle cx="599.20" cy="194.80" r="2.65" stroke="#2ea82a" stroke-width="0.85" fill="none"/>
<circle cx="603.30" cy="197.40" r="2.65" stroke="#2ea82a" stroke-width="0.85" fill="none"/>
<path d="M609.20 191.70L611.95 196.50H606.45Z" stroke="#0000ff" stroke-width="0.65" fill="none" stroke-linejoin="miter"/>
<path d="M608.70 195.00L611.45 199.80H605.95Z" stroke="#0000ff" stroke-width="0.65" fill="none" stroke-linejoin="miter"/>
<path d="M610.85 197.30H615.75M613.30 194.85V199.75M611.57 195.57L615.03 199.03M611.57 199.03L615.03 195.57" stroke="#ff0000" stroke-width="0.6" fill="none"/>
<circle cx="613.60" cy="199.50" r="2.65" stroke="#2ea82a" stroke-width="0.85" fill="none"/>
<path d="M608.95 201.50H613.85M611.40 199.05V203.95M609.67 199.77L613.13 203.23M609.67 203.23L613.13 199.77" stroke="#ff0000" stroke-width="0.6" fill="none"/>
<path d="M614.35 200.30H619.25M616.80 197.85V202.75M615.07 198.57L618.53 202.03M615.07 202.03L618.53 198.57" stroke="#ff0000" stroke-width="0.6" fill="none"/>
<path d="M590.25 202.00H595.15M592.70 199.55V204.45M590.97 200.27L594.43 203.73M590.97 203.73L594.43 200.27" stroke="#ff0000" stroke-width="0.6" fill="none"/>
<path d="M592.55 190.90H597.45M595.00 188.45V193.35M593.27 189.17L596.73 192.63M593.27 192.63L596.73 189.17" stroke="#ff0000" stroke-width="0.6" fill="none"/>
<circle cx="620.10" cy="185.80" r="2.65" stroke="#2ea82a" stroke-width="0.85" fill="none"/>
<path d="M619.65 197.20H624.55M622.10 194.75V199.65M620.37 195.47L623.83 198.93M620.37 198.93L623.83 195.47" stroke="#ff0000" stroke-width="0.6" fill="none"/>
<path d="M614.95 201.90H619.85M617.40 199.45V204.35M615.67 200.17L619.13 203.63M615.67 203.63L619.13 200.17" stroke="#ff0000" stroke-width="0.6" fill="none"/>
<path d="M611.55 197.90H616.45M614.00 195.45V200.35M612.27 196.17L615.73 199.63M612.27 199.63L615.73 196.17" stroke="#ff0000" stroke-width="0.6" fill="none"/>
<path d="M566.05 151.00H570.95M568.50 148.55V153.45M566.77 149.27L570.23 152.73M566.77 152.73L570.23 149.27" stroke="#ff0000" stroke-width="0.6" fill="none"/>
<path d="M568.05 154.00H572.95M570.50 151.55V156.45M568.77 152.27L572.23 155.73M568.77 155.73L572.23 152.27" stroke="#ff0000" stroke-width="0.6" fill="none"/>
<path d="M569.55 157.50H574.45M572.00 155.05V159.95M570.27 155.77L573.73 159.23M570.27 159.23L573.73 155.77" stroke="#ff0000" stroke-width="0.6" fill="none"/>
<path d="M571.55 160.50H576.45M574.00 158.05V162.95M572.27 158.77L575.73 162.23M572.27 162.23L575.73 158.77" stroke="#ff0000" stroke-width="0.6" fill="none"/>
<path d="M573.05 164.00H577.95M575.50 161.55V166.45M573.77 162.27L577.23 165.73M573.77 165.73L577.23 162.27" stroke="#ff0000" stroke-width="0.6" fill="none"/>
<path d="M574.55 167.00H579.45M577.00 164.55V169.45M575.27 165.27L578.73 168.73M575.27 168.73L578.73 165.27" stroke="#ff0000" stroke-width="0.6" fill="none"/>
<path d="M576.05 170.00H580.95M578.50 167.55V172.45M576.77 168.27L580.23 171.73M576.77 171.73L580.23 168.27" stroke="#ff0000" stroke-width="0.6" fill="none"/>
<path d="M577.55 155.00H582.45M580.00 152.55V157.45M578.27 153.27L581.73 156.73M578.27 156.73L581.73 153.27" stroke="#ff0000" stroke-width="0.6" fill="none"/>
<path d="M576.55 158.50H581.45M579.00 156.05V160.95M577.27 156.77L580.73 160.23M577.27 160.23L580.73 156.77" stroke="#ff0000" stroke-width="0.6" fill="none"/>
<path d="M575.05 162.00H579.95M577.50 159.55V164.45M575.77 160.27L579.23 163.73M575.77 163.73L579.23 160.27" stroke="#ff0000" stroke-width="0.6" fill="none"/>
<path d="M568.55 160.00H573.45M571.00 157.55V162.45M569.27 158.27L572.73 161.73M569.27 161.73L572.73 158.27" stroke="#ff0000" stroke-width="0.6" fill="none"/>
<path d="M571.05 166.00H575.95M573.50 163.55V168.45M571.77 164.27L575.23 167.73M571.77 167.73L575.23 164.27" stroke="#ff0000" stroke-width="0.6" fill="none"/>
<path d="M578.05 172.50H582.95M580.50 170.05V174.95M578.77 170.77L582.23 174.23M578.77 174.23L582.23 170.77" stroke="#ff0000" stroke-width="0.6" fill="none"/>
<path d="M572.05 175.00H576.95M574.50 172.55V177.45M572.77 173.27L576.23 176.73M572.77 176.73L576.23 173.27" stroke="#ff0000" stroke-width="0.6" fill="none"/>
<path d="M573.55 178.50H578.45M576.00 176.05V180.95M574.27 176.77L577.73 180.23M574.27 180.23L577.73 176.77" stroke="#ff0000" stroke-width="0.6" fill="none"/>
<path d="M574.55 182.00H579.45M577.00 179.55V184.45M575.27 180.27L578.73 183.73M575.27 183.73L578.73 180.27" stroke="#ff0000" stroke-width="0.6" fill="none"/>
<path d="M571.55 180.50H576.45M574.00 178.05V182.95M572.27 178.77L575.73 182.23M572.27 182.23L575.73 178.77" stroke="#ff0000" stroke-width="0.6" fill="none"/>
<path d="M584.55 172.00H589.45M587.00 169.55V174.45M585.27 170.27L588.73 173.73M585.27 173.73L588.73 170.27" stroke="#ff0000" stroke-width="0.6" fill="none"/>
<path d="M591.25 161.20H596.15M593.70 158.75V163.65M591.97 159.47L595.43 162.93M591.97 162.93L595.43 159.47" stroke="#ff0000" stroke-width="0.6" fill="none"/>
<path d="M592.55 169.20H597.45M595.00 166.75V171.65M593.27 167.47L596.73 170.93M593.27 170.93L596.73 167.47" stroke="#ff0000" stroke-width="0.6" fill="none"/>
<path d="M560.25 154.40H565.15M562.70 151.95V156.85M560.97 152.67L564.43 156.13M560.97 156.13L564.43 152.67" stroke="#ff0000" stroke-width="0.6" fill="none"/>
<circle cx="564.00" cy="157.10" r="2.65" stroke="#2ea82a" stroke-width="0.85" fill="none"/>
<circle cx="566.70" cy="162.50" r="2.65" stroke="#2ea82a" stroke-width="0.85" fill="none"/>
<circle cx="565.40" cy="168.60" r="2.65" stroke="#2ea82a" stroke-width="0.85" fill="none"/>
<circle cx="567.40" cy="174.00" r="2.65" stroke="#2ea82a" stroke-width="0.85" fill="none"/>
<circle cx="577.50" cy="151.70" r="2.65" stroke="#2ea82a" stroke-width="0.85" fill="none"/>
<circle cx="581.50" cy="147.70" r="2.65" stroke="#2ea82a" stroke-width="0.85" fill="none"/>
<circle cx="573.50" cy="169.20" r="2.65" stroke="#2ea82a" stroke-width="0.85" fill="none"/>
<circle cx="584.20" cy="175.30" r="2.65" stroke="#2ea82a" stroke-width="0.85" fill="none"/>
<circle cx="587.00" cy="159.80" r="2.65" stroke="#2ea82a" stroke-width="0.85" fill="none"/>
<circle cx="591.00" cy="163.90" r="2.65" stroke="#2ea82a" stroke-width="0.85" fill="none"/>
<circle cx="593.00" cy="170.00" r="2.65" stroke="#2ea82a" stroke-width="0.85" fill="none"/>
<circle cx="593.70" cy="154.40" r="2.65" stroke="#2ea82a" stroke-width="0.85" fill="none"/>
<path d="M562.70 149.00L565.45 153.80H559.95Z" stroke="#0000ff" stroke-width="0.65" fill="none" stroke-linejoin="miter"/>
<path d="M566.10 163.80L568.85 168.60H563.35Z" stroke="#0000ff" stroke-width="0.65" fill="none" stroke-linejoin="miter"/>
<path d="M568.10 170.60L570.85 175.40H565.35Z" stroke="#0000ff" stroke-width="0.65" fill="none" stroke-linejoin="miter"/>
<path d="M572.10 176.00L574.85 180.80H569.35Z" stroke="#0000ff" stroke-width="0.65" fill="none" stroke-linejoin="miter"/>
<path d="M574.80 145.00L577.55 149.80H572.05Z" stroke="#0000ff" stroke-width="0.65" fill="none" stroke-linejoin="miter"/>
<path d="M585.60 147.70L588.35 152.50H582.85Z" stroke="#0000ff" stroke-width="0.65" fill="none" stroke-linejoin="miter"/>
<path d="M591.00 151.70L593.75 156.50H588.25Z" stroke="#0000ff" stroke-width="0.65" fill="none" stroke-linejoin="miter"/>
<path d="M596.40 150.40L599.15 155.20H593.65Z" stroke="#0000ff" stroke-width="0.65" fill="none" stroke-linejoin="miter"/>
<path d="M588.30 162.50L591.05 167.30H585.55Z" stroke="#0000ff" stroke-width="0.65" fill="none" stroke-linejoin="miter"/>
<path d="M592.30 173.30L595.05 178.10H589.55Z" stroke="#0000ff" stroke-width="0.65" fill="none" stroke-linejoin="miter"/>
<path d="M596.40 171.90L599.15 176.70H593.65Z" stroke="#0000ff" stroke-width="0.65" fill="none" stroke-linejoin="miter"/>
<path d="M589.60 177.30L592.35 182.10H586.85Z" stroke="#0000ff" stroke-width="0.65" fill="none" stroke-linejoin="miter"/>
<path d="M574.79 143.03L577.54 147.83H572.04Z" stroke="#0000ff" stroke-width="0.65" fill="none" stroke-linejoin="miter"/>
<path d="M573.24 132.92L575.99 137.72H570.49Z" stroke="#0000ff" stroke-width="0.65" fill="none" stroke-linejoin="miter"/>
<path d="M570.91 136.90H575.81M573.36 134.45V139.35M571.62 135.16L575.09 138.63M571.62 138.63L575.09 135.16" stroke="#ff0000" stroke-width="0.6" fill="none"/>
<circle cx="560.82" cy="127.10" r="2.65" stroke="#2ea82a" stroke-width="0.85" fill="none"/>
<path d="M579.84 138.80H584.74M582.29 136.35V141.25M580.56 137.07L584.02 140.54M580.56 140.54L584.02 137.07" stroke="#ff0000" stroke-width="0.6" fill="none"/>
<path d="M585.02 146.94H589.92M587.47 144.49V149.39M585.73 145.21L589.20 148.68M585.73 148.68L589.20 145.21" stroke="#ff0000" stroke-width="0.6" fill="none"/>
<circle cx="576.47" cy="122.72" r="2.65" stroke="#2ea82a" stroke-width="0.85" fill="none"/>
<path d="M571.40 119.79H576.30M573.85 117.34V122.24M572.12 118.05L575.58 121.52M572.12 121.52L575.58 118.05" stroke="#ff0000" stroke-width="0.6" fill="none"/>
<path d="M562.81 118.90H567.71M565.26 116.45V121.35M563.53 117.17L566.99 120.63M563.53 120.63L566.99 117.17" stroke="#ff0000" stroke-width="0.6" fill="none"/>
<path d="M571.22 140.57L573.97 145.37H568.47Z" stroke="#0000ff" stroke-width="0.65" fill="none" stroke-linejoin="miter"/>
<path d="M577.21 130.29L579.96 135.09H574.46Z" stroke="#0000ff" stroke-width="0.65" fill="none" stroke-linejoin="miter"/>
<circle cx="571.72" cy="126.34" r="2.65" stroke="#2ea82a" stroke-width="0.85" fill="none"/>
<circle cx="587.87" cy="143.21" r="2.65" stroke="#2ea82a" stroke-width="0.85" fill="none"/>
<circle cx="567.46" cy="124.89" r="2.65" stroke="#2ea82a" stroke-width="0.85" fill="none"/>
<path d="M560.11 138.29L562.86 143.09H557.36Z" stroke="#0000ff" stroke-width="0.65" fill="none" stroke-linejoin="miter"/>
<path d="M583.40 126.90L586.15 131.70H580.65Z" stroke="#0000ff" stroke-width="0.65" fill="none" stroke-linejoin="miter"/>
<circle cx="583.42" cy="118.02" r="2.65" stroke="#2ea82a" stroke-width="0.85" fill="none"/>
<path d="M582.86 132.10H587.76M585.31 129.65V134.55M583.58 130.37L587.04 133.83M583.58 133.83L587.04 130.37" stroke="#ff0000" stroke-width="0.6" fill="none"/>
<circle cx="569.92" cy="120.19" r="2.65" stroke="#2ea82a" stroke-width="0.85" fill="none"/>
<circle cx="581.36" cy="126.09" r="2.65" stroke="#2ea82a" stroke-width="0.85" fill="none"/>
<path d="M565.53 146.92H570.43M567.98 144.47V149.37M566.25 145.19L569.71 148.65M566.25 148.65L569.71 145.19" stroke="#ff0000" stroke-width="0.6" fill="none"/>
<circle cx="561.54" cy="125.39" r="2.65" stroke="#2ea82a" stroke-width="0.85" fill="none"/>
<path d="M557.35 141.91H562.25M559.80 139.46V144.36M558.06 140.18L561.53 143.64M558.06 143.64L561.53 140.18" stroke="#ff0000" stroke-width="0.6" fill="none"/>
<path d="M572.33 131.42H577.23M574.78 128.97V133.87M573.05 129.69L576.51 133.16M573.05 133.16L576.51 129.69" stroke="#ff0000" stroke-width="0.6" fill="none"/>
<path d="M577.51 121.93H582.41M579.96 119.48V124.38M578.22 120.20L581.69 123.66M578.22 123.66L581.69 120.20" stroke="#ff0000" stroke-width="0.6" fill="none"/>
<circle cx="561.50" cy="130.62" r="2.65" stroke="#2ea82a" stroke-width="0.85" fill="none"/>
<path d="M563.64 147.13H568.54M566.09 144.68V149.58M564.36 145.40L567.83 148.86M564.36 148.86L567.83 145.40" stroke="#ff0000" stroke-width="0.6" fill="none"/>
<circle cx="567.12" cy="144.55" r="2.65" stroke="#2ea82a" stroke-width="0.85" fill="none"/>
<path d="M567.38 143.63H572.28M569.83 141.18V146.08M568.10 141.90L571.56 145.36M568.10 145.36L571.56 141.90" stroke="#ff0000" stroke-width="0.6" fill="none"/>
<circle cx="561.01" cy="147.68" r="2.65" stroke="#2ea82a" stroke-width="0.85" fill="none"/>
<path d="M563.30 141.18H568.20M565.75 138.73V143.63M564.02 139.45L567.48 142.91M564.02 142.91L567.48 139.45" stroke="#ff0000" stroke-width="0.6" fill="none"/>
<path d="M566.89 117.50L569.64 122.30H564.14Z" stroke="#0000ff" stroke-width="0.65" fill="none" stroke-linejoin="miter"/>
<path d="M573.03 125.29H577.93M575.48 122.84V127.74M573.75 123.56L577.21 127.02M573.75 127.02L577.21 123.56" stroke="#ff0000" stroke-width="0.6" fill="none"/>
<circle cx="569.15" cy="131.60" r="2.65" stroke="#2ea82a" stroke-width="0.85" fill="none"/>
<circle cx="572.51" cy="135.24" r="2.65" stroke="#2ea82a" stroke-width="0.85" fill="none"/>
<circle cx="563.48" cy="122.62" r="2.65" stroke="#2ea82a" stroke-width="0.85" fill="none"/>
<circle cx="582.53" cy="125.48" r="2.65" stroke="#2ea82a" stroke-width="0.85" fill="none"/>
<path d="M577.73 146.21H582.63M580.18 143.76V148.66M578.45 144.48L581.92 147.94M578.45 147.94L581.92 144.48" stroke="#ff0000" stroke-width="0.6" fill="none"/>
<path d="M584.05 144.47H588.95M586.50 142.02V146.92M584.77 142.73L588.24 146.20M584.77 146.20L588.24 142.73" stroke="#ff0000" stroke-width="0.6" fill="none"/>
<circle cx="570.64" cy="121.12" r="2.65" stroke="#2ea82a" stroke-width="0.85" fill="none"/>
<path d="M584.43 125.15H589.33M586.88 122.70V127.60M585.15 123.42L588.61 126.88M585.15 126.88L588.61 123.42" stroke="#ff0000" stroke-width="0.6" fill="none"/>
<circle cx="565.71" cy="142.71" r="2.65" stroke="#2ea82a" stroke-width="0.85" fill="none"/>
<circle cx="566.80" cy="123.26" r="2.65" stroke="#2ea82a" stroke-width="0.85" fill="none"/>
<circle cx="560.06" cy="124.85" r="2.65" stroke="#2ea82a" stroke-width="0.85" fill="none"/>
<circle cx="583.57" cy="136.43" r="2.65" stroke="#2ea82a" stroke-width="0.85" fill="none"/>
<path d="M585.52 121.42L588.27 126.22H582.77Z" stroke="#0000ff" stroke-width="0.65" fill="none" stroke-linejoin="miter"/>
<path d="M563.63 131.37H568.53M566.08 128.92V133.82M564.34 129.64L567.81 133.10M564.34 133.10L567.81 129.64" stroke="#ff0000" stroke-width="0.6" fill="none"/>
<path d="M560.84 129.06H565.74M563.29 126.61V131.51M561.56 127.33L565.02 130.80M561.56 130.80L565.02 127.33" stroke="#ff0000" stroke-width="0.6" fill="none"/>
<circle cx="561.95" cy="128.86" r="2.65" stroke="#2ea82a" stroke-width="0.85" fill="none"/>
<circle cx="587.41" cy="137.71" r="2.65" stroke="#2ea82a" stroke-width="0.85" fill="none"/>
<circle cx="575.53" cy="122.21" r="2.65" stroke="#2ea82a" stroke-width="0.85" fill="none"/>
<path d="M556.09 145.31H560.99M558.54 142.86V147.76M556.80 143.57L560.27 147.04M556.80 147.04L560.27 143.57" stroke="#ff0000" stroke-width="0.6" fill="none"/>
<circle cx="586.88" cy="118.64" r="2.65" stroke="#2ea82a" stroke-width="0.85" fill="none"/>
<circle cx="572.47" cy="139.91" r="2.65" stroke="#2ea82a" stroke-width="0.85" fill="none"/>
<path d="M587.98 117.56L590.73 122.36H585.23Z" stroke="#0000ff" stroke-width="0.65" fill="none" stroke-linejoin="miter"/>
<path d="M580.11 142.31L582.86 147.11H577.36Z" stroke="#0000ff" stroke-width="0.65" fill="none" stroke-linejoin="miter"/>
<circle cx="579.11" cy="141.80" r="2.65" stroke="#2ea82a" stroke-width="0.85" fill="none"/>
<circle cx="568.56" cy="138.55" r="2.65" stroke="#2ea82a" stroke-width="0.85" fill="none"/>
<circle cx="584.13" cy="130.51" r="2.65" stroke="#2ea82a" stroke-width="0.85" fill="none"/>
<circle cx="583.90" cy="135.18" r="2.65" stroke="#2ea82a" stroke-width="0.85" fill="none"/>
<circle cx="569.47" cy="135.48" r="2.65" stroke="#2ea82a" stroke-width="0.85" fill="none"/>
<circle cx="560.41" cy="137.18" r="2.65" stroke="#2ea82a" stroke-width="0.85" fill="none"/>
<circle cx="584.39" cy="139.85" r="2.65" stroke="#2ea82a" stroke-width="0.85" fill="none"/>
<path d="M580.05 132.73L582.80 137.53H577.30Z" stroke="#0000ff" stroke-width="0.65" fill="none" stroke-linejoin="miter"/>
<path d="M583.15 117.81L585.90 122.61H580.40Z" stroke="#0000ff" stroke-width="0.65" fill="none" stroke-linejoin="miter"/>
<circle cx="562.83" cy="164.23" r="2.65" stroke="#2ea82a" stroke-width="0.85" fill="none"/>
<path d="M568.45 164.16L571.20 168.96H565.70Z" stroke="#0000ff" stroke-width="0.65" fill="none" stroke-linejoin="miter"/>
<path d="M579.21 170.15L581.96 174.95H576.46Z" stroke="#0000ff" stroke-width="0.65" fill="none" stroke-linejoin="miter"/>
<path d="M559.87 156.13H564.77M562.32 153.68V158.58M560.58 154.40L564.05 157.86M560.58 157.86L564.05 154.40" stroke="#ff0000" stroke-width="0.6" fill="none"/>
<circle cx="567.67" cy="152.58" r="2.65" stroke="#2ea82a" stroke-width="0.85" fill="none"/>
<circle cx="580.48" cy="159.93" r="2.65" stroke="#2ea82a" stroke-width="0.85" fill="none"/>
<circle cx="571.15" cy="165.98" r="2.65" stroke="#2ea82a" stroke-width="0.85" fill="none"/>
<path d="M571.62 169.76H576.52M574.07 167.31V172.21M572.33 168.03L575.80 171.49M572.33 171.49L575.80 168.03" stroke="#ff0000" stroke-width="0.6" fill="none"/>
<circle cx="586.65" cy="158.38" r="2.65" stroke="#2ea82a" stroke-width="0.85" fill="none"/>
<path d="M570.86 148.98L573.61 153.78H568.11Z" stroke="#0000ff" stroke-width="0.65" fill="none" stroke-linejoin="miter"/>
<path d="M585.44 168.22L588.19 173.02H582.69Z" stroke="#0000ff" stroke-width="0.65" fill="none" stroke-linejoin="miter"/>
<circle cx="588.60" cy="155.47" r="2.65" stroke="#2ea82a" stroke-width="0.85" fill="none"/>
<path d="M572.17 155.43H577.07M574.62 152.98V157.88M572.89 153.70L576.35 157.16M572.89 157.16L576.35 153.70" stroke="#ff0000" stroke-width="0.6" fill="none"/>
<path d="M571.14 164.89H576.04M573.59 162.44V167.34M571.86 163.16L575.32 166.63M571.86 166.63L575.32 163.16" stroke="#ff0000" stroke-width="0.6" fill="none"/>
<path d="M570.83 167.96L573.58 172.76H568.08Z" stroke="#0000ff" stroke-width="0.65" fill="none" stroke-linejoin="miter"/>
<circle cx="574.67" cy="150.02" r="2.65" stroke="#2ea82a" stroke-width="0.85" fill="none"/>
<path d="M583.99 149.12H588.89M586.44 146.67V151.57M584.71 147.39L588.17 150.85M584.71 150.85L588.17 147.39" stroke="#ff0000" stroke-width="0.6" fill="none"/>
<circle cx="577.98" cy="156.34" r="2.65" stroke="#2ea82a" stroke-width="0.85" fill="none"/>
<circle cx="562.54" cy="151.67" r="2.65" stroke="#2ea82a" stroke-width="0.85" fill="none"/>
<path d="M562.69 167.70L565.44 172.50H559.94Z" stroke="#0000ff" stroke-width="0.65" fill="none" stroke-linejoin="miter"/>
<circle cx="584.23" cy="161.64" r="2.65" stroke="#2ea82a" stroke-width="0.85" fill="none"/>
<path d="M593.39 179.35L596.14 184.15H590.64Z" stroke="#0000ff" stroke-width="0.65" fill="none" stroke-linejoin="miter"/>
<path d="M604.22 190.85L606.97 195.65H601.47Z" stroke="#0000ff" stroke-width="0.65" fill="none" stroke-linejoin="miter"/>
<path d="M585.98 173.93L588.73 178.73H583.23Z" stroke="#0000ff" stroke-width="0.65" fill="none" stroke-linejoin="miter"/>
<circle cx="580.32" cy="176.53" r="2.65" stroke="#2ea82a" stroke-width="0.85" fill="none"/>
<path d="M585.37 166.83L588.12 171.63H582.62Z" stroke="#0000ff" stroke-width="0.65" fill="none" stroke-linejoin="miter"/>
<circle cx="600.92" cy="178.21" r="2.65" stroke="#2ea82a" stroke-width="0.85" fill="none"/>
<path d="M602.69 171.07L605.44 175.87H599.94Z" stroke="#0000ff" stroke-width="0.65" fill="none" stroke-linejoin="miter"/>
<path d="M604.74 163.05H609.64M607.19 160.60V165.50M605.45 161.32L608.92 164.78M605.45 164.78L608.92 161.32" stroke="#ff0000" stroke-width="0.6" fill="none"/>
<path d="M599.22 164.55H604.12M601.67 162.10V167.00M599.94 162.81L603.40 166.28M599.94 166.28L603.40 162.81" stroke="#ff0000" stroke-width="0.6" fill="none"/>
<circle cx="598.77" cy="191.85" r="2.65" stroke="#2ea82a" stroke-width="0.85" fill="none"/>
<circle cx="597.06" cy="190.78" r="2.65" stroke="#2ea82a" stroke-width="0.85" fill="none"/>
<path d="M605.88 176.23H610.78M608.33 173.78V178.68M606.60 174.50L610.06 177.96M606.60 177.96L610.06 174.50" stroke="#ff0000" stroke-width="0.6" fill="none"/>
<path d="M586.15 182.57L588.90 187.37H583.40Z" stroke="#0000ff" stroke-width="0.65" fill="none" stroke-linejoin="miter"/>
<path d="M596.80 185.12H601.70M599.25 182.67V187.57M597.52 183.39L600.98 186.85M597.52 186.85L600.98 183.39" stroke="#ff0000" stroke-width="0.6" fill="none"/>
<circle cx="607.00" cy="194.32" r="2.65" stroke="#2ea82a" stroke-width="0.85" fill="none"/>
<path d="M593.66 187.68H598.56M596.11 185.23V190.13M594.38 185.95L597.84 189.41M594.38 189.41L597.84 185.95" stroke="#ff0000" stroke-width="0.6" fill="none"/>
<circle cx="607.30" cy="189.95" r="2.65" stroke="#2ea82a" stroke-width="0.85" fill="none"/>
<path d="M537.07 130.53L539.82 135.33H534.32Z" stroke="#0000ff" stroke-width="0.65" fill="none" stroke-linejoin="miter"/>
<circle cx="554.21" cy="134.62" r="2.65" stroke="#2ea82a" stroke-width="0.85" fill="none"/>
<path d="M552.78 121.92H557.68M555.23 119.47V124.37M553.50 120.19L556.96 123.65M553.50 123.65L556.96 120.19" stroke="#ff0000" stroke-width="0.6" fill="none"/>
<circle cx="539.32" cy="130.05" r="2.65" stroke="#2ea82a" stroke-width="0.85" fill="none"/>
<circle cx="538.51" cy="124.46" r="2.65" stroke="#2ea82a" stroke-width="0.85" fill="none"/>
<circle cx="553.09" cy="145.20" r="2.65" stroke="#2ea82a" stroke-width="0.85" fill="none"/>
<circle cx="558.64" cy="134.78" r="2.65" stroke="#2ea82a" stroke-width="0.85" fill="none"/>
<circle cx="537.15" cy="126.64" r="2.65" stroke="#2ea82a" stroke-width="0.85" fill="none"/>
<circle cx="542.25" cy="141.87" r="2.65" stroke="#2ea82a" stroke-width="0.85" fill="none"/>
<circle cx="548.07" cy="145.31" r="2.65" stroke="#2ea82a" stroke-width="0.85" fill="none"/>
<circle cx="542.79" cy="131.44" r="2.65" stroke="#2ea82a" stroke-width="0.85" fill="none"/>
<circle cx="557.51" cy="126.25" r="2.65" stroke="#2ea82a" stroke-width="0.85" fill="none"/>
<circle cx="559.21" cy="135.73" r="2.65" stroke="#2ea82a" stroke-width="0.85" fill="none"/>
<circle cx="540.02" cy="136.08" r="2.65" stroke="#2ea82a" stroke-width="0.85" fill="none"/>
<circle cx="550.13" cy="120.83" r="2.65" stroke="#2ea82a" stroke-width="0.85" fill="none"/>
<circle cx="560.80" cy="106.42" r="2.65" stroke="#2ea82a" stroke-width="0.85" fill="none"/>
<circle cx="563.14" cy="109.68" r="2.65" stroke="#2ea82a" stroke-width="0.85" fill="none"/>
<circle cx="538.30" cy="111.39" r="2.65" stroke="#2ea82a" stroke-width="0.85" fill="none"/>
<path d="M582.84 122.54L585.59 127.34H580.09Z" stroke="#0000ff" stroke-width="0.65" fill="none" stroke-linejoin="miter"/>
<path d="M558.66 93.87L561.41 98.67H555.91Z" stroke="#0000ff" stroke-width="0.65" fill="none" stroke-linejoin="miter"/>
<path d="M575.79 121.72L578.54 126.52H573.04Z" stroke="#0000ff" stroke-width="0.65" fill="none" stroke-linejoin="miter"/>
<path d="M550.86 96.19L553.61 100.99H548.11Z" stroke="#0000ff" stroke-width="0.65" fill="none" stroke-linejoin="miter"/>
<circle cx="581.26" cy="96.66" r="2.65" stroke="#2ea82a" stroke-width="0.85" fill="none"/>
<circle cx="536.14" cy="98.99" r="2.65" stroke="#2ea82a" stroke-width="0.85" fill="none"/>
<path d="M569.35 100.89L572.10 105.69H566.60Z" stroke="#0000ff" stroke-width="0.65" fill="none" stroke-linejoin="miter"/>
<path d="M565.99 93.08L568.74 97.88H563.24Z" stroke="#0000ff" stroke-width="0.65" fill="none" stroke-linejoin="miter"/>
<circle cx="541.14" cy="110.38" r="2.65" stroke="#2ea82a" stroke-width="0.85" fill="none"/>
<path d="M544.89 108.39L547.64 113.19H542.14Z" stroke="#0000ff" stroke-width="0.65" fill="none" stroke-linejoin="miter"/>
<path d="M553.79 104.18L556.54 108.98H551.04Z" stroke="#0000ff" stroke-width="0.65" fill="none" stroke-linejoin="miter"/>
<circle cx="542.99" cy="99.35" r="2.65" stroke="#2ea82a" stroke-width="0.85" fill="none"/>
<circle cx="566.92" cy="111.07" r="2.65" stroke="#2ea82a" stroke-width="0.85" fill="none"/>
<circle cx="565.59" cy="122.84" r="2.65" stroke="#2ea82a" stroke-width="0.85" fill="none"/>
<path d="M572.04 118.48L574.79 123.28H569.29Z" stroke="#0000ff" stroke-width="0.65" fill="none" stroke-linejoin="miter"/>
<circle cx="550.79" cy="103.34" r="2.65" stroke="#2ea82a" stroke-width="0.85" fill="none"/>
<circle cx="545.91" cy="127.94" r="2.65" stroke="#2ea82a" stroke-width="0.85" fill="none"/>
<circle cx="541.70" cy="100.62" r="2.65" stroke="#2ea82a" stroke-width="0.85" fill="none"/>
<circle cx="547.97" cy="95.49" r="2.65" stroke="#2ea82a" stroke-width="0.85" fill="none"/>
<circle cx="556.08" cy="120.44" r="2.65" stroke="#2ea82a" stroke-width="0.85" fill="none"/>
<path d="M552.69 116.67H557.59M555.14 114.22V119.12M553.41 114.94L556.87 118.40M553.41 118.40L556.87 114.94" stroke="#ff0000" stroke-width="0.6" fill="none"/>
<path d="M542.60 116.57H547.50M545.05 114.12V119.02M543.31 114.83L546.78 118.30M543.31 118.30L546.78 114.83" stroke="#ff0000" stroke-width="0.6" fill="none"/>
<path d="M576.44 101.35H581.34M578.89 98.90V103.80M577.16 99.62L580.63 103.08M577.16 103.08L580.63 99.62" stroke="#ff0000" stroke-width="0.6" fill="none"/>
<path d="M571.54 119.95L574.29 124.75H568.79Z" stroke="#0000ff" stroke-width="0.65" fill="none" stroke-linejoin="miter"/>
<path d="M551.62 96.18L554.37 100.98H548.87Z" stroke="#0000ff" stroke-width="0.65" fill="none" stroke-linejoin="miter"/>
<circle cx="546.31" cy="125.34" r="2.65" stroke="#2ea82a" stroke-width="0.85" fill="none"/>
<path d="M564.91 100.36L567.66 105.16H562.16Z" stroke="#0000ff" stroke-width="0.65" fill="none" stroke-linejoin="miter"/>
<circle cx="552.14" cy="141.21" r="2.65" stroke="#2ea82a" stroke-width="0.85" fill="none"/>
<path d="M574.99 100.24H579.89M577.44 97.79V102.69M575.71 98.51L579.17 101.97M575.71 101.97L579.17 98.51" stroke="#ff0000" stroke-width="0.6" fill="none"/>
<circle cx="578.30" cy="120.41" r="2.65" stroke="#2ea82a" stroke-width="0.85" fill="none"/>
<path d="M556.44 117.98L559.19 122.78H553.69Z" stroke="#0000ff" stroke-width="0.65" fill="none" stroke-linejoin="miter"/>
<path d="M560.05 125.35L562.80 130.15H557.30Z" stroke="#0000ff" stroke-width="0.65" fill="none" stroke-linejoin="miter"/>
<circle cx="569.54" cy="141.43" r="2.65" stroke="#2ea82a" stroke-width="0.85" fill="none"/>
<circle cx="560.89" cy="135.66" r="2.65" stroke="#2ea82a" stroke-width="0.85" fill="none"/>
<circle cx="551.83" cy="104.08" r="2.65" stroke="#2ea82a" stroke-width="0.85" fill="none"/>
<path d="M545.54 141.43L548.29 146.23H542.79Z" stroke="#0000ff" stroke-width="0.65" fill="none" stroke-linejoin="miter"/>
<path d="M567.21 142.34H572.11M569.66 139.89V144.79M567.93 140.61L571.40 144.07M567.93 144.07L571.40 140.61" stroke="#ff0000" stroke-width="0.6" fill="none"/>
<path d="M559.16 125.28L561.91 130.08H556.41Z" stroke="#0000ff" stroke-width="0.65" fill="none" stroke-linejoin="miter"/>
<path d="M579.39 136.57L582.14 141.37H576.64Z" stroke="#0000ff" stroke-width="0.65" fill="none" stroke-linejoin="miter"/>
<circle cx="576.90" cy="135.94" r="2.65" stroke="#2ea82a" stroke-width="0.85" fill="none"/>
<path d="M573.51 114.61L576.26 119.41H570.76Z" stroke="#0000ff" stroke-width="0.65" fill="none" stroke-linejoin="miter"/>
<path d="M573.34 133.21H578.24M575.79 130.76V135.66M574.06 131.48L577.53 134.95M574.06 134.95L577.53 131.48" stroke="#ff0000" stroke-width="0.6" fill="none"/>
<path d="M571.78 114.62L574.53 119.42H569.03Z" stroke="#0000ff" stroke-width="0.65" fill="none" stroke-linejoin="miter"/>
<path d="M547.47 111.09L550.22 115.89H544.72Z" stroke="#0000ff" stroke-width="0.65" fill="none" stroke-linejoin="miter"/>
<circle cx="545.37" cy="114.56" r="2.65" stroke="#2ea82a" stroke-width="0.85" fill="none"/>
<path d="M566.84 105.07L569.59 109.87H564.09Z" stroke="#0000ff" stroke-width="0.65" fill="none" stroke-linejoin="miter"/>
<path d="M565.86 113.58H570.76M568.31 111.13V116.03M566.58 111.85L570.05 115.31M566.58 115.31L570.05 111.85" stroke="#ff0000" stroke-width="0.6" fill="none"/>
<path d="M564.94 121.62L567.69 126.42H562.19Z" stroke="#0000ff" stroke-width="0.65" fill="none" stroke-linejoin="miter"/>
<circle cx="580.00" cy="130.32" r="2.65" stroke="#2ea82a" stroke-width="0.85" fill="none"/>
<path d="M571.66 146.20L574.41 151.00H568.91Z" stroke="#0000ff" stroke-width="0.65" fill="none" stroke-linejoin="miter"/>
<circle cx="566.54" cy="135.63" r="2.65" stroke="#2ea82a" stroke-width="0.85" fill="none"/>
<circle cx="559.05" cy="97.78" r="2.65" stroke="#2ea82a" stroke-width="0.85" fill="none"/>
<circle cx="558.15" cy="100.41" r="2.65" stroke="#2ea82a" stroke-width="0.85" fill="none"/>
<circle cx="576.70" cy="125.25" r="2.65" stroke="#2ea82a" stroke-width="0.85" fill="none"/>
<path d="M578.85 123.54L581.60 128.34H576.10Z" stroke="#0000ff" stroke-width="0.65" fill="none" stroke-linejoin="miter"/>
<path d="M564.88 139.52H569.78M567.33 137.07V141.97M565.60 137.79L569.06 141.26M565.60 141.26L569.06 137.79" stroke="#ff0000" stroke-width="0.6" fill="none"/>
<circle cx="565.91" cy="136.76" r="2.65" stroke="#2ea82a" stroke-width="0.85" fill="none"/>
<path d="M570.45 88.20H575.35M572.90 85.75V90.65M571.17 86.47L574.64 89.93M571.17 89.93L574.64 86.47" stroke="#ff0000" stroke-width="0.6" fill="none"/>
<path d="M550.07 92.21L552.82 97.01H547.32Z" stroke="#0000ff" stroke-width="0.65" fill="none" stroke-linejoin="miter"/>
<circle cx="546.76" cy="103.91" r="2.65" stroke="#2ea82a" stroke-width="0.85" fill="none"/>
<path d="M560.80 94.26L563.55 99.06H558.05Z" stroke="#0000ff" stroke-width="0.65" fill="none" stroke-linejoin="miter"/>
<path d="M553.57 95.40L556.32 100.20H550.82Z" stroke="#0000ff" stroke-width="0.65" fill="none" stroke-linejoin="miter"/>
<circle cx="553.51" cy="99.33" r="2.65" stroke="#2ea82a" stroke-width="0.85" fill="none"/>
<path d="M545.42 87.20L548.17 92.00H542.67Z" stroke="#0000ff" stroke-width="0.65" fill="none" stroke-linejoin="miter"/>
<path d="M547.25 100.09H552.15M549.70 97.64V102.54M547.97 98.36L551.43 101.83M547.97 101.83L551.43 98.36" stroke="#ff0000" stroke-width="0.6" fill="none"/>
<path d="M571.93 97.27L574.68 102.07H569.18Z" stroke="#0000ff" stroke-width="0.65" fill="none" stroke-linejoin="miter"/>
<path d="M572.21 103.89H577.11M574.66 101.44V106.34M572.93 102.16L576.40 105.62M572.93 105.62L576.40 102.16" stroke="#ff0000" stroke-width="0.6" fill="none"/>
<rect x="139.60" y="7.00" width="58.30" height="22.30" fill="#fff" stroke="#a0a0a0" stroke-width="0.9"/>
<path d="M152.35 13.50H157.85M155.10 10.75V16.25" stroke="#ff0000" stroke-width="0.55" fill="none"/>
<text x="169.90" y="16.25" font-size="7.6">Female</text>
<path d="M155.10 19.80L157.85 24.60H152.35Z" stroke="#0000ff" stroke-width="0.65" fill="none" stroke-linejoin="miter"/>
<text x="169.90" y="26.05" font-size="7.6">Male</text>
<rect x="390.90" y="15.50" width="62.50" height="52.00" fill="#fff" stroke="#a0a0a0" stroke-width="0.9"/>
<path d="M403.45 21.80H408.95M406.20 19.05V24.55" stroke="#ff0000" stroke-width="0.55" fill="none"/>
<text x="420.80" y="24.55" font-size="7.6">North</text>
<circle cx="406.20" cy="31.70" r="2.85" stroke="#3aa52a" stroke-width="0.55" fill="none"/>
<text x="420.80" y="34.45" font-size="7.6">Occident</text>
<path d="M406.20 38.10L408.75 41.60L406.20 45.10L403.65 41.60Z" stroke="#0000ff" stroke-width="0.65" fill="none"/>
<text x="420.80" y="44.35" font-size="7.6">Orient</text>
<path d="M403.70 51.50H408.70M406.20 49.00V54.00M404.43 49.73L407.97 53.27M404.43 53.27L407.97 49.73" stroke="#ff00ff" stroke-width="0.6" fill="none"/>
<text x="420.80" y="54.25" font-size="7.6">South</text>
<path d="M406.20 58.00L409.15 63.20H403.25Z" stroke="#262626" stroke-width="0.65" fill="none" stroke-linejoin="miter"/>
<text x="420.80" y="64.15" font-size="7.6">Center</text>
<rect x="606.70" y="14.70" width="76.50" height="31.70" fill="#fff" stroke="#a0a0a0" stroke-width="0.9"/>
<path d="M619.35 20.80H624.25M621.80 18.35V23.25M620.07 19.07L623.53 22.53M620.07 22.53L623.53 19.07" stroke="#ff0000" stroke-width="0.6" fill="none"/>
<text x="637.00" y="23.55" font-size="7.6">Intra-aural</text>
<path d="M621.80 27.25L624.55 32.05H619.05Z" stroke="#0000ff" stroke-width="0.65" fill="none" stroke-linejoin="miter"/>
<text x="637.00" y="33.50" font-size="7.6">Supra-aural</text>
<circle cx="621.80" cy="40.70" r="2.65" stroke="#2ea82a" stroke-width="0.85" fill="none"/>
<text x="637.00" y="43.45" font-size="7.6">Circum-aural</text>
</svg>
</body></html>
